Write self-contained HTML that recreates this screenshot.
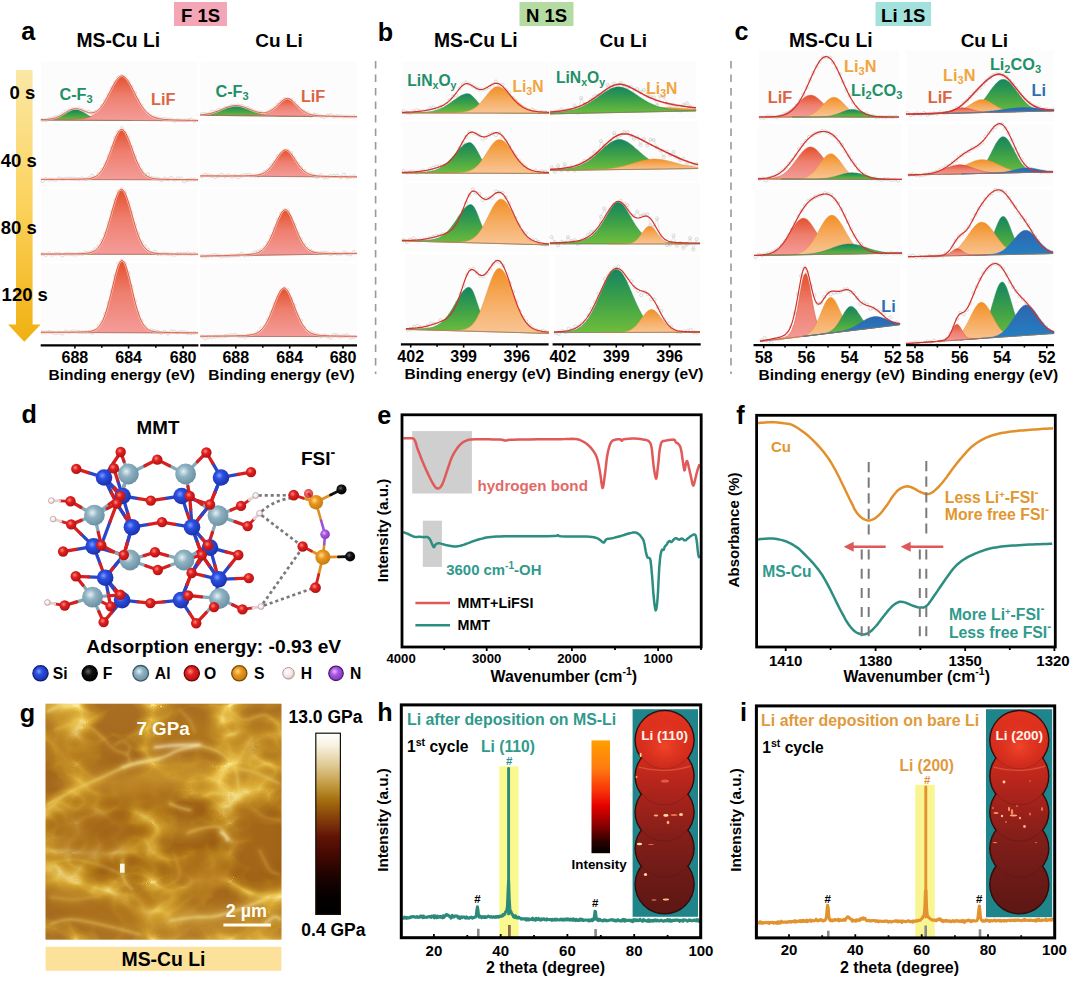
<!DOCTYPE html>
<html><head><meta charset="utf-8"><title>figure</title>
<style>
html,body{margin:0;padding:0;background:#fff;}
svg{display:block;}
text{font-family:"Liberation Sans",sans-serif;}
</style></head><body>
<svg width="1080" height="983" viewBox="0 0 1080 983">
<defs>

<marker id="mk" markerWidth="5" markerHeight="5" refX="2.5" refY="2.5" markerUnits="userSpaceOnUse"><circle cx="2.5" cy="2.5" r="1.6" fill="none" stroke="#c6c6c6" stroke-width="0.6"/></marker>
<linearGradient id="gR" x1="0" y1="0" x2="0" y2="1"><stop offset="0" stop-color="#e4502d"/><stop offset="0.45" stop-color="#ee7f6e"/><stop offset="1" stop-color="#f49c9a"/></linearGradient>
<linearGradient id="gG" x1="0" y1="0" x2="0" y2="1"><stop offset="0" stop-color="#148561"/><stop offset="0.5" stop-color="#3fa147"/><stop offset="1" stop-color="#6fbe3c"/></linearGradient>
<linearGradient id="gO" x1="0" y1="0" x2="0" y2="1"><stop offset="0" stop-color="#f28f25"/><stop offset="0.5" stop-color="#f6ad62"/><stop offset="1" stop-color="#f8c595"/></linearGradient>
<linearGradient id="gB" x1="0" y1="0" x2="0" y2="1"><stop offset="0" stop-color="#2e66b0"/><stop offset="1" stop-color="#2380c2"/></linearGradient>
<linearGradient id="gArrow" x1="0" y1="0" x2="0" y2="1"><stop offset="0" stop-color="#fbe8a6"/><stop offset="0.5" stop-color="#fbd25c"/><stop offset="1" stop-color="#f0b010"/></linearGradient>


<radialGradient id="aSi" cx="0.4" cy="0.38" r="0.65"><stop offset="0" stop-color="#7f9cff"/><stop offset="0.35" stop-color="#2a4fe0"/><stop offset="1" stop-color="#1a2fa8"/></radialGradient>
<radialGradient id="aAl" cx="0.4" cy="0.38" r="0.65"><stop offset="0" stop-color="#e4f0f4"/><stop offset="0.4" stop-color="#8fb2c2"/><stop offset="1" stop-color="#6a8fa2"/></radialGradient>
<radialGradient id="aO" cx="0.4" cy="0.38" r="0.65"><stop offset="0" stop-color="#ff8a80"/><stop offset="0.4" stop-color="#e02020"/><stop offset="1" stop-color="#b01010"/></radialGradient>
<radialGradient id="aS" cx="0.4" cy="0.38" r="0.65"><stop offset="0" stop-color="#ffd98a"/><stop offset="0.4" stop-color="#ea961e"/><stop offset="1" stop-color="#c07a10"/></radialGradient>
<radialGradient id="aN" cx="0.4" cy="0.38" r="0.65"><stop offset="0" stop-color="#e4b8ff"/><stop offset="0.4" stop-color="#a855e0"/><stop offset="1" stop-color="#8238b8"/></radialGradient>
<radialGradient id="aF" cx="0.4" cy="0.38" r="0.65"><stop offset="0" stop-color="#666"/><stop offset="0.4" stop-color="#111"/><stop offset="1" stop-color="#000"/></radialGradient>
<radialGradient id="aH" cx="0.4" cy="0.38" r="0.65"><stop offset="0" stop-color="#fff"/><stop offset="0.6" stop-color="#f6e6e6"/><stop offset="1" stop-color="#d8b8b8"/></radialGradient>


<linearGradient id="cbar" x1="0" y1="0" x2="0" y2="1">
 <stop offset="0" stop-color="#ffffff"/><stop offset="0.07" stop-color="#f7f1de"/><stop offset="0.19" stop-color="#dcc58a"/><stop offset="0.29" stop-color="#c0983c"/>
 <stop offset="0.37" stop-color="#a56e0e"/><stop offset="0.47" stop-color="#853f0a"/><stop offset="0.57" stop-color="#611406"/><stop offset="0.67" stop-color="#440902"/>
 <stop offset="0.79" stop-color="#1c0300"/><stop offset="0.9" stop-color="#050000"/><stop offset="1" stop-color="#000000"/></linearGradient>
<linearGradient id="ibar" x1="0" y1="0" x2="0" y2="1">
 <stop offset="0" stop-color="#ffa000"/><stop offset="0.25" stop-color="#ff7a10"/><stop offset="0.45" stop-color="#f83208"/>
 <stop offset="0.58" stop-color="#e60000"/><stop offset="0.75" stop-color="#8c0000"/><stop offset="0.9" stop-color="#2a0000"/><stop offset="1" stop-color="#000"/></linearGradient>
<filter id="afmN" x="0" y="0" width="1" height="1" color-interpolation-filters="sRGB">
 <feTurbulence type="turbulence" baseFrequency="0.013 0.017" numOctaves="3" seed="11"/>
 <feColorMatrix type="matrix" values="1 0 0 0 0  0 0 0 0 0  0 0 0 0 0  0 0 0 0 1" result="A"/>
 <feTurbulence type="fractalNoise" baseFrequency="0.009 0.011" numOctaves="2" seed="5"/>
 <feColorMatrix type="matrix" values="0 0 0 0 0  1 0 0 0 0  0 0 0 0 0  0 0 0 0 1" result="B"/>
 <feComposite in="A" in2="B" operator="arithmetic" k1="0" k2="1" k3="1" k4="0"/>
 <feColorMatrix type="matrix" values="-2.0 0.7 0 0 0.58  -2.0 0.7 0 0 0.58  -2.0 0.7 0 0 0.58  0 0 0 0 1"/>
 <feComponentTransfer>
  <feFuncR type="table" tableValues="0.63 0.66 0.68 0.70 0.735 0.77 0.815 0.86 0.915 0.96 1.0"/>
  <feFuncG type="table" tableValues="0.385 0.42 0.445 0.475 0.515 0.56 0.615 0.675 0.76 0.845 0.94"/>
  <feFuncB type="table" tableValues="0.095 0.10 0.105 0.11 0.125 0.14 0.175 0.22 0.31 0.43 0.66"/>
 </feComponentTransfer>
</filter>
<linearGradient id="afmV" x1="0" y1="0" x2="0" y2="1"><stop offset="0" stop-color="#ffe07a" stop-opacity="0.10"/><stop offset="0.3" stop-color="#ffe07a" stop-opacity="0.04"/><stop offset="0.45" stop-color="#8a5000" stop-opacity="0.16"/><stop offset="0.72" stop-color="#8a5000" stop-opacity="0.16"/><stop offset="0.88" stop-color="#ffe07a" stop-opacity="0.06"/><stop offset="1" stop-color="#ffe07a" stop-opacity="0.14"/></linearGradient>
<filter id="b1" x="-0.2" y="-0.2" width="1.4" height="1.4"><feGaussianBlur stdDeviation="1.1"/></filter>
<filter id="b2" x="-0.2" y="-0.2" width="1.4" height="1.4"><feGaussianBlur stdDeviation="2.4"/></filter>
<filter id="b6" x="-0.3" y="-0.3" width="1.6" height="1.6"><feGaussianBlur stdDeviation="7"/></filter>
<filter id="b05" x="-0.5" y="-0.5" width="2" height="2"><feGaussianBlur stdDeviation="0.7"/></filter>
<clipPath id="afmClip"><rect x="45.6" y="703.8" width="235.8" height="235.8"/></clipPath>

<linearGradient id="ins1" gradientUnits="userSpaceOnUse" x1="0" y1="710" x2="0" y2="915"><stop offset="0" stop-color="#e2341e"/><stop offset="0.22" stop-color="#d22b1c"/><stop offset="0.42" stop-color="#a9231b"/><stop offset="0.62" stop-color="#831e19"/><stop offset="0.82" stop-color="#6c1a17"/><stop offset="1" stop-color="#5c1714"/></linearGradient>
<radialGradient id="ins1h" gradientUnits="userSpaceOnUse" cx="664.6" cy="746" r="27"><stop offset="0" stop-color="#f4472c" stop-opacity="0.9"/><stop offset="1" stop-color="#e2341e" stop-opacity="0"/></radialGradient>
<linearGradient id="ins2" gradientUnits="userSpaceOnUse" x1="0" y1="710" x2="0" y2="915"><stop offset="0" stop-color="#e2341e"/><stop offset="0.22" stop-color="#d22b1c"/><stop offset="0.42" stop-color="#a9231b"/><stop offset="0.62" stop-color="#831e19"/><stop offset="0.82" stop-color="#6c1a17"/><stop offset="1" stop-color="#5c1714"/></linearGradient>
<radialGradient id="ins2h" gradientUnits="userSpaceOnUse" cx="1019.3" cy="746" r="27"><stop offset="0" stop-color="#f4472c" stop-opacity="0.9"/><stop offset="1" stop-color="#e2341e" stop-opacity="0"/></radialGradient>
</defs>
<rect width="1080" height="983" fill="#fff"/>
<rect x="174" y="2" width="53" height="24" fill="#f3a7b6"/>
<text x="200.5" y="21.5" font-size="18.5" fill="#000" text-anchor="middle" font-weight="bold" >F 1S</text>
<rect x="519.5" y="2" width="54" height="24" fill="#b4dca2"/>
<text x="546.5" y="21.5" font-size="18.5" fill="#000" text-anchor="middle" font-weight="bold" >N 1S</text>
<rect x="875.5" y="2" width="55.5" height="24" fill="#a3e1dd"/>
<text x="903.2" y="21.5" font-size="18.5" fill="#000" text-anchor="middle" font-weight="bold" >Li 1S</text>
<text x="21.2" y="39.7" font-size="25.2" fill="#000" text-anchor="start" font-weight="bold" >a</text>
<text x="377.8" y="40.7" font-size="25.2" fill="#000" text-anchor="start" font-weight="bold" >b</text>
<text x="734.6" y="39.7" font-size="25.2" fill="#000" text-anchor="start" font-weight="bold" >c</text>
<text x="118.3" y="47" font-size="19.3" fill="#000" text-anchor="middle" font-weight="bold" >MS-Cu Li</text>
<text x="475.8" y="47" font-size="19.3" fill="#000" text-anchor="middle" font-weight="bold" >MS-Cu Li</text>
<text x="830.8" y="47" font-size="19.3" fill="#000" text-anchor="middle" font-weight="bold" >MS-Cu Li</text>
<text x="279" y="47" font-size="19" fill="#000" text-anchor="middle" font-weight="bold" >Cu Li</text>
<text x="623.2" y="47" font-size="19" fill="#000" text-anchor="middle" font-weight="bold" >Cu Li</text>
<text x="984.4" y="47" font-size="19" fill="#000" text-anchor="middle" font-weight="bold" >Cu Li</text>
<path d="M375.6 61 V374" stroke="#9a9a9a" stroke-width="1.6" stroke-dasharray="7.5 6" fill="none"/>
<path d="M731 61 V374" stroke="#9a9a9a" stroke-width="1.6" stroke-dasharray="7.5 6" fill="none"/>
<path d="M16 70 H32.6 V324.5 H40.7 L24.3 341.8 L8 324.5 H16 Z" fill="url(#gArrow)"/>
<rect x="41" y="62" width="157" height="59.5" fill="#fcfcfc"/>
<path d="M42.5 120.2 L45.8 120.2 L49.1 119.2 L52.4 118.2 L55.7 117.2 L59 116.4 L62.3 114.1 L65.6 111.8 L68.9 110.7 L72.2 109.3 L75.5 108.9 L78.8 108.6 L82.1 110.1 L85.4 111.5 L88.7 111.8 L92 113.1 L95.3 112.1 L98.6 110.8 L101.9 105.9 L105.2 100.6 L108.5 95.1 L111.8 88.1 L115.1 82.5 L118.4 77.5 L121.7 76 L125 77.7 L128.3 81.5 L131.6 87 L134.9 93 L138.2 100.1 L141.5 105.6 L144.8 110.5 L148.1 113.6 L151.4 116.4 L154.7 117.4 L158 118.6 L161.3 119.4 L164.6 118.9 L167.9 119.5 L171.2 119.6 L174.5 121 L177.8 120 L181.1 120.5 L184.4 120.5 L187.7 120.1 L191 119.6 L194.3 120.9" fill="none" stroke="none" stroke-width="0.6" marker-start="url(#mk)" marker-mid="url(#mk)" marker-end="url(#mk)"/>
<path d="M41 120 L41 119.9 L42.1 119.9 L43.2 119.9 L44.3 119.9 L45.4 119.8 L46.5 119.8 L47.6 119.7 L48.7 119.6 L49.8 119.5 L51 119.3 L52.1 119.1 L53.2 118.9 L54.3 118.6 L55.4 118.3 L56.5 117.9 L57.6 117.5 L58.7 117 L59.8 116.5 L60.9 115.9 L62 115.3 L63.1 114.6 L64.2 114 L65.3 113.3 L66.4 112.7 L67.5 112 L68.6 111.4 L69.7 110.9 L70.9 110.4 L72 110.1 L73.1 109.8 L74.2 109.6 L75.3 109.6 L76.4 109.6 L77.5 109.8 L78.6 110.1 L79.7 110.5 L80.8 110.9 L81.9 111.5 L83 112.1 L84.1 112.7 L85.2 113.4 L86.3 114.1 L87.4 114.7 L88.5 115.4 L89.6 116 L90.8 116.6 L91.9 117.1 L93 117.6 L94.1 118.1 L95.2 118.4 L96.3 118.8 L97.4 119.1 L98.5 119.3 L99.6 119.5 L100.7 119.7 L101.8 119.8 L102.9 120 L104 120.1 L105.1 120.1 L106.2 120.2 L107.3 120.2 L108.4 120.3 L109.5 120.3 L110.7 120.3 L111.8 120.3 L112.9 120.3 L114 120.4 L115.1 120.4 L116.2 120.4 L117.3 120.4 L118.4 120.4 L119.5 120.4 L120.6 120.4 L121.7 120.4 L122.8 120.4 L123.9 120.4 L125 120.4 L126.1 120.4 L127.2 120.4 L128.3 120.4 L129.5 120.5 L130.6 120.5 L131.7 120.5 L132.8 120.5 L132.8 120.5 Z" fill="url(#gG)" stroke="#2a8a50" stroke-width="0.5"/>
<path d="M41 120 L41 119.7 L42.1 119.7 L43.2 119.7 L44.3 119.7 L45.4 119.7 L46.5 119.7 L47.6 119.7 L48.7 119.7 L49.8 119.7 L51 119.7 L52.1 119.6 L53.2 119.6 L54.3 119.6 L55.4 119.6 L56.5 119.6 L57.6 119.6 L58.7 119.6 L59.8 119.6 L60.9 119.6 L62 119.6 L63.1 119.5 L64.2 119.5 L65.3 119.5 L66.4 119.5 L67.5 119.5 L68.6 119.5 L69.7 119.4 L70.9 119.4 L72 119.4 L73.1 119.3 L74.2 119.3 L75.3 119.3 L76.4 119.2 L77.5 119.1 L78.6 119.1 L79.7 119 L80.8 118.9 L81.9 118.8 L83 118.6 L84.1 118.5 L85.2 118.3 L86.3 118 L87.4 117.7 L88.5 117.4 L89.6 117 L90.8 116.5 L91.9 116 L93 115.4 L94.1 114.7 L95.2 113.9 L96.3 112.9 L97.4 111.9 L98.5 110.7 L99.6 109.4 L100.7 108 L101.8 106.4 L102.9 104.7 L104 102.9 L105.1 101 L106.2 99 L107.3 96.9 L108.4 94.7 L109.5 92.5 L110.7 90.3 L111.8 88.1 L112.9 86 L114 84 L115.1 82.1 L116.2 80.4 L117.3 78.9 L118.4 77.7 L119.5 76.8 L120.6 76.2 L121.7 75.9 L122.8 76 L123.9 76.4 L125 77.2 L126.1 78.3 L127.2 79.6 L128.3 81.2 L129.5 83 L130.6 85 L131.7 87.1 L132.8 89.3 L133.9 91.5 L135 93.7 L136.1 95.9 L137.2 98 L138.3 100.1 L139.4 102.1 L140.5 104 L141.6 105.7 L142.7 107.4 L143.8 108.9 L144.9 110.3 L146 111.5 L147.1 112.6 L148.2 113.7 L149.4 114.5 L150.5 115.3 L151.6 116 L152.7 116.6 L153.8 117.1 L154.9 117.5 L156 117.9 L157.1 118.2 L158.2 118.5 L159.3 118.7 L160.4 118.9 L161.5 119.1 L162.6 119.2 L163.7 119.4 L164.8 119.5 L165.9 119.6 L167 119.6 L168.1 119.7 L169.3 119.8 L170.4 119.8 L171.5 119.9 L172.6 119.9 L173.7 119.9 L174.8 120 L175.9 120 L177 120 L178.1 120.1 L179.2 120.1 L180.3 120.1 L181.4 120.2 L182.5 120.2 L183.6 120.2 L184.7 120.2 L185.8 120.3 L186.9 120.3 L188 120.3 L189.2 120.3 L190.3 120.3 L191.4 120.4 L192.5 120.4 L193.6 120.4 L194.7 120.4 L195.8 120.4 L196.9 120.4 L198 120.5 L198 120.8 Z" fill="url(#gR)" stroke="#d8553a" stroke-width="0.5"/>
<path d="M41 120 L198 120.8" stroke="#9c7468" stroke-width="0.8" fill="none" opacity="0.8"/>
<path d="M41 119.6 L42.1 119.6 L43.2 119.6 L44.3 119.5 L45.4 119.5 L46.5 119.4 L47.6 119.3 L48.7 119.2 L49.8 119.1 L51 118.9 L52.1 118.7 L53.2 118.4 L54.3 118.2 L55.4 117.8 L56.5 117.4 L57.6 117 L58.7 116.5 L59.8 116 L60.9 115.4 L62 114.7 L63.1 114.1 L64.2 113.4 L65.3 112.7 L66.4 112 L67.5 111.4 L68.6 110.8 L69.7 110.2 L70.9 109.7 L72 109.3 L73.1 109 L74.2 108.8 L75.3 108.7 L76.4 108.7 L77.5 108.8 L78.6 109 L79.7 109.3 L80.8 109.6 L81.9 110 L83 110.5 L84.1 111 L85.2 111.4 L86.3 111.9 L87.4 112.2 L88.5 112.5 L89.6 112.8 L90.8 112.9 L91.9 112.9 L93 112.7 L94.1 112.5 L95.2 112 L96.3 111.4 L97.4 110.7 L98.5 109.7 L99.6 108.6 L100.7 107.4 L101.8 105.9 L102.9 104.4 L104 102.6 L105.1 100.8 L106.2 98.8 L107.3 96.7 L108.4 94.6 L109.5 92.4 L110.7 90.2 L111.8 88.1 L112.9 86 L114 84 L115.1 82.1 L116.2 80.4 L117.3 78.9 L118.4 77.7 L119.5 76.8 L120.6 76.2 L121.7 75.9 L122.8 76 L123.9 76.4 L125 77.2 L126.1 78.3 L127.2 79.6 L128.3 81.2 L129.5 83 L130.6 85 L131.7 87.1 L132.8 89.3 L133.9 91.5 L135 93.7 L136.1 95.9 L137.2 98 L138.3 100.1 L139.4 102.1 L140.5 104 L141.6 105.7 L142.7 107.4 L143.8 108.9 L144.9 110.3 L146 111.5 L147.1 112.6 L148.2 113.7 L149.4 114.5 L150.5 115.3 L151.6 116 L152.7 116.6 L153.8 117.1 L154.9 117.5 L156 117.9 L157.1 118.2 L158.2 118.5 L159.3 118.7 L160.4 118.9 L161.5 119.1 L162.6 119.2 L163.7 119.4 L164.8 119.5 L165.9 119.6 L167 119.6 L168.1 119.7 L169.3 119.8 L170.4 119.8 L171.5 119.9 L172.6 119.9 L173.7 119.9 L174.8 120 L175.9 120 L177 120 L178.1 120.1 L179.2 120.1 L180.3 120.1 L181.4 120.2 L182.5 120.2 L183.6 120.2 L184.7 120.2 L185.8 120.3 L186.9 120.3 L188 120.3 L189.2 120.3 L190.3 120.3 L191.4 120.4 L192.5 120.4 L193.6 120.4 L194.7 120.4 L195.8 120.4 L196.9 120.4 L198 120.5" fill="none" stroke="#fbe3d8" stroke-width="2.2" opacity="0.7"/>
<path d="M41 119.6 L42.1 119.6 L43.2 119.6 L44.3 119.5 L45.4 119.5 L46.5 119.4 L47.6 119.3 L48.7 119.2 L49.8 119.1 L51 118.9 L52.1 118.7 L53.2 118.4 L54.3 118.2 L55.4 117.8 L56.5 117.4 L57.6 117 L58.7 116.5 L59.8 116 L60.9 115.4 L62 114.7 L63.1 114.1 L64.2 113.4 L65.3 112.7 L66.4 112 L67.5 111.4 L68.6 110.8 L69.7 110.2 L70.9 109.7 L72 109.3 L73.1 109 L74.2 108.8 L75.3 108.7 L76.4 108.7 L77.5 108.8 L78.6 109 L79.7 109.3 L80.8 109.6 L81.9 110 L83 110.5 L84.1 111 L85.2 111.4 L86.3 111.9 L87.4 112.2 L88.5 112.5 L89.6 112.8 L90.8 112.9 L91.9 112.9 L93 112.7 L94.1 112.5 L95.2 112 L96.3 111.4 L97.4 110.7 L98.5 109.7 L99.6 108.6 L100.7 107.4 L101.8 105.9 L102.9 104.4 L104 102.6 L105.1 100.8 L106.2 98.8 L107.3 96.7 L108.4 94.6 L109.5 92.4 L110.7 90.2 L111.8 88.1 L112.9 86 L114 84 L115.1 82.1 L116.2 80.4 L117.3 78.9 L118.4 77.7 L119.5 76.8 L120.6 76.2 L121.7 75.9 L122.8 76 L123.9 76.4 L125 77.2 L126.1 78.3 L127.2 79.6 L128.3 81.2 L129.5 83 L130.6 85 L131.7 87.1 L132.8 89.3 L133.9 91.5 L135 93.7 L136.1 95.9 L137.2 98 L138.3 100.1 L139.4 102.1 L140.5 104 L141.6 105.7 L142.7 107.4 L143.8 108.9 L144.9 110.3 L146 111.5 L147.1 112.6 L148.2 113.7 L149.4 114.5 L150.5 115.3 L151.6 116 L152.7 116.6 L153.8 117.1 L154.9 117.5 L156 117.9 L157.1 118.2 L158.2 118.5 L159.3 118.7 L160.4 118.9 L161.5 119.1 L162.6 119.2 L163.7 119.4 L164.8 119.5 L165.9 119.6 L167 119.6 L168.1 119.7 L169.3 119.8 L170.4 119.8 L171.5 119.9 L172.6 119.9 L173.7 119.9 L174.8 120 L175.9 120 L177 120 L178.1 120.1 L179.2 120.1 L180.3 120.1 L181.4 120.2 L182.5 120.2 L183.6 120.2 L184.7 120.2 L185.8 120.3 L186.9 120.3 L188 120.3 L189.2 120.3 L190.3 120.3 L191.4 120.4 L192.5 120.4 L193.6 120.4 L194.7 120.4 L195.8 120.4 L196.9 120.4 L198 120.5" fill="none" stroke="#e0513a" stroke-width="0.9" stroke-linejoin="round"/>
<rect x="41" y="124" width="157" height="63" fill="#fcfcfc"/>
<path d="M42.5 181 L45.8 178.9 L49.1 179.6 L52.4 179.5 L55.7 179.9 L59 178.4 L62.3 179 L65.6 178.8 L68.9 178.5 L72.2 178.7 L75.5 178.9 L78.8 179 L82.1 178.4 L85.4 179.2 L88.7 178.2 L92 175.7 L95.3 177.5 L98.6 174 L101.9 169.8 L105.2 164.5 L108.5 156.6 L111.8 147.3 L115.1 137.8 L118.4 132 L121.7 128.3 L125 132.8 L128.3 137.6 L131.6 147.2 L134.9 156.5 L138.2 164.5 L141.5 170.2 L144.8 174.7 L148.1 174.2 L151.4 177.9 L154.7 178.5 L158 178.7 L161.3 180.2 L164.6 178.6 L167.9 179.2 L171.2 177.9 L174.5 179.6 L177.8 178.3 L181.1 178.4 L184.4 181.1 L187.7 180 L191 179.5 L194.3 179.7" fill="none" stroke="none" stroke-width="0.6" marker-start="url(#mk)" marker-mid="url(#mk)" marker-end="url(#mk)"/>
<path d="M41 179.5 L41 179.4 L42.1 179.4 L43.2 179.4 L44.3 179.4 L45.4 179.4 L46.5 179.4 L47.6 179.4 L48.7 179.4 L49.8 179.4 L51 179.4 L52.1 179.4 L53.2 179.4 L54.3 179.4 L55.4 179.4 L56.5 179.4 L57.6 179.3 L58.7 179.3 L59.8 179.3 L60.9 179.3 L62 179.3 L63.1 179.3 L64.2 179.3 L65.3 179.3 L66.4 179.3 L67.5 179.3 L68.6 179.3 L69.7 179.3 L70.9 179.3 L72 179.3 L73.1 179.2 L74.2 179.2 L75.3 179.2 L76.4 179.2 L77.5 179.2 L78.6 179.2 L79.7 179.1 L80.8 179.1 L81.9 179.1 L83 179 L84.1 179 L85.2 178.9 L86.3 178.9 L87.4 178.8 L88.5 178.6 L89.6 178.5 L90.8 178.3 L91.9 178 L93 177.7 L94.1 177.2 L95.2 176.7 L96.3 176.1 L97.4 175.3 L98.5 174.4 L99.6 173.2 L100.7 171.9 L101.8 170.4 L102.9 168.7 L104 166.7 L105.1 164.5 L106.2 162 L107.3 159.4 L108.4 156.6 L109.5 153.6 L110.7 150.5 L111.8 147.4 L112.9 144.3 L114 141.3 L115.1 138.5 L116.2 135.9 L117.3 133.7 L118.4 131.8 L119.5 130.5 L120.6 129.6 L121.7 129.4 L122.8 129.6 L123.9 130.5 L125 131.9 L126.1 133.7 L127.2 136 L128.3 138.6 L129.5 141.4 L130.6 144.4 L131.7 147.5 L132.8 150.6 L133.9 153.7 L135 156.7 L136.1 159.5 L137.2 162.1 L138.3 164.6 L139.4 166.8 L140.5 168.8 L141.6 170.5 L142.7 172 L143.8 173.4 L144.9 174.5 L146 175.4 L147.1 176.2 L148.2 176.8 L149.4 177.3 L150.5 177.8 L151.6 178.1 L152.7 178.4 L153.8 178.6 L154.9 178.8 L156 178.9 L157.1 179 L158.2 179.1 L159.3 179.1 L160.4 179.2 L161.5 179.2 L162.6 179.3 L163.7 179.3 L164.8 179.3 L165.9 179.4 L167 179.4 L168.1 179.4 L169.3 179.4 L170.4 179.4 L171.5 179.5 L172.6 179.5 L173.7 179.5 L174.8 179.5 L175.9 179.5 L177 179.5 L178.1 179.5 L179.2 179.5 L180.3 179.5 L181.4 179.6 L182.5 179.6 L183.6 179.6 L184.7 179.6 L185.8 179.6 L186.9 179.6 L188 179.6 L189.2 179.6 L190.3 179.6 L191.4 179.6 L192.5 179.6 L193.6 179.6 L194.7 179.7 L195.8 179.7 L196.9 179.7 L198 179.7 L198 179.8 Z" fill="url(#gR)" stroke="#d8553a" stroke-width="0.5"/>
<path d="M41 179.5 L198 179.8" stroke="#9c7468" stroke-width="0.8" fill="none" opacity="0.8"/>
<path d="M41 179.4 L42.1 179.4 L43.2 179.4 L44.3 179.4 L45.4 179.4 L46.5 179.4 L47.6 179.4 L48.7 179.4 L49.8 179.4 L51 179.4 L52.1 179.4 L53.2 179.4 L54.3 179.4 L55.4 179.4 L56.5 179.4 L57.6 179.3 L58.7 179.3 L59.8 179.3 L60.9 179.3 L62 179.3 L63.1 179.3 L64.2 179.3 L65.3 179.3 L66.4 179.3 L67.5 179.3 L68.6 179.3 L69.7 179.3 L70.9 179.3 L72 179.3 L73.1 179.2 L74.2 179.2 L75.3 179.2 L76.4 179.2 L77.5 179.2 L78.6 179.2 L79.7 179.1 L80.8 179.1 L81.9 179.1 L83 179 L84.1 179 L85.2 178.9 L86.3 178.9 L87.4 178.8 L88.5 178.6 L89.6 178.5 L90.8 178.3 L91.9 178 L93 177.7 L94.1 177.2 L95.2 176.7 L96.3 176.1 L97.4 175.3 L98.5 174.4 L99.6 173.2 L100.7 171.9 L101.8 170.4 L102.9 168.7 L104 166.7 L105.1 164.5 L106.2 162 L107.3 159.4 L108.4 156.6 L109.5 153.6 L110.7 150.5 L111.8 147.4 L112.9 144.3 L114 141.3 L115.1 138.5 L116.2 135.9 L117.3 133.7 L118.4 131.8 L119.5 130.5 L120.6 129.6 L121.7 129.4 L122.8 129.6 L123.9 130.5 L125 131.9 L126.1 133.7 L127.2 136 L128.3 138.6 L129.5 141.4 L130.6 144.4 L131.7 147.5 L132.8 150.6 L133.9 153.7 L135 156.7 L136.1 159.5 L137.2 162.1 L138.3 164.6 L139.4 166.8 L140.5 168.8 L141.6 170.5 L142.7 172 L143.8 173.4 L144.9 174.5 L146 175.4 L147.1 176.2 L148.2 176.8 L149.4 177.3 L150.5 177.8 L151.6 178.1 L152.7 178.4 L153.8 178.6 L154.9 178.8 L156 178.9 L157.1 179 L158.2 179.1 L159.3 179.1 L160.4 179.2 L161.5 179.2 L162.6 179.3 L163.7 179.3 L164.8 179.3 L165.9 179.4 L167 179.4 L168.1 179.4 L169.3 179.4 L170.4 179.4 L171.5 179.5 L172.6 179.5 L173.7 179.5 L174.8 179.5 L175.9 179.5 L177 179.5 L178.1 179.5 L179.2 179.5 L180.3 179.5 L181.4 179.6 L182.5 179.6 L183.6 179.6 L184.7 179.6 L185.8 179.6 L186.9 179.6 L188 179.6 L189.2 179.6 L190.3 179.6 L191.4 179.6 L192.5 179.6 L193.6 179.6 L194.7 179.7 L195.8 179.7 L196.9 179.7 L198 179.7" fill="none" stroke="#fbe3d8" stroke-width="2.2" opacity="0.7"/>
<path d="M41 179.4 L42.1 179.4 L43.2 179.4 L44.3 179.4 L45.4 179.4 L46.5 179.4 L47.6 179.4 L48.7 179.4 L49.8 179.4 L51 179.4 L52.1 179.4 L53.2 179.4 L54.3 179.4 L55.4 179.4 L56.5 179.4 L57.6 179.3 L58.7 179.3 L59.8 179.3 L60.9 179.3 L62 179.3 L63.1 179.3 L64.2 179.3 L65.3 179.3 L66.4 179.3 L67.5 179.3 L68.6 179.3 L69.7 179.3 L70.9 179.3 L72 179.3 L73.1 179.2 L74.2 179.2 L75.3 179.2 L76.4 179.2 L77.5 179.2 L78.6 179.2 L79.7 179.1 L80.8 179.1 L81.9 179.1 L83 179 L84.1 179 L85.2 178.9 L86.3 178.9 L87.4 178.8 L88.5 178.6 L89.6 178.5 L90.8 178.3 L91.9 178 L93 177.7 L94.1 177.2 L95.2 176.7 L96.3 176.1 L97.4 175.3 L98.5 174.4 L99.6 173.2 L100.7 171.9 L101.8 170.4 L102.9 168.7 L104 166.7 L105.1 164.5 L106.2 162 L107.3 159.4 L108.4 156.6 L109.5 153.6 L110.7 150.5 L111.8 147.4 L112.9 144.3 L114 141.3 L115.1 138.5 L116.2 135.9 L117.3 133.7 L118.4 131.8 L119.5 130.5 L120.6 129.6 L121.7 129.4 L122.8 129.6 L123.9 130.5 L125 131.9 L126.1 133.7 L127.2 136 L128.3 138.6 L129.5 141.4 L130.6 144.4 L131.7 147.5 L132.8 150.6 L133.9 153.7 L135 156.7 L136.1 159.5 L137.2 162.1 L138.3 164.6 L139.4 166.8 L140.5 168.8 L141.6 170.5 L142.7 172 L143.8 173.4 L144.9 174.5 L146 175.4 L147.1 176.2 L148.2 176.8 L149.4 177.3 L150.5 177.8 L151.6 178.1 L152.7 178.4 L153.8 178.6 L154.9 178.8 L156 178.9 L157.1 179 L158.2 179.1 L159.3 179.1 L160.4 179.2 L161.5 179.2 L162.6 179.3 L163.7 179.3 L164.8 179.3 L165.9 179.4 L167 179.4 L168.1 179.4 L169.3 179.4 L170.4 179.4 L171.5 179.5 L172.6 179.5 L173.7 179.5 L174.8 179.5 L175.9 179.5 L177 179.5 L178.1 179.5 L179.2 179.5 L180.3 179.5 L181.4 179.6 L182.5 179.6 L183.6 179.6 L184.7 179.6 L185.8 179.6 L186.9 179.6 L188 179.6 L189.2 179.6 L190.3 179.6 L191.4 179.6 L192.5 179.6 L193.6 179.6 L194.7 179.7 L195.8 179.7 L196.9 179.7 L198 179.7" fill="none" stroke="#e0513a" stroke-width="0.9" stroke-linejoin="round"/>
<rect x="41" y="189.5" width="157" height="71.5" fill="#fcfcfc"/>
<path d="M42.5 254.1 L45.8 254.9 L49.1 253.4 L52.4 254.7 L55.7 253.8 L59 253.8 L62.3 255.3 L65.6 254 L68.9 253.9 L72.2 254.4 L75.5 254.6 L78.8 253.7 L82.1 254 L85.4 252.7 L88.7 252.7 L92 251.8 L95.3 249.4 L98.6 246.1 L101.9 240.7 L105.2 233.8 L108.5 223.5 L111.8 211.5 L115.1 200.4 L118.4 191.2 L121.7 189.3 L125 193.1 L128.3 202.2 L131.6 212.6 L134.9 224.7 L138.2 233.7 L141.5 242.3 L144.8 246.1 L148.1 249.7 L151.4 253.1 L154.7 251.6 L158 254.1 L161.3 254 L164.6 253.6 L167.9 254.2 L171.2 254.3 L174.5 254.8 L177.8 253.9 L181.1 253.7 L184.4 253.7 L187.7 253.5 L191 254.2 L194.3 253.7" fill="none" stroke="none" stroke-width="0.6" marker-start="url(#mk)" marker-mid="url(#mk)" marker-end="url(#mk)"/>
<path d="M41 254.2 L41 254 L42.1 254 L43.2 254 L44.3 254 L45.4 254 L46.5 254 L47.6 254 L48.7 254 L49.8 254 L51 254 L52.1 254 L53.2 254 L54.3 254 L55.4 254 L56.5 254 L57.6 254 L58.7 254 L59.8 254 L60.9 254 L62 254 L63.1 253.9 L64.2 253.9 L65.3 253.9 L66.4 253.9 L67.5 253.9 L68.6 253.9 L69.7 253.9 L70.9 253.9 L72 253.9 L73.1 253.8 L74.2 253.8 L75.3 253.8 L76.4 253.8 L77.5 253.8 L78.6 253.7 L79.7 253.7 L80.8 253.7 L81.9 253.6 L83 253.6 L84.1 253.5 L85.2 253.4 L86.3 253.3 L87.4 253.2 L88.5 253 L89.6 252.8 L90.8 252.5 L91.9 252.1 L93 251.7 L94.1 251.1 L95.2 250.4 L96.3 249.5 L97.4 248.5 L98.5 247.2 L99.6 245.8 L100.7 244 L101.8 242 L102.9 239.7 L104 237.1 L105.1 234.1 L106.2 230.9 L107.3 227.5 L108.4 223.8 L109.5 219.9 L110.7 215.9 L111.8 211.9 L112.9 207.9 L114 204.1 L115.1 200.5 L116.2 197.2 L117.3 194.4 L118.4 192.1 L119.5 190.5 L120.6 189.5 L121.7 189.3 L122.8 189.8 L123.9 191 L125 192.9 L126.1 195.4 L127.2 198.4 L128.3 201.8 L129.5 205.5 L130.6 209.4 L131.7 213.5 L132.8 217.5 L133.9 221.4 L135 225.3 L136.1 228.9 L137.2 232.2 L138.3 235.3 L139.4 238.1 L140.5 240.6 L141.6 242.9 L142.7 244.8 L143.8 246.4 L144.9 247.8 L146 249 L147.1 250 L148.2 250.7 L149.4 251.4 L150.5 251.9 L151.6 252.3 L152.7 252.7 L153.8 252.9 L154.9 253.1 L156 253.3 L157.1 253.4 L158.2 253.5 L159.3 253.6 L160.4 253.7 L161.5 253.7 L162.6 253.8 L163.7 253.8 L164.8 253.8 L165.9 253.9 L167 253.9 L168.1 253.9 L169.3 253.9 L170.4 254 L171.5 254 L172.6 254 L173.7 254 L174.8 254 L175.9 254 L177 254.1 L178.1 254.1 L179.2 254.1 L180.3 254.1 L181.4 254.1 L182.5 254.1 L183.6 254.1 L184.7 254.1 L185.8 254.1 L186.9 254.2 L188 254.2 L189.2 254.2 L190.3 254.2 L191.4 254.2 L192.5 254.2 L193.6 254.2 L194.7 254.2 L195.8 254.2 L196.9 254.2 L198 254.2 L198 254.4 Z" fill="url(#gR)" stroke="#d8553a" stroke-width="0.5"/>
<path d="M41 254.2 L198 254.4" stroke="#9c7468" stroke-width="0.8" fill="none" opacity="0.8"/>
<path d="M41 254 L42.1 254 L43.2 254 L44.3 254 L45.4 254 L46.5 254 L47.6 254 L48.7 254 L49.8 254 L51 254 L52.1 254 L53.2 254 L54.3 254 L55.4 254 L56.5 254 L57.6 254 L58.7 254 L59.8 254 L60.9 254 L62 254 L63.1 253.9 L64.2 253.9 L65.3 253.9 L66.4 253.9 L67.5 253.9 L68.6 253.9 L69.7 253.9 L70.9 253.9 L72 253.9 L73.1 253.8 L74.2 253.8 L75.3 253.8 L76.4 253.8 L77.5 253.8 L78.6 253.7 L79.7 253.7 L80.8 253.7 L81.9 253.6 L83 253.6 L84.1 253.5 L85.2 253.4 L86.3 253.3 L87.4 253.2 L88.5 253 L89.6 252.8 L90.8 252.5 L91.9 252.1 L93 251.7 L94.1 251.1 L95.2 250.4 L96.3 249.5 L97.4 248.5 L98.5 247.2 L99.6 245.8 L100.7 244 L101.8 242 L102.9 239.7 L104 237.1 L105.1 234.1 L106.2 230.9 L107.3 227.5 L108.4 223.8 L109.5 219.9 L110.7 215.9 L111.8 211.9 L112.9 207.9 L114 204.1 L115.1 200.5 L116.2 197.2 L117.3 194.4 L118.4 192.1 L119.5 190.5 L120.6 189.5 L121.7 189.3 L122.8 189.8 L123.9 191 L125 192.9 L126.1 195.4 L127.2 198.4 L128.3 201.8 L129.5 205.5 L130.6 209.4 L131.7 213.5 L132.8 217.5 L133.9 221.4 L135 225.3 L136.1 228.9 L137.2 232.2 L138.3 235.3 L139.4 238.1 L140.5 240.6 L141.6 242.9 L142.7 244.8 L143.8 246.4 L144.9 247.8 L146 249 L147.1 250 L148.2 250.7 L149.4 251.4 L150.5 251.9 L151.6 252.3 L152.7 252.7 L153.8 252.9 L154.9 253.1 L156 253.3 L157.1 253.4 L158.2 253.5 L159.3 253.6 L160.4 253.7 L161.5 253.7 L162.6 253.8 L163.7 253.8 L164.8 253.8 L165.9 253.9 L167 253.9 L168.1 253.9 L169.3 253.9 L170.4 254 L171.5 254 L172.6 254 L173.7 254 L174.8 254 L175.9 254 L177 254.1 L178.1 254.1 L179.2 254.1 L180.3 254.1 L181.4 254.1 L182.5 254.1 L183.6 254.1 L184.7 254.1 L185.8 254.1 L186.9 254.2 L188 254.2 L189.2 254.2 L190.3 254.2 L191.4 254.2 L192.5 254.2 L193.6 254.2 L194.7 254.2 L195.8 254.2 L196.9 254.2 L198 254.2" fill="none" stroke="#fbe3d8" stroke-width="2.2" opacity="0.7"/>
<path d="M41 254 L42.1 254 L43.2 254 L44.3 254 L45.4 254 L46.5 254 L47.6 254 L48.7 254 L49.8 254 L51 254 L52.1 254 L53.2 254 L54.3 254 L55.4 254 L56.5 254 L57.6 254 L58.7 254 L59.8 254 L60.9 254 L62 254 L63.1 253.9 L64.2 253.9 L65.3 253.9 L66.4 253.9 L67.5 253.9 L68.6 253.9 L69.7 253.9 L70.9 253.9 L72 253.9 L73.1 253.8 L74.2 253.8 L75.3 253.8 L76.4 253.8 L77.5 253.8 L78.6 253.7 L79.7 253.7 L80.8 253.7 L81.9 253.6 L83 253.6 L84.1 253.5 L85.2 253.4 L86.3 253.3 L87.4 253.2 L88.5 253 L89.6 252.8 L90.8 252.5 L91.9 252.1 L93 251.7 L94.1 251.1 L95.2 250.4 L96.3 249.5 L97.4 248.5 L98.5 247.2 L99.6 245.8 L100.7 244 L101.8 242 L102.9 239.7 L104 237.1 L105.1 234.1 L106.2 230.9 L107.3 227.5 L108.4 223.8 L109.5 219.9 L110.7 215.9 L111.8 211.9 L112.9 207.9 L114 204.1 L115.1 200.5 L116.2 197.2 L117.3 194.4 L118.4 192.1 L119.5 190.5 L120.6 189.5 L121.7 189.3 L122.8 189.8 L123.9 191 L125 192.9 L126.1 195.4 L127.2 198.4 L128.3 201.8 L129.5 205.5 L130.6 209.4 L131.7 213.5 L132.8 217.5 L133.9 221.4 L135 225.3 L136.1 228.9 L137.2 232.2 L138.3 235.3 L139.4 238.1 L140.5 240.6 L141.6 242.9 L142.7 244.8 L143.8 246.4 L144.9 247.8 L146 249 L147.1 250 L148.2 250.7 L149.4 251.4 L150.5 251.9 L151.6 252.3 L152.7 252.7 L153.8 252.9 L154.9 253.1 L156 253.3 L157.1 253.4 L158.2 253.5 L159.3 253.6 L160.4 253.7 L161.5 253.7 L162.6 253.8 L163.7 253.8 L164.8 253.8 L165.9 253.9 L167 253.9 L168.1 253.9 L169.3 253.9 L170.4 254 L171.5 254 L172.6 254 L173.7 254 L174.8 254 L175.9 254 L177 254.1 L178.1 254.1 L179.2 254.1 L180.3 254.1 L181.4 254.1 L182.5 254.1 L183.6 254.1 L184.7 254.1 L185.8 254.1 L186.9 254.2 L188 254.2 L189.2 254.2 L190.3 254.2 L191.4 254.2 L192.5 254.2 L193.6 254.2 L194.7 254.2 L195.8 254.2 L196.9 254.2 L198 254.2" fill="none" stroke="#e0513a" stroke-width="0.9" stroke-linejoin="round"/>
<rect x="41" y="263.5" width="157" height="78.5" fill="#fcfcfc"/>
<path d="M42.5 332.3 L45.8 332.6 L49.1 331.9 L52.4 332.5 L55.7 333 L59 332.6 L62.3 333.5 L65.6 331.5 L68.9 332.2 L72.2 331.6 L75.5 331.5 L78.8 331.9 L82.1 332.1 L85.4 332.1 L88.7 331.9 L92 332.7 L95.3 330.3 L98.6 325.7 L101.9 322.3 L105.2 313.9 L108.5 303 L111.8 290.9 L115.1 275.8 L118.4 263.5 L121.7 260.7 L125 263.5 L128.3 272.8 L131.6 286.6 L134.9 300.7 L138.2 312.7 L141.5 320.8 L144.8 326.5 L148.1 330.9 L151.4 330.3 L154.7 331 L158 331.8 L161.3 333.1 L164.6 331.8 L167.9 333.6 L171.2 331.5 L174.5 331.7 L177.8 332.6 L181.1 332 L184.4 332.2 L187.7 333.1 L191 333.3 L194.3 332.9" fill="none" stroke="none" stroke-width="0.6" marker-start="url(#mk)" marker-mid="url(#mk)" marker-end="url(#mk)"/>
<path d="M41 332.4 L41 332.3 L42.1 332.3 L43.2 332.3 L44.3 332.3 L45.4 332.2 L46.5 332.2 L47.6 332.2 L48.7 332.2 L49.8 332.2 L51 332.2 L52.1 332.2 L53.2 332.2 L54.3 332.2 L55.4 332.2 L56.5 332.2 L57.6 332.2 L58.7 332.2 L59.8 332.2 L60.9 332.2 L62 332.2 L63.1 332.2 L64.2 332.2 L65.3 332.2 L66.4 332.2 L67.5 332.2 L68.6 332.2 L69.7 332.2 L70.9 332.2 L72 332.1 L73.1 332.1 L74.2 332.1 L75.3 332.1 L76.4 332.1 L77.5 332.1 L78.6 332 L79.7 332 L80.8 332 L81.9 332 L83 331.9 L84.1 331.9 L85.2 331.8 L86.3 331.8 L87.4 331.7 L88.5 331.5 L89.6 331.4 L90.8 331.2 L91.9 330.9 L93 330.6 L94.1 330.2 L95.2 329.7 L96.3 329 L97.4 328.1 L98.5 327.1 L99.6 325.8 L100.7 324.2 L101.8 322.3 L102.9 320.1 L104 317.5 L105.1 314.6 L106.2 311.3 L107.3 307.6 L108.4 303.6 L109.5 299.3 L110.7 294.7 L111.8 290 L112.9 285.3 L114 280.6 L115.1 276.1 L116.2 271.9 L117.3 268.2 L118.4 265.1 L119.5 262.7 L120.6 261.1 L121.7 260.4 L122.8 260.7 L123.9 261.8 L125 263.8 L126.1 266.5 L127.2 270 L128.3 273.9 L129.5 278.3 L130.6 282.9 L131.7 287.6 L132.8 292.4 L133.9 297 L135 301.5 L136.1 305.7 L137.2 309.5 L138.3 313 L139.4 316.2 L140.5 319 L141.6 321.4 L142.7 323.4 L143.8 325.1 L144.9 326.6 L146 327.8 L147.1 328.7 L148.2 329.5 L149.4 330.1 L150.5 330.6 L151.6 331 L152.7 331.3 L153.8 331.5 L154.9 331.7 L156 331.9 L157.1 332 L158.2 332.1 L159.3 332.1 L160.4 332.2 L161.5 332.2 L162.6 332.3 L163.7 332.3 L164.8 332.4 L165.9 332.4 L167 332.4 L168.1 332.4 L169.3 332.5 L170.4 332.5 L171.5 332.5 L172.6 332.5 L173.7 332.6 L174.8 332.6 L175.9 332.6 L177 332.6 L178.1 332.6 L179.2 332.6 L180.3 332.6 L181.4 332.7 L182.5 332.7 L183.6 332.7 L184.7 332.7 L185.8 332.7 L186.9 332.7 L188 332.7 L189.2 332.8 L190.3 332.8 L191.4 332.8 L192.5 332.8 L193.6 332.8 L194.7 332.8 L195.8 332.8 L196.9 332.8 L198 332.8 L198 333 Z" fill="url(#gR)" stroke="#d8553a" stroke-width="0.5"/>
<path d="M41 332.4 L198 333" stroke="#9c7468" stroke-width="0.8" fill="none" opacity="0.8"/>
<path d="M41 332.3 L42.1 332.3 L43.2 332.3 L44.3 332.3 L45.4 332.2 L46.5 332.2 L47.6 332.2 L48.7 332.2 L49.8 332.2 L51 332.2 L52.1 332.2 L53.2 332.2 L54.3 332.2 L55.4 332.2 L56.5 332.2 L57.6 332.2 L58.7 332.2 L59.8 332.2 L60.9 332.2 L62 332.2 L63.1 332.2 L64.2 332.2 L65.3 332.2 L66.4 332.2 L67.5 332.2 L68.6 332.2 L69.7 332.2 L70.9 332.2 L72 332.1 L73.1 332.1 L74.2 332.1 L75.3 332.1 L76.4 332.1 L77.5 332.1 L78.6 332 L79.7 332 L80.8 332 L81.9 332 L83 331.9 L84.1 331.9 L85.2 331.8 L86.3 331.8 L87.4 331.7 L88.5 331.5 L89.6 331.4 L90.8 331.2 L91.9 330.9 L93 330.6 L94.1 330.2 L95.2 329.7 L96.3 329 L97.4 328.1 L98.5 327.1 L99.6 325.8 L100.7 324.2 L101.8 322.3 L102.9 320.1 L104 317.5 L105.1 314.6 L106.2 311.3 L107.3 307.6 L108.4 303.6 L109.5 299.3 L110.7 294.7 L111.8 290 L112.9 285.3 L114 280.6 L115.1 276.1 L116.2 271.9 L117.3 268.2 L118.4 265.1 L119.5 262.7 L120.6 261.1 L121.7 260.4 L122.8 260.7 L123.9 261.8 L125 263.8 L126.1 266.5 L127.2 270 L128.3 273.9 L129.5 278.3 L130.6 282.9 L131.7 287.6 L132.8 292.4 L133.9 297 L135 301.5 L136.1 305.7 L137.2 309.5 L138.3 313 L139.4 316.2 L140.5 319 L141.6 321.4 L142.7 323.4 L143.8 325.1 L144.9 326.6 L146 327.8 L147.1 328.7 L148.2 329.5 L149.4 330.1 L150.5 330.6 L151.6 331 L152.7 331.3 L153.8 331.5 L154.9 331.7 L156 331.9 L157.1 332 L158.2 332.1 L159.3 332.1 L160.4 332.2 L161.5 332.2 L162.6 332.3 L163.7 332.3 L164.8 332.4 L165.9 332.4 L167 332.4 L168.1 332.4 L169.3 332.5 L170.4 332.5 L171.5 332.5 L172.6 332.5 L173.7 332.6 L174.8 332.6 L175.9 332.6 L177 332.6 L178.1 332.6 L179.2 332.6 L180.3 332.6 L181.4 332.7 L182.5 332.7 L183.6 332.7 L184.7 332.7 L185.8 332.7 L186.9 332.7 L188 332.7 L189.2 332.8 L190.3 332.8 L191.4 332.8 L192.5 332.8 L193.6 332.8 L194.7 332.8 L195.8 332.8 L196.9 332.8 L198 332.8" fill="none" stroke="#fbe3d8" stroke-width="2.2" opacity="0.7"/>
<path d="M41 332.3 L42.1 332.3 L43.2 332.3 L44.3 332.3 L45.4 332.2 L46.5 332.2 L47.6 332.2 L48.7 332.2 L49.8 332.2 L51 332.2 L52.1 332.2 L53.2 332.2 L54.3 332.2 L55.4 332.2 L56.5 332.2 L57.6 332.2 L58.7 332.2 L59.8 332.2 L60.9 332.2 L62 332.2 L63.1 332.2 L64.2 332.2 L65.3 332.2 L66.4 332.2 L67.5 332.2 L68.6 332.2 L69.7 332.2 L70.9 332.2 L72 332.1 L73.1 332.1 L74.2 332.1 L75.3 332.1 L76.4 332.1 L77.5 332.1 L78.6 332 L79.7 332 L80.8 332 L81.9 332 L83 331.9 L84.1 331.9 L85.2 331.8 L86.3 331.8 L87.4 331.7 L88.5 331.5 L89.6 331.4 L90.8 331.2 L91.9 330.9 L93 330.6 L94.1 330.2 L95.2 329.7 L96.3 329 L97.4 328.1 L98.5 327.1 L99.6 325.8 L100.7 324.2 L101.8 322.3 L102.9 320.1 L104 317.5 L105.1 314.6 L106.2 311.3 L107.3 307.6 L108.4 303.6 L109.5 299.3 L110.7 294.7 L111.8 290 L112.9 285.3 L114 280.6 L115.1 276.1 L116.2 271.9 L117.3 268.2 L118.4 265.1 L119.5 262.7 L120.6 261.1 L121.7 260.4 L122.8 260.7 L123.9 261.8 L125 263.8 L126.1 266.5 L127.2 270 L128.3 273.9 L129.5 278.3 L130.6 282.9 L131.7 287.6 L132.8 292.4 L133.9 297 L135 301.5 L136.1 305.7 L137.2 309.5 L138.3 313 L139.4 316.2 L140.5 319 L141.6 321.4 L142.7 323.4 L143.8 325.1 L144.9 326.6 L146 327.8 L147.1 328.7 L148.2 329.5 L149.4 330.1 L150.5 330.6 L151.6 331 L152.7 331.3 L153.8 331.5 L154.9 331.7 L156 331.9 L157.1 332 L158.2 332.1 L159.3 332.1 L160.4 332.2 L161.5 332.2 L162.6 332.3 L163.7 332.3 L164.8 332.4 L165.9 332.4 L167 332.4 L168.1 332.4 L169.3 332.5 L170.4 332.5 L171.5 332.5 L172.6 332.5 L173.7 332.6 L174.8 332.6 L175.9 332.6 L177 332.6 L178.1 332.6 L179.2 332.6 L180.3 332.6 L181.4 332.7 L182.5 332.7 L183.6 332.7 L184.7 332.7 L185.8 332.7 L186.9 332.7 L188 332.7 L189.2 332.8 L190.3 332.8 L191.4 332.8 L192.5 332.8 L193.6 332.8 L194.7 332.8 L195.8 332.8 L196.9 332.8 L198 332.8" fill="none" stroke="#e0513a" stroke-width="0.9" stroke-linejoin="round"/>
<path d="M40.7 345.4 H198.4" stroke="#000" stroke-width="2.2"/>
<path d="M74.9 345.4 v3 M128.6 345.4 v3 M183.1 345.4 v3 M101.8 345.4 v2.4 M155.8 345.4 v2.4 " stroke="#000" stroke-width="1.6"/>
<text x="74.9" y="362.7" font-size="16" fill="#000" text-anchor="middle" font-weight="bold" >688</text>
<text x="128.6" y="362.7" font-size="16" fill="#000" text-anchor="middle" font-weight="bold" >684</text>
<text x="183.1" y="362.7" font-size="16" fill="#000" text-anchor="middle" font-weight="bold" >680</text>
<text x="121.8" y="380.2" font-size="15.5" fill="#000" text-anchor="middle" font-weight="bold" >Binding energy (eV)</text>
<rect x="200.5" y="62" width="156.5" height="59.5" fill="#fcfcfc"/>
<path d="M202 114.1 L205.3 113.8 L208.6 114.1 L211.9 111.9 L215.2 111.9 L218.5 109.6 L221.8 109.9 L225.1 108.1 L228.4 107.5 L231.7 105.7 L235 105.8 L238.3 105.6 L241.6 106 L244.9 107.5 L248.2 108.1 L251.5 109.8 L254.8 111.6 L258.1 112.2 L261.4 112.5 L264.7 113.7 L268 111.9 L271.3 110 L274.6 107.9 L277.9 104.5 L281.2 101.4 L284.5 99 L287.8 99.5 L291.1 99.8 L294.4 102.8 L297.7 106.4 L301 110.2 L304.3 111.5 L307.6 113.1 L310.9 115.8 L314.2 114.5 L317.5 115.4 L320.8 116.2 L324.1 117.1 L327.4 115.6 L330.7 115 L334 116.6 L337.3 116.1 L340.6 116.2 L343.9 116.7 L347.2 116.6 L350.5 116.7 L353.8 116.4" fill="none" stroke="none" stroke-width="0.6" marker-start="url(#mk)" marker-mid="url(#mk)" marker-end="url(#mk)"/>
<path d="M200.5 115.3 L200.5 114.9 L201.6 114.8 L202.7 114.7 L203.8 114.6 L204.9 114.5 L206 114.3 L207.1 114.2 L208.2 114 L209.3 113.7 L210.4 113.5 L211.5 113.2 L212.6 112.9 L213.7 112.6 L214.8 112.2 L215.9 111.9 L217 111.5 L218.1 111 L219.2 110.6 L220.3 110.2 L221.4 109.7 L222.5 109.3 L223.6 108.8 L224.7 108.4 L225.8 107.9 L227 107.5 L228.1 107.2 L229.2 106.8 L230.3 106.5 L231.4 106.3 L232.5 106.1 L233.6 105.9 L234.7 105.9 L235.8 105.8 L236.9 105.9 L238 106 L239.1 106.1 L240.2 106.3 L241.3 106.6 L242.4 106.9 L243.5 107.3 L244.6 107.7 L245.7 108.1 L246.8 108.5 L247.9 109 L249 109.5 L250.1 110 L251.2 110.4 L252.3 110.9 L253.4 111.4 L254.5 111.8 L255.6 112.2 L256.7 112.6 L257.8 113 L258.9 113.4 L260 113.7 L261.1 114 L262.2 114.2 L263.3 114.5 L264.4 114.7 L265.5 114.9 L266.6 115.1 L267.7 115.2 L268.8 115.3 L269.9 115.5 L271 115.6 L272.1 115.6 L273.2 115.7 L274.3 115.8 L275.4 115.8 L276.5 115.9 L277.6 115.9 L278.8 116 L279.9 116 L281 116 L282.1 116 L283.2 116.1 L284.3 116.1 L285.4 116.1 L286.5 116.1 L287.6 116.1 L288.7 116.1 L289.8 116.1 L290.9 116.2 L292 116.2 L293.1 116.2 L294.2 116.2 L295.3 116.2 L296.4 116.2 L297.5 116.2 L298.6 116.2 L299.7 116.3 L300.8 116.3 L301.9 116.3 L303 116.3 L304.1 116.3 L305.2 116.3 L306.3 116.3 L307.4 116.3 L308.5 116.3 L309.6 116.3 L310.7 116.4 L311.8 116.4 L311.8 116.4 Z" fill="url(#gG)" stroke="#2a8a50" stroke-width="0.5"/>
<path d="M200.5 115.3 L200.5 115.2 L201.6 115.2 L202.7 115.2 L203.8 115.2 L204.9 115.2 L206 115.2 L207.1 115.3 L208.2 115.3 L209.3 115.3 L210.4 115.3 L211.5 115.3 L212.6 115.3 L213.7 115.3 L214.8 115.3 L215.9 115.3 L217 115.3 L218.1 115.3 L219.2 115.3 L220.3 115.3 L221.4 115.3 L222.5 115.3 L223.6 115.3 L224.7 115.4 L225.8 115.4 L227 115.4 L228.1 115.4 L229.2 115.4 L230.3 115.4 L231.4 115.4 L232.5 115.4 L233.6 115.4 L234.7 115.4 L235.8 115.4 L236.9 115.4 L238 115.4 L239.1 115.4 L240.2 115.4 L241.3 115.4 L242.4 115.4 L243.5 115.4 L244.6 115.3 L245.7 115.3 L246.8 115.3 L247.9 115.3 L249 115.3 L250.1 115.3 L251.2 115.3 L252.3 115.2 L253.4 115.2 L254.5 115.2 L255.6 115.1 L256.7 115 L257.8 115 L258.9 114.9 L260 114.7 L261.1 114.6 L262.2 114.4 L263.3 114.2 L264.4 113.9 L265.5 113.6 L266.6 113.2 L267.7 112.7 L268.8 112.2 L269.9 111.6 L271 110.8 L272.1 110.1 L273.2 109.2 L274.3 108.3 L275.4 107.2 L276.5 106.2 L277.6 105.1 L278.8 104 L279.9 102.9 L281 101.8 L282.1 100.9 L283.2 100 L284.3 99.3 L285.4 98.8 L286.5 98.5 L287.6 98.4 L288.7 98.6 L289.8 99.1 L290.9 99.7 L292 100.5 L293.1 101.4 L294.2 102.5 L295.3 103.6 L296.4 104.7 L297.5 105.8 L298.6 106.9 L299.7 108 L300.8 109 L301.9 109.9 L303 110.8 L304.1 111.5 L305.2 112.2 L306.3 112.8 L307.4 113.3 L308.5 113.8 L309.6 114.2 L310.7 114.5 L311.8 114.8 L312.9 115 L314 115.2 L315.1 115.3 L316.2 115.5 L317.3 115.6 L318.4 115.7 L319.5 115.7 L320.6 115.8 L321.7 115.9 L322.8 115.9 L323.9 116 L325 116 L326.1 116.1 L327.2 116.1 L328.3 116.1 L329.4 116.1 L330.5 116.2 L331.7 116.2 L332.8 116.2 L333.9 116.3 L335 116.3 L336.1 116.3 L337.2 116.3 L338.3 116.4 L339.4 116.4 L340.5 116.4 L341.6 116.4 L342.7 116.4 L343.8 116.5 L344.9 116.5 L346 116.5 L347.1 116.5 L348.2 116.5 L349.3 116.5 L350.4 116.6 L351.5 116.6 L352.6 116.6 L353.7 116.6 L354.8 116.6 L355.9 116.6 L357 116.7 L357 116.8 Z" fill="url(#gR)" stroke="#d8553a" stroke-width="0.5"/>
<path d="M200.5 115.3 L357 116.8" stroke="#9c7468" stroke-width="0.8" fill="none" opacity="0.8"/>
<path d="M200.5 114.8 L201.6 114.7 L202.7 114.6 L203.8 114.5 L204.9 114.4 L206 114.2 L207.1 114.1 L208.2 113.9 L209.3 113.6 L210.4 113.4 L211.5 113.1 L212.6 112.8 L213.7 112.5 L214.8 112.1 L215.9 111.7 L217 111.3 L218.1 110.9 L219.2 110.5 L220.3 110 L221.4 109.5 L222.5 109.1 L223.6 108.6 L224.7 108.2 L225.8 107.7 L227 107.3 L228.1 107 L229.2 106.6 L230.3 106.3 L231.4 106.1 L232.5 105.8 L233.6 105.7 L234.7 105.6 L235.8 105.6 L236.9 105.6 L238 105.7 L239.1 105.8 L240.2 106 L241.3 106.3 L242.4 106.6 L243.5 106.9 L244.6 107.3 L245.7 107.7 L246.8 108.1 L247.9 108.6 L249 109 L250.1 109.5 L251.2 109.9 L252.3 110.3 L253.4 110.7 L254.5 111.1 L255.6 111.5 L256.7 111.8 L257.8 112.1 L258.9 112.4 L260 112.5 L261.1 112.7 L262.2 112.7 L263.3 112.8 L264.4 112.7 L265.5 112.5 L266.6 112.3 L267.7 112 L268.8 111.6 L269.9 111 L271 110.4 L272.1 109.7 L273.2 108.9 L274.3 108 L275.4 107.1 L276.5 106 L277.6 105 L278.8 103.9 L279.9 102.8 L281 101.8 L282.1 100.8 L283.2 100 L284.3 99.3 L285.4 98.8 L286.5 98.5 L287.6 98.4 L288.7 98.6 L289.8 99 L290.9 99.7 L292 100.5 L293.1 101.4 L294.2 102.5 L295.3 103.6 L296.4 104.7 L297.5 105.8 L298.6 106.9 L299.7 108 L300.8 109 L301.9 109.9 L303 110.8 L304.1 111.5 L305.2 112.2 L306.3 112.8 L307.4 113.3 L308.5 113.8 L309.6 114.2 L310.7 114.5 L311.8 114.8 L312.9 115 L314 115.2 L315.1 115.3 L316.2 115.5 L317.3 115.6 L318.4 115.7 L319.5 115.7 L320.6 115.8 L321.7 115.9 L322.8 115.9 L323.9 116 L325 116 L326.1 116.1 L327.2 116.1 L328.3 116.1 L329.4 116.1 L330.5 116.2 L331.7 116.2 L332.8 116.2 L333.9 116.3 L335 116.3 L336.1 116.3 L337.2 116.3 L338.3 116.4 L339.4 116.4 L340.5 116.4 L341.6 116.4 L342.7 116.4 L343.8 116.5 L344.9 116.5 L346 116.5 L347.1 116.5 L348.2 116.5 L349.3 116.5 L350.4 116.6 L351.5 116.6 L352.6 116.6 L353.7 116.6 L354.8 116.6 L355.9 116.6 L357 116.7" fill="none" stroke="#fbe3d8" stroke-width="2.2" opacity="0.7"/>
<path d="M200.5 114.8 L201.6 114.7 L202.7 114.6 L203.8 114.5 L204.9 114.4 L206 114.2 L207.1 114.1 L208.2 113.9 L209.3 113.6 L210.4 113.4 L211.5 113.1 L212.6 112.8 L213.7 112.5 L214.8 112.1 L215.9 111.7 L217 111.3 L218.1 110.9 L219.2 110.5 L220.3 110 L221.4 109.5 L222.5 109.1 L223.6 108.6 L224.7 108.2 L225.8 107.7 L227 107.3 L228.1 107 L229.2 106.6 L230.3 106.3 L231.4 106.1 L232.5 105.8 L233.6 105.7 L234.7 105.6 L235.8 105.6 L236.9 105.6 L238 105.7 L239.1 105.8 L240.2 106 L241.3 106.3 L242.4 106.6 L243.5 106.9 L244.6 107.3 L245.7 107.7 L246.8 108.1 L247.9 108.6 L249 109 L250.1 109.5 L251.2 109.9 L252.3 110.3 L253.4 110.7 L254.5 111.1 L255.6 111.5 L256.7 111.8 L257.8 112.1 L258.9 112.4 L260 112.5 L261.1 112.7 L262.2 112.7 L263.3 112.8 L264.4 112.7 L265.5 112.5 L266.6 112.3 L267.7 112 L268.8 111.6 L269.9 111 L271 110.4 L272.1 109.7 L273.2 108.9 L274.3 108 L275.4 107.1 L276.5 106 L277.6 105 L278.8 103.9 L279.9 102.8 L281 101.8 L282.1 100.8 L283.2 100 L284.3 99.3 L285.4 98.8 L286.5 98.5 L287.6 98.4 L288.7 98.6 L289.8 99 L290.9 99.7 L292 100.5 L293.1 101.4 L294.2 102.5 L295.3 103.6 L296.4 104.7 L297.5 105.8 L298.6 106.9 L299.7 108 L300.8 109 L301.9 109.9 L303 110.8 L304.1 111.5 L305.2 112.2 L306.3 112.8 L307.4 113.3 L308.5 113.8 L309.6 114.2 L310.7 114.5 L311.8 114.8 L312.9 115 L314 115.2 L315.1 115.3 L316.2 115.5 L317.3 115.6 L318.4 115.7 L319.5 115.7 L320.6 115.8 L321.7 115.9 L322.8 115.9 L323.9 116 L325 116 L326.1 116.1 L327.2 116.1 L328.3 116.1 L329.4 116.1 L330.5 116.2 L331.7 116.2 L332.8 116.2 L333.9 116.3 L335 116.3 L336.1 116.3 L337.2 116.3 L338.3 116.4 L339.4 116.4 L340.5 116.4 L341.6 116.4 L342.7 116.4 L343.8 116.5 L344.9 116.5 L346 116.5 L347.1 116.5 L348.2 116.5 L349.3 116.5 L350.4 116.6 L351.5 116.6 L352.6 116.6 L353.7 116.6 L354.8 116.6 L355.9 116.6 L357 116.7" fill="none" stroke="#e0513a" stroke-width="0.9" stroke-linejoin="round"/>
<rect x="200.5" y="124" width="156.5" height="63" fill="#fcfcfc"/>
<path d="M202 176.3 L205.3 174.7 L208.6 175.4 L211.9 176 L215.2 177 L218.5 176 L221.8 174.8 L225.1 176.2 L228.4 175.1 L231.7 176.8 L235 175.8 L238.3 177.2 L241.6 175.8 L244.9 175.1 L248.2 174.8 L251.5 175.4 L254.8 175.7 L258.1 175.8 L261.4 174.2 L264.7 171.9 L268 170.3 L271.3 165.2 L274.6 162 L277.9 156.1 L281.2 153.4 L284.5 150.7 L287.8 150.8 L291.1 153 L294.4 158.8 L297.7 163.7 L301 167.4 L304.3 170.7 L307.6 174.3 L310.9 174.5 L314.2 175.8 L317.5 176.9 L320.8 175.1 L324.1 177.5 L327.4 177.1 L330.7 176 L334 175.9 L337.3 175.7 L340.6 177.3 L343.9 174.9 L347.2 177.4 L350.5 176.9 L353.8 176.3" fill="none" stroke="none" stroke-width="0.6" marker-start="url(#mk)" marker-mid="url(#mk)" marker-end="url(#mk)"/>
<path d="M200.5 176 L200.5 175.9 L201.6 175.9 L202.7 175.9 L203.8 175.9 L204.9 175.9 L206 175.9 L207.1 175.9 L208.2 175.9 L209.3 175.9 L210.4 175.9 L211.5 175.9 L212.6 175.9 L213.7 175.9 L214.8 175.9 L215.9 175.9 L217 175.9 L218.1 175.9 L219.2 176 L220.3 176 L221.4 176 L222.5 176 L223.6 176 L224.7 176 L225.8 176 L227 176 L228.1 176 L229.2 176 L230.3 175.9 L231.4 175.9 L232.5 175.9 L233.6 175.9 L234.7 175.9 L235.8 175.9 L236.9 175.9 L238 175.9 L239.1 175.9 L240.2 175.9 L241.3 175.9 L242.4 175.9 L243.5 175.9 L244.6 175.9 L245.7 175.8 L246.8 175.8 L247.9 175.8 L249 175.8 L250.1 175.7 L251.2 175.7 L252.3 175.6 L253.4 175.5 L254.5 175.4 L255.6 175.3 L256.7 175.2 L257.8 175 L258.9 174.8 L260 174.5 L261.1 174.2 L262.2 173.7 L263.3 173.2 L264.4 172.6 L265.5 171.9 L266.6 171.1 L267.7 170.2 L268.8 169.1 L269.9 167.9 L271 166.6 L272.1 165.2 L273.2 163.6 L274.3 162 L275.4 160.4 L276.5 158.7 L277.6 157 L278.8 155.4 L279.9 153.9 L281 152.6 L282.1 151.5 L283.2 150.6 L284.3 150.1 L285.4 149.9 L286.5 150 L287.6 150.4 L288.7 151.1 L289.8 152.2 L290.9 153.4 L292 154.8 L293.1 156.4 L294.2 158.1 L295.3 159.8 L296.4 161.4 L297.5 163.1 L298.6 164.7 L299.7 166.2 L300.8 167.5 L301.9 168.8 L303 169.9 L304.1 171 L305.2 171.8 L306.3 172.6 L307.4 173.3 L308.5 173.8 L309.6 174.3 L310.7 174.7 L311.8 175 L312.9 175.3 L314 175.5 L315.1 175.6 L316.2 175.8 L317.3 175.9 L318.4 176 L319.5 176.1 L320.6 176.1 L321.7 176.2 L322.8 176.3 L323.9 176.3 L325 176.3 L326.1 176.4 L327.2 176.4 L328.3 176.4 L329.4 176.4 L330.5 176.5 L331.7 176.5 L332.8 176.5 L333.9 176.5 L335 176.6 L336.1 176.6 L337.2 176.6 L338.3 176.6 L339.4 176.6 L340.5 176.7 L341.6 176.7 L342.7 176.7 L343.8 176.7 L344.9 176.7 L346 176.7 L347.1 176.7 L348.2 176.8 L349.3 176.8 L350.4 176.8 L351.5 176.8 L352.6 176.8 L353.7 176.8 L354.8 176.8 L355.9 176.8 L357 176.9 L357 177 Z" fill="url(#gR)" stroke="#d8553a" stroke-width="0.5"/>
<path d="M200.5 176 L357 177" stroke="#9c7468" stroke-width="0.8" fill="none" opacity="0.8"/>
<path d="M200.5 175.9 L201.6 175.9 L202.7 175.9 L203.8 175.9 L204.9 175.9 L206 175.9 L207.1 175.9 L208.2 175.9 L209.3 175.9 L210.4 175.9 L211.5 175.9 L212.6 175.9 L213.7 175.9 L214.8 175.9 L215.9 175.9 L217 175.9 L218.1 175.9 L219.2 176 L220.3 176 L221.4 176 L222.5 176 L223.6 176 L224.7 176 L225.8 176 L227 176 L228.1 176 L229.2 176 L230.3 175.9 L231.4 175.9 L232.5 175.9 L233.6 175.9 L234.7 175.9 L235.8 175.9 L236.9 175.9 L238 175.9 L239.1 175.9 L240.2 175.9 L241.3 175.9 L242.4 175.9 L243.5 175.9 L244.6 175.9 L245.7 175.8 L246.8 175.8 L247.9 175.8 L249 175.8 L250.1 175.7 L251.2 175.7 L252.3 175.6 L253.4 175.5 L254.5 175.4 L255.6 175.3 L256.7 175.2 L257.8 175 L258.9 174.8 L260 174.5 L261.1 174.2 L262.2 173.7 L263.3 173.2 L264.4 172.6 L265.5 171.9 L266.6 171.1 L267.7 170.2 L268.8 169.1 L269.9 167.9 L271 166.6 L272.1 165.2 L273.2 163.6 L274.3 162 L275.4 160.4 L276.5 158.7 L277.6 157 L278.8 155.4 L279.9 153.9 L281 152.6 L282.1 151.5 L283.2 150.6 L284.3 150.1 L285.4 149.9 L286.5 150 L287.6 150.4 L288.7 151.1 L289.8 152.2 L290.9 153.4 L292 154.8 L293.1 156.4 L294.2 158.1 L295.3 159.8 L296.4 161.4 L297.5 163.1 L298.6 164.7 L299.7 166.2 L300.8 167.5 L301.9 168.8 L303 169.9 L304.1 171 L305.2 171.8 L306.3 172.6 L307.4 173.3 L308.5 173.8 L309.6 174.3 L310.7 174.7 L311.8 175 L312.9 175.3 L314 175.5 L315.1 175.6 L316.2 175.8 L317.3 175.9 L318.4 176 L319.5 176.1 L320.6 176.1 L321.7 176.2 L322.8 176.3 L323.9 176.3 L325 176.3 L326.1 176.4 L327.2 176.4 L328.3 176.4 L329.4 176.4 L330.5 176.5 L331.7 176.5 L332.8 176.5 L333.9 176.5 L335 176.6 L336.1 176.6 L337.2 176.6 L338.3 176.6 L339.4 176.6 L340.5 176.7 L341.6 176.7 L342.7 176.7 L343.8 176.7 L344.9 176.7 L346 176.7 L347.1 176.7 L348.2 176.8 L349.3 176.8 L350.4 176.8 L351.5 176.8 L352.6 176.8 L353.7 176.8 L354.8 176.8 L355.9 176.8 L357 176.9" fill="none" stroke="#fbe3d8" stroke-width="2.2" opacity="0.7"/>
<path d="M200.5 175.9 L201.6 175.9 L202.7 175.9 L203.8 175.9 L204.9 175.9 L206 175.9 L207.1 175.9 L208.2 175.9 L209.3 175.9 L210.4 175.9 L211.5 175.9 L212.6 175.9 L213.7 175.9 L214.8 175.9 L215.9 175.9 L217 175.9 L218.1 175.9 L219.2 176 L220.3 176 L221.4 176 L222.5 176 L223.6 176 L224.7 176 L225.8 176 L227 176 L228.1 176 L229.2 176 L230.3 175.9 L231.4 175.9 L232.5 175.9 L233.6 175.9 L234.7 175.9 L235.8 175.9 L236.9 175.9 L238 175.9 L239.1 175.9 L240.2 175.9 L241.3 175.9 L242.4 175.9 L243.5 175.9 L244.6 175.9 L245.7 175.8 L246.8 175.8 L247.9 175.8 L249 175.8 L250.1 175.7 L251.2 175.7 L252.3 175.6 L253.4 175.5 L254.5 175.4 L255.6 175.3 L256.7 175.2 L257.8 175 L258.9 174.8 L260 174.5 L261.1 174.2 L262.2 173.7 L263.3 173.2 L264.4 172.6 L265.5 171.9 L266.6 171.1 L267.7 170.2 L268.8 169.1 L269.9 167.9 L271 166.6 L272.1 165.2 L273.2 163.6 L274.3 162 L275.4 160.4 L276.5 158.7 L277.6 157 L278.8 155.4 L279.9 153.9 L281 152.6 L282.1 151.5 L283.2 150.6 L284.3 150.1 L285.4 149.9 L286.5 150 L287.6 150.4 L288.7 151.1 L289.8 152.2 L290.9 153.4 L292 154.8 L293.1 156.4 L294.2 158.1 L295.3 159.8 L296.4 161.4 L297.5 163.1 L298.6 164.7 L299.7 166.2 L300.8 167.5 L301.9 168.8 L303 169.9 L304.1 171 L305.2 171.8 L306.3 172.6 L307.4 173.3 L308.5 173.8 L309.6 174.3 L310.7 174.7 L311.8 175 L312.9 175.3 L314 175.5 L315.1 175.6 L316.2 175.8 L317.3 175.9 L318.4 176 L319.5 176.1 L320.6 176.1 L321.7 176.2 L322.8 176.3 L323.9 176.3 L325 176.3 L326.1 176.4 L327.2 176.4 L328.3 176.4 L329.4 176.4 L330.5 176.5 L331.7 176.5 L332.8 176.5 L333.9 176.5 L335 176.6 L336.1 176.6 L337.2 176.6 L338.3 176.6 L339.4 176.6 L340.5 176.7 L341.6 176.7 L342.7 176.7 L343.8 176.7 L344.9 176.7 L346 176.7 L347.1 176.7 L348.2 176.8 L349.3 176.8 L350.4 176.8 L351.5 176.8 L352.6 176.8 L353.7 176.8 L354.8 176.8 L355.9 176.8 L357 176.9" fill="none" stroke="#e0513a" stroke-width="0.9" stroke-linejoin="round"/>
<rect x="200.5" y="189.5" width="156.5" height="71.5" fill="#fcfcfc"/>
<path d="M202 255.9 L205.3 256.4 L208.6 255.8 L211.9 255.6 L215.2 255.1 L218.5 255.5 L221.8 256.4 L225.1 255.8 L228.4 256.1 L231.7 255.5 L235 255.5 L238.3 255.2 L241.6 253.8 L244.9 255.3 L248.2 254.9 L251.5 254.5 L254.8 252.4 L258.1 251.3 L261.4 250.1 L264.7 247.3 L268 243.1 L271.3 236.3 L274.6 228.7 L277.9 219.6 L281.2 213.4 L284.5 210 L287.8 210.6 L291.1 217.8 L294.4 224.8 L297.7 233.5 L301 239.3 L304.3 244.7 L307.6 248.6 L310.9 250.9 L314.2 252.7 L317.5 253 L320.8 252.9 L324.1 252.6 L327.4 253 L330.7 254.3 L334 252.9 L337.3 253.6 L340.6 253.8 L343.9 252.4 L347.2 253.5 L350.5 254.3 L353.8 252" fill="none" stroke="none" stroke-width="0.6" marker-start="url(#mk)" marker-mid="url(#mk)" marker-end="url(#mk)"/>
<path d="M200.5 256.3 L200.5 256.1 L201.6 256.1 L202.7 256.1 L203.8 256 L204.9 256 L206 256 L207.1 256 L208.2 255.9 L209.3 255.9 L210.4 255.9 L211.5 255.9 L212.6 255.8 L213.7 255.8 L214.8 255.8 L215.9 255.8 L217 255.7 L218.1 255.7 L219.2 255.7 L220.3 255.6 L221.4 255.6 L222.5 255.6 L223.6 255.6 L224.7 255.5 L225.8 255.5 L227 255.5 L228.1 255.4 L229.2 255.4 L230.3 255.4 L231.4 255.3 L232.5 255.3 L233.6 255.2 L234.7 255.2 L235.8 255.2 L236.9 255.1 L238 255.1 L239.1 255 L240.2 255 L241.3 254.9 L242.4 254.9 L243.5 254.8 L244.6 254.8 L245.7 254.7 L246.8 254.6 L247.9 254.5 L249 254.5 L250.1 254.3 L251.2 254.2 L252.3 254.1 L253.4 253.9 L254.5 253.7 L255.6 253.4 L256.7 253.1 L257.8 252.7 L258.9 252.2 L260 251.6 L261.1 250.9 L262.2 250.1 L263.3 249.1 L264.4 248 L265.5 246.6 L266.6 245.1 L267.7 243.3 L268.8 241.4 L269.9 239.3 L271 236.9 L272.1 234.4 L273.2 231.8 L274.3 229 L275.4 226.2 L276.5 223.4 L277.6 220.6 L278.8 218 L279.9 215.7 L281 213.6 L282.1 211.9 L283.2 210.6 L284.3 209.9 L285.4 209.6 L286.5 210 L287.6 210.8 L288.7 212.2 L289.8 214 L290.9 216.1 L292 218.6 L293.1 221.2 L294.2 223.9 L295.3 226.7 L296.4 229.4 L297.5 232.1 L298.6 234.7 L299.7 237.1 L300.8 239.4 L301.9 241.4 L303 243.3 L304.1 244.9 L305.2 246.3 L306.3 247.6 L307.4 248.6 L308.5 249.5 L309.6 250.3 L310.7 250.9 L311.8 251.4 L312.9 251.8 L314 252.2 L315.1 252.4 L316.2 252.7 L317.3 252.8 L318.4 253 L319.5 253.1 L320.6 253.2 L321.7 253.2 L322.8 253.3 L323.9 253.3 L325 253.3 L326.1 253.4 L327.2 253.4 L328.3 253.4 L329.4 253.4 L330.5 253.4 L331.7 253.4 L332.8 253.5 L333.9 253.5 L335 253.5 L336.1 253.5 L337.2 253.5 L338.3 253.5 L339.4 253.5 L340.5 253.5 L341.6 253.5 L342.7 253.5 L343.8 253.4 L344.9 253.4 L346 253.4 L347.1 253.4 L348.2 253.4 L349.3 253.4 L350.4 253.4 L351.5 253.4 L352.6 253.4 L353.7 253.4 L354.8 253.4 L355.9 253.4 L357 253.3 L357 253.6 Z" fill="url(#gR)" stroke="#d8553a" stroke-width="0.5"/>
<path d="M200.5 256.3 L357 253.6" stroke="#9c7468" stroke-width="0.8" fill="none" opacity="0.8"/>
<path d="M200.5 256.1 L201.6 256.1 L202.7 256.1 L203.8 256 L204.9 256 L206 256 L207.1 256 L208.2 255.9 L209.3 255.9 L210.4 255.9 L211.5 255.9 L212.6 255.8 L213.7 255.8 L214.8 255.8 L215.9 255.8 L217 255.7 L218.1 255.7 L219.2 255.7 L220.3 255.6 L221.4 255.6 L222.5 255.6 L223.6 255.6 L224.7 255.5 L225.8 255.5 L227 255.5 L228.1 255.4 L229.2 255.4 L230.3 255.4 L231.4 255.3 L232.5 255.3 L233.6 255.2 L234.7 255.2 L235.8 255.2 L236.9 255.1 L238 255.1 L239.1 255 L240.2 255 L241.3 254.9 L242.4 254.9 L243.5 254.8 L244.6 254.8 L245.7 254.7 L246.8 254.6 L247.9 254.5 L249 254.5 L250.1 254.3 L251.2 254.2 L252.3 254.1 L253.4 253.9 L254.5 253.7 L255.6 253.4 L256.7 253.1 L257.8 252.7 L258.9 252.2 L260 251.6 L261.1 250.9 L262.2 250.1 L263.3 249.1 L264.4 248 L265.5 246.6 L266.6 245.1 L267.7 243.3 L268.8 241.4 L269.9 239.3 L271 236.9 L272.1 234.4 L273.2 231.8 L274.3 229 L275.4 226.2 L276.5 223.4 L277.6 220.6 L278.8 218 L279.9 215.7 L281 213.6 L282.1 211.9 L283.2 210.6 L284.3 209.9 L285.4 209.6 L286.5 210 L287.6 210.8 L288.7 212.2 L289.8 214 L290.9 216.1 L292 218.6 L293.1 221.2 L294.2 223.9 L295.3 226.7 L296.4 229.4 L297.5 232.1 L298.6 234.7 L299.7 237.1 L300.8 239.4 L301.9 241.4 L303 243.3 L304.1 244.9 L305.2 246.3 L306.3 247.6 L307.4 248.6 L308.5 249.5 L309.6 250.3 L310.7 250.9 L311.8 251.4 L312.9 251.8 L314 252.2 L315.1 252.4 L316.2 252.7 L317.3 252.8 L318.4 253 L319.5 253.1 L320.6 253.2 L321.7 253.2 L322.8 253.3 L323.9 253.3 L325 253.3 L326.1 253.4 L327.2 253.4 L328.3 253.4 L329.4 253.4 L330.5 253.4 L331.7 253.4 L332.8 253.5 L333.9 253.5 L335 253.5 L336.1 253.5 L337.2 253.5 L338.3 253.5 L339.4 253.5 L340.5 253.5 L341.6 253.5 L342.7 253.5 L343.8 253.4 L344.9 253.4 L346 253.4 L347.1 253.4 L348.2 253.4 L349.3 253.4 L350.4 253.4 L351.5 253.4 L352.6 253.4 L353.7 253.4 L354.8 253.4 L355.9 253.4 L357 253.3" fill="none" stroke="#fbe3d8" stroke-width="2.2" opacity="0.7"/>
<path d="M200.5 256.1 L201.6 256.1 L202.7 256.1 L203.8 256 L204.9 256 L206 256 L207.1 256 L208.2 255.9 L209.3 255.9 L210.4 255.9 L211.5 255.9 L212.6 255.8 L213.7 255.8 L214.8 255.8 L215.9 255.8 L217 255.7 L218.1 255.7 L219.2 255.7 L220.3 255.6 L221.4 255.6 L222.5 255.6 L223.6 255.6 L224.7 255.5 L225.8 255.5 L227 255.5 L228.1 255.4 L229.2 255.4 L230.3 255.4 L231.4 255.3 L232.5 255.3 L233.6 255.2 L234.7 255.2 L235.8 255.2 L236.9 255.1 L238 255.1 L239.1 255 L240.2 255 L241.3 254.9 L242.4 254.9 L243.5 254.8 L244.6 254.8 L245.7 254.7 L246.8 254.6 L247.9 254.5 L249 254.5 L250.1 254.3 L251.2 254.2 L252.3 254.1 L253.4 253.9 L254.5 253.7 L255.6 253.4 L256.7 253.1 L257.8 252.7 L258.9 252.2 L260 251.6 L261.1 250.9 L262.2 250.1 L263.3 249.1 L264.4 248 L265.5 246.6 L266.6 245.1 L267.7 243.3 L268.8 241.4 L269.9 239.3 L271 236.9 L272.1 234.4 L273.2 231.8 L274.3 229 L275.4 226.2 L276.5 223.4 L277.6 220.6 L278.8 218 L279.9 215.7 L281 213.6 L282.1 211.9 L283.2 210.6 L284.3 209.9 L285.4 209.6 L286.5 210 L287.6 210.8 L288.7 212.2 L289.8 214 L290.9 216.1 L292 218.6 L293.1 221.2 L294.2 223.9 L295.3 226.7 L296.4 229.4 L297.5 232.1 L298.6 234.7 L299.7 237.1 L300.8 239.4 L301.9 241.4 L303 243.3 L304.1 244.9 L305.2 246.3 L306.3 247.6 L307.4 248.6 L308.5 249.5 L309.6 250.3 L310.7 250.9 L311.8 251.4 L312.9 251.8 L314 252.2 L315.1 252.4 L316.2 252.7 L317.3 252.8 L318.4 253 L319.5 253.1 L320.6 253.2 L321.7 253.2 L322.8 253.3 L323.9 253.3 L325 253.3 L326.1 253.4 L327.2 253.4 L328.3 253.4 L329.4 253.4 L330.5 253.4 L331.7 253.4 L332.8 253.5 L333.9 253.5 L335 253.5 L336.1 253.5 L337.2 253.5 L338.3 253.5 L339.4 253.5 L340.5 253.5 L341.6 253.5 L342.7 253.5 L343.8 253.4 L344.9 253.4 L346 253.4 L347.1 253.4 L348.2 253.4 L349.3 253.4 L350.4 253.4 L351.5 253.4 L352.6 253.4 L353.7 253.4 L354.8 253.4 L355.9 253.4 L357 253.3" fill="none" stroke="#e0513a" stroke-width="0.9" stroke-linejoin="round"/>
<rect x="200.5" y="263.5" width="156.5" height="78.5" fill="#fcfcfc"/>
<path d="M202 336.5 L205.3 338.2 L208.6 337 L211.9 337 L215.2 336.6 L218.5 336.4 L221.8 336.6 L225.1 336 L228.4 335.4 L231.7 335.2 L235 334.9 L238.3 336 L241.6 336.2 L244.9 336.9 L248.2 335.7 L251.5 335.1 L254.8 334.5 L258.1 332.5 L261.4 328.3 L264.7 326.6 L268 319.5 L271.3 312.4 L274.6 303.5 L277.9 297.9 L281.2 290.7 L284.5 288.4 L287.8 290.2 L291.1 298.6 L294.4 305.6 L297.7 315.7 L301 320.6 L304.3 327.2 L307.6 331.6 L310.9 332.4 L314.2 334.5 L317.5 335.2 L320.8 336.3 L324.1 335.3 L327.4 336.4 L330.7 337.7 L334 334.8 L337.3 335.4 L340.6 336.6 L343.9 335.7 L347.2 335.2 L350.5 337.5 L353.8 337.2" fill="none" stroke="none" stroke-width="0.6" marker-start="url(#mk)" marker-mid="url(#mk)" marker-end="url(#mk)"/>
<path d="M200.5 336.4 L200.5 336.2 L201.6 336.2 L202.7 336.2 L203.8 336.2 L204.9 336.2 L206 336.2 L207.1 336.1 L208.2 336.1 L209.3 336.1 L210.4 336.1 L211.5 336.1 L212.6 336.1 L213.7 336.1 L214.8 336.1 L215.9 336.1 L217 336.1 L218.1 336.1 L219.2 336.1 L220.3 336.1 L221.4 336 L222.5 336 L223.6 336 L224.7 336 L225.8 336 L227 336 L228.1 336 L229.2 335.9 L230.3 335.9 L231.4 335.9 L232.5 335.9 L233.6 335.9 L234.7 335.8 L235.8 335.8 L236.9 335.8 L238 335.8 L239.1 335.7 L240.2 335.7 L241.3 335.6 L242.4 335.6 L243.5 335.5 L244.6 335.5 L245.7 335.4 L246.8 335.3 L247.9 335.2 L249 335.1 L250.1 335 L251.2 334.8 L252.3 334.6 L253.4 334.3 L254.5 334 L255.6 333.6 L256.7 333.1 L257.8 332.6 L258.9 331.9 L260 331 L261.1 330.1 L262.2 328.9 L263.3 327.6 L264.4 326.1 L265.5 324.4 L266.6 322.4 L267.7 320.3 L268.8 318 L269.9 315.5 L271 312.8 L272.1 310 L273.2 307.2 L274.3 304.3 L275.4 301.4 L276.5 298.6 L277.6 296 L278.8 293.6 L279.9 291.6 L281 289.9 L282.1 288.8 L283.2 288.1 L284.3 287.9 L285.4 288.3 L286.5 289.3 L287.6 290.7 L288.7 292.5 L289.8 294.7 L290.9 297.2 L292 299.9 L293.1 302.8 L294.2 305.7 L295.3 308.6 L296.4 311.4 L297.5 314.1 L298.6 316.7 L299.7 319.1 L300.8 321.4 L301.9 323.4 L303 325.2 L304.1 326.9 L305.2 328.3 L306.3 329.5 L307.4 330.6 L308.5 331.5 L309.6 332.3 L310.7 332.9 L311.8 333.5 L312.9 333.9 L314 334.2 L315.1 334.5 L316.2 334.8 L317.3 335 L318.4 335.1 L319.5 335.3 L320.6 335.4 L321.7 335.5 L322.8 335.6 L323.9 335.6 L325 335.7 L326.1 335.7 L327.2 335.8 L328.3 335.8 L329.4 335.9 L330.5 335.9 L331.7 335.9 L332.8 335.9 L333.9 336 L335 336 L336.1 336 L337.2 336 L338.3 336.1 L339.4 336.1 L340.5 336.1 L341.6 336.1 L342.7 336.1 L343.8 336.2 L344.9 336.2 L346 336.2 L347.1 336.2 L348.2 336.2 L349.3 336.2 L350.4 336.2 L351.5 336.3 L352.6 336.3 L353.7 336.3 L354.8 336.3 L355.9 336.3 L357 336.3 L357 336.6 Z" fill="url(#gR)" stroke="#d8553a" stroke-width="0.5"/>
<path d="M200.5 336.4 L357 336.6" stroke="#9c7468" stroke-width="0.8" fill="none" opacity="0.8"/>
<path d="M200.5 336.2 L201.6 336.2 L202.7 336.2 L203.8 336.2 L204.9 336.2 L206 336.2 L207.1 336.1 L208.2 336.1 L209.3 336.1 L210.4 336.1 L211.5 336.1 L212.6 336.1 L213.7 336.1 L214.8 336.1 L215.9 336.1 L217 336.1 L218.1 336.1 L219.2 336.1 L220.3 336.1 L221.4 336 L222.5 336 L223.6 336 L224.7 336 L225.8 336 L227 336 L228.1 336 L229.2 335.9 L230.3 335.9 L231.4 335.9 L232.5 335.9 L233.6 335.9 L234.7 335.8 L235.8 335.8 L236.9 335.8 L238 335.8 L239.1 335.7 L240.2 335.7 L241.3 335.6 L242.4 335.6 L243.5 335.5 L244.6 335.5 L245.7 335.4 L246.8 335.3 L247.9 335.2 L249 335.1 L250.1 335 L251.2 334.8 L252.3 334.6 L253.4 334.3 L254.5 334 L255.6 333.6 L256.7 333.1 L257.8 332.6 L258.9 331.9 L260 331 L261.1 330.1 L262.2 328.9 L263.3 327.6 L264.4 326.1 L265.5 324.4 L266.6 322.4 L267.7 320.3 L268.8 318 L269.9 315.5 L271 312.8 L272.1 310 L273.2 307.2 L274.3 304.3 L275.4 301.4 L276.5 298.6 L277.6 296 L278.8 293.6 L279.9 291.6 L281 289.9 L282.1 288.8 L283.2 288.1 L284.3 287.9 L285.4 288.3 L286.5 289.3 L287.6 290.7 L288.7 292.5 L289.8 294.7 L290.9 297.2 L292 299.9 L293.1 302.8 L294.2 305.7 L295.3 308.6 L296.4 311.4 L297.5 314.1 L298.6 316.7 L299.7 319.1 L300.8 321.4 L301.9 323.4 L303 325.2 L304.1 326.9 L305.2 328.3 L306.3 329.5 L307.4 330.6 L308.5 331.5 L309.6 332.3 L310.7 332.9 L311.8 333.5 L312.9 333.9 L314 334.2 L315.1 334.5 L316.2 334.8 L317.3 335 L318.4 335.1 L319.5 335.3 L320.6 335.4 L321.7 335.5 L322.8 335.6 L323.9 335.6 L325 335.7 L326.1 335.7 L327.2 335.8 L328.3 335.8 L329.4 335.9 L330.5 335.9 L331.7 335.9 L332.8 335.9 L333.9 336 L335 336 L336.1 336 L337.2 336 L338.3 336.1 L339.4 336.1 L340.5 336.1 L341.6 336.1 L342.7 336.1 L343.8 336.2 L344.9 336.2 L346 336.2 L347.1 336.2 L348.2 336.2 L349.3 336.2 L350.4 336.2 L351.5 336.3 L352.6 336.3 L353.7 336.3 L354.8 336.3 L355.9 336.3 L357 336.3" fill="none" stroke="#fbe3d8" stroke-width="2.2" opacity="0.7"/>
<path d="M200.5 336.2 L201.6 336.2 L202.7 336.2 L203.8 336.2 L204.9 336.2 L206 336.2 L207.1 336.1 L208.2 336.1 L209.3 336.1 L210.4 336.1 L211.5 336.1 L212.6 336.1 L213.7 336.1 L214.8 336.1 L215.9 336.1 L217 336.1 L218.1 336.1 L219.2 336.1 L220.3 336.1 L221.4 336 L222.5 336 L223.6 336 L224.7 336 L225.8 336 L227 336 L228.1 336 L229.2 335.9 L230.3 335.9 L231.4 335.9 L232.5 335.9 L233.6 335.9 L234.7 335.8 L235.8 335.8 L236.9 335.8 L238 335.8 L239.1 335.7 L240.2 335.7 L241.3 335.6 L242.4 335.6 L243.5 335.5 L244.6 335.5 L245.7 335.4 L246.8 335.3 L247.9 335.2 L249 335.1 L250.1 335 L251.2 334.8 L252.3 334.6 L253.4 334.3 L254.5 334 L255.6 333.6 L256.7 333.1 L257.8 332.6 L258.9 331.9 L260 331 L261.1 330.1 L262.2 328.9 L263.3 327.6 L264.4 326.1 L265.5 324.4 L266.6 322.4 L267.7 320.3 L268.8 318 L269.9 315.5 L271 312.8 L272.1 310 L273.2 307.2 L274.3 304.3 L275.4 301.4 L276.5 298.6 L277.6 296 L278.8 293.6 L279.9 291.6 L281 289.9 L282.1 288.8 L283.2 288.1 L284.3 287.9 L285.4 288.3 L286.5 289.3 L287.6 290.7 L288.7 292.5 L289.8 294.7 L290.9 297.2 L292 299.9 L293.1 302.8 L294.2 305.7 L295.3 308.6 L296.4 311.4 L297.5 314.1 L298.6 316.7 L299.7 319.1 L300.8 321.4 L301.9 323.4 L303 325.2 L304.1 326.9 L305.2 328.3 L306.3 329.5 L307.4 330.6 L308.5 331.5 L309.6 332.3 L310.7 332.9 L311.8 333.5 L312.9 333.9 L314 334.2 L315.1 334.5 L316.2 334.8 L317.3 335 L318.4 335.1 L319.5 335.3 L320.6 335.4 L321.7 335.5 L322.8 335.6 L323.9 335.6 L325 335.7 L326.1 335.7 L327.2 335.8 L328.3 335.8 L329.4 335.9 L330.5 335.9 L331.7 335.9 L332.8 335.9 L333.9 336 L335 336 L336.1 336 L337.2 336 L338.3 336.1 L339.4 336.1 L340.5 336.1 L341.6 336.1 L342.7 336.1 L343.8 336.2 L344.9 336.2 L346 336.2 L347.1 336.2 L348.2 336.2 L349.3 336.2 L350.4 336.2 L351.5 336.3 L352.6 336.3 L353.7 336.3 L354.8 336.3 L355.9 336.3 L357 336.3" fill="none" stroke="#e0513a" stroke-width="0.9" stroke-linejoin="round"/>
<path d="M200.2 345.4 H357" stroke="#000" stroke-width="2.2"/>
<path d="M235.8 345.4 v3 M289.7 345.4 v3 M343 345.4 v3 M262.8 345.4 v2.4 M316.4 345.4 v2.4 " stroke="#000" stroke-width="1.6"/>
<text x="235.8" y="362.7" font-size="16" fill="#000" text-anchor="middle" font-weight="bold" >688</text>
<text x="289.7" y="362.7" font-size="16" fill="#000" text-anchor="middle" font-weight="bold" >684</text>
<text x="343" y="362.7" font-size="16" fill="#000" text-anchor="middle" font-weight="bold" >680</text>
<text x="281.5" y="380.2" font-size="15.5" fill="#000" text-anchor="middle" font-weight="bold" >Binding energy (eV)</text>
<rect x="402" y="62" width="147" height="57" fill="#fcfcfc"/>
<path d="M403.5 111.1 L406.8 112.6 L410.1 113.1 L413.4 111.3 L416.7 110.3 L420 111.2 L423.3 111.3 L426.6 111.3 L429.9 108.4 L433.2 107.5 L436.5 108.6 L439.8 107.3 L443.1 106.8 L446.4 104.2 L449.7 100.3 L453 96.6 L456.3 95.3 L459.6 88.3 L462.9 84.4 L466.2 82.5 L469.5 84.3 L472.8 86.3 L476.1 87.8 L479.4 89.3 L482.7 89.6 L486 88.7 L489.3 87.1 L492.6 84.4 L495.9 81.5 L499.2 84.7 L502.5 84.9 L505.8 89.6 L509.1 92.3 L512.4 97.8 L515.7 100.7 L519 104.8 L522.3 110.2 L525.6 108.7 L528.9 110.8 L532.2 109.5 L535.5 111.1 L538.8 112.4 L542.1 111.9 L545.4 112.5" fill="none" stroke="none" stroke-width="0.6" marker-start="url(#mk)" marker-mid="url(#mk)" marker-end="url(#mk)"/>
<path d="M402 112.9 L402 112.7 L403.1 112.7 L404.2 112.7 L405.3 112.7 L406.4 112.7 L407.5 112.7 L408.6 112.7 L409.7 112.7 L410.8 112.6 L411.9 112.6 L413.1 112.6 L414.2 112.6 L415.3 112.6 L416.4 112.6 L417.5 112.5 L418.6 112.5 L419.7 112.5 L420.8 112.4 L421.9 112.4 L423 112.3 L424.1 112.3 L425.2 112.2 L426.3 112.1 L427.4 112 L428.5 111.9 L429.6 111.7 L430.7 111.6 L431.8 111.4 L432.9 111.2 L434.1 110.9 L435.2 110.6 L436.3 110.3 L437.4 110 L438.5 109.6 L439.6 109.2 L440.7 108.7 L441.8 108.2 L442.9 107.7 L444 107.1 L445.1 106.4 L446.2 105.8 L447.3 105.1 L448.4 104.3 L449.5 103.5 L450.6 102.8 L451.7 101.9 L452.8 101.1 L453.9 100.3 L455.1 99.5 L456.2 98.7 L457.3 97.9 L458.4 97.2 L459.5 96.5 L460.6 95.8 L461.7 95.3 L462.8 94.8 L463.9 94.4 L465 94 L466.1 93.8 L467.2 93.7 L468.3 93.8 L469.4 94.1 L470.5 94.6 L471.6 95.4 L472.7 96.4 L473.8 97.5 L474.9 98.7 L476.1 100 L477.2 101.4 L478.3 102.7 L479.4 104 L480.5 105.2 L481.6 106.3 L482.7 107.3 L483.8 108.2 L484.9 109 L486 109.7 L487.1 110.3 L488.2 110.8 L489.3 111.2 L490.4 111.6 L491.5 111.9 L492.6 112.1 L493.7 112.3 L494.8 112.4 L495.9 112.5 L497.1 112.6 L498.2 112.7 L499.3 112.7 L500.4 112.8 L501.5 112.8 L502.6 112.8 L503.7 112.8 L504.8 112.9 L505.9 112.9 L507 112.9 L508.1 112.9 L509.2 112.9 L510.3 112.9 L511.4 112.9 L512.5 113 L513.6 113 L514.7 113 L515.8 113 L516.9 113 L518.1 113 L519.2 113 L520.3 113 L521.4 113 L522.5 113 L523.6 113 L524.7 113 L525.8 113 L526.9 113.1 L528 113.1 L529.1 113.1 L530.2 113.1 L531.3 113.1 L532.4 113.1 L533.5 113.1 L534.6 113.1 L535.7 113.1 L536.8 113.1 L537.9 113.1 L539.1 113.1 L540.2 113.1 L541.3 113.1 L542.4 113.1 L543.5 113.1 L544.6 113.1 L545.7 113.1 L546.8 113.1 L547.9 113.1 L549 113.1 L549 113.2 Z" fill="url(#gG)" stroke="#2a8a50" stroke-width="0.5"/>
<path d="M402 112.9 L402 112.8 L403.1 112.8 L404.2 112.8 L405.3 112.8 L406.4 112.8 L407.5 112.8 L408.6 112.8 L409.7 112.8 L410.8 112.8 L411.9 112.8 L413.1 112.8 L414.2 112.8 L415.3 112.8 L416.4 112.8 L417.5 112.8 L418.6 112.8 L419.7 112.8 L420.8 112.8 L421.9 112.8 L423 112.8 L424.1 112.8 L425.2 112.8 L426.3 112.7 L427.4 112.7 L428.5 112.7 L429.6 112.7 L430.7 112.7 L431.8 112.7 L432.9 112.7 L434.1 112.7 L435.2 112.7 L436.3 112.7 L437.4 112.7 L438.5 112.7 L439.6 112.7 L440.7 112.7 L441.8 112.7 L442.9 112.6 L444 112.6 L445.1 112.6 L446.2 112.6 L447.3 112.6 L448.4 112.6 L449.5 112.6 L450.6 112.5 L451.7 112.5 L452.8 112.5 L453.9 112.5 L455.1 112.4 L456.2 112.4 L457.3 112.3 L458.4 112.3 L459.5 112.2 L460.6 112.1 L461.7 112 L462.8 111.9 L463.9 111.8 L465 111.6 L466.1 111.4 L467.2 111.1 L468.3 110.9 L469.4 110.5 L470.5 110.1 L471.6 109.6 L472.7 109.1 L473.8 108.5 L474.9 107.7 L476.1 107 L477.2 106.1 L478.3 105.1 L479.4 104 L480.5 102.9 L481.6 101.6 L482.7 100.3 L483.8 99 L484.9 97.6 L486 96.2 L487.1 94.8 L488.2 93.4 L489.3 92 L490.4 90.8 L491.5 89.6 L492.6 88.7 L493.7 87.8 L494.8 87.2 L495.9 86.8 L497.1 86.7 L498.2 86.8 L499.3 86.9 L500.4 87.3 L501.5 87.8 L502.6 88.3 L503.7 89 L504.8 89.8 L505.9 90.7 L507 91.7 L508.1 92.7 L509.2 93.7 L510.3 94.8 L511.4 95.9 L512.5 97 L513.6 98.1 L514.7 99.1 L515.8 100.2 L516.9 101.2 L518.1 102.2 L519.2 103.1 L520.3 104 L521.4 104.8 L522.5 105.6 L523.6 106.4 L524.7 107 L525.8 107.7 L526.9 108.2 L528 108.8 L529.1 109.2 L530.2 109.7 L531.3 110 L532.4 110.4 L533.5 110.7 L534.6 111 L535.7 111.2 L536.8 111.4 L537.9 111.6 L539.1 111.7 L540.2 111.9 L541.3 112 L542.4 112.1 L543.5 112.2 L544.6 112.3 L545.7 112.4 L546.8 112.4 L547.9 112.5 L549 112.5 L549 113.2 Z" fill="url(#gO)" stroke="#e89030" stroke-width="0.5"/>
<path d="M402 112.9 L549 113.2" stroke="#9c7468" stroke-width="0.8" fill="none" opacity="0.8"/>
<path d="M402 112.3 L403.1 112.3 L404.2 112.3 L405.3 112.3 L406.4 112.2 L407.5 112.2 L408.6 112.1 L409.7 112.1 L410.8 112 L411.9 112 L413.1 111.9 L414.2 111.8 L415.3 111.7 L416.4 111.6 L417.5 111.5 L418.6 111.4 L419.7 111.3 L420.8 111.1 L421.9 111 L423 110.8 L424.1 110.7 L425.2 110.5 L426.3 110.3 L427.4 110.1 L428.5 109.9 L429.6 109.6 L430.7 109.4 L431.8 109.2 L432.9 108.9 L434.1 108.6 L435.2 108.3 L436.3 108 L437.4 107.7 L438.5 107.3 L439.6 106.9 L440.7 106.4 L441.8 105.9 L442.9 105.4 L444 104.8 L445.1 104.1 L446.2 103.4 L447.3 102.5 L448.4 101.6 L449.5 100.6 L450.6 99.5 L451.7 98.3 L452.8 97.1 L453.9 95.7 L455.1 94.4 L456.2 92.9 L457.3 91.5 L458.4 90.1 L459.5 88.7 L460.6 87.4 L461.7 86.3 L462.8 85.3 L463.9 84.5 L465 84 L466.1 83.7 L467.2 83.6 L468.3 83.8 L469.4 84.2 L470.5 84.7 L471.6 85.4 L472.7 86.1 L473.8 86.8 L474.9 87.5 L476.1 88.1 L477.2 88.7 L478.3 89.1 L479.4 89.3 L480.5 89.5 L481.6 89.5 L482.7 89.3 L483.8 89 L484.9 88.5 L486 88 L487.1 87.4 L488.2 86.7 L489.3 86 L490.4 85.4 L491.5 84.7 L492.6 84.2 L493.7 83.7 L494.8 83.4 L495.9 83.3 L497.1 83.4 L498.2 83.6 L499.3 84 L500.4 84.7 L501.5 85.4 L502.6 86.4 L503.7 87.5 L504.8 88.6 L505.9 89.9 L507 91.2 L508.1 92.6 L509.2 93.9 L510.3 95.3 L511.4 96.7 L512.5 98 L513.6 99.3 L514.7 100.5 L515.8 101.6 L516.9 102.7 L518.1 103.7 L519.2 104.7 L520.3 105.5 L521.4 106.3 L522.5 107.1 L523.6 107.7 L524.7 108.3 L525.8 108.8 L526.9 109.3 L528 109.7 L529.1 110 L530.2 110.3 L531.3 110.6 L532.4 110.9 L533.5 111.1 L534.6 111.2 L535.7 111.4 L536.8 111.5 L537.9 111.7 L539.1 111.8 L540.2 111.8 L541.3 111.9 L542.4 112 L543.5 112.1 L544.6 112.1 L545.7 112.2 L546.8 112.2 L547.9 112.3 L549 112.3" fill="none" stroke="#d6312b" stroke-width="1.2" stroke-linejoin="round"/>
<rect x="402" y="121.5" width="147" height="59.5" fill="#fcfcfc"/>
<path d="M403.5 170.9 L406.8 172.5 L410.1 171.9 L413.4 171.5 L416.7 172.6 L420 171.4 L423.3 170.6 L426.6 172 L429.9 169 L433.2 167.5 L436.5 166.4 L439.8 166.2 L443.1 166 L446.4 164.4 L449.7 162.2 L453 159.5 L456.3 154.7 L459.6 148.1 L462.9 142.8 L466.2 136.8 L469.5 132.2 L472.8 133.1 L476.1 133.7 L479.4 135.4 L482.7 138.8 L486 137.4 L489.3 134.9 L492.6 133.6 L495.9 135.1 L499.2 133.2 L502.5 136.8 L505.8 141 L509.1 146.1 L512.4 151.8 L515.7 155.9 L519 160.5 L522.3 164.4 L525.6 166.9 L528.9 170 L532.2 172 L535.5 170.4 L538.8 172.4 L542.1 171.1 L545.4 171.7" fill="none" stroke="none" stroke-width="0.6" marker-start="url(#mk)" marker-mid="url(#mk)" marker-end="url(#mk)"/>
<path d="M402 173 L402 172.7 L403.1 172.7 L404.2 172.7 L405.3 172.7 L406.4 172.7 L407.5 172.7 L408.6 172.6 L409.7 172.6 L410.8 172.6 L411.9 172.6 L413.1 172.6 L414.2 172.6 L415.3 172.5 L416.4 172.5 L417.5 172.5 L418.6 172.5 L419.7 172.4 L420.8 172.4 L421.9 172.3 L423 172.2 L424.1 172.2 L425.2 172.1 L426.3 172 L427.4 171.8 L428.5 171.7 L429.6 171.5 L430.7 171.3 L431.8 171.1 L432.9 170.8 L434.1 170.5 L435.2 170.2 L436.3 169.8 L437.4 169.3 L438.5 168.8 L439.6 168.3 L440.7 167.6 L441.8 167 L442.9 166.2 L444 165.4 L445.1 164.5 L446.2 163.6 L447.3 162.5 L448.4 161.5 L449.5 160.3 L450.6 159.1 L451.7 157.9 L452.8 156.6 L453.9 155.4 L455.1 154 L456.2 152.7 L457.3 151.4 L458.4 150.2 L459.5 149 L460.6 147.8 L461.7 146.7 L462.8 145.7 L463.9 144.8 L465 144.1 L466.1 143.5 L467.2 143 L468.3 142.7 L469.4 142.6 L470.5 142.7 L471.6 143.3 L472.7 144.2 L473.8 145.5 L474.9 147.1 L476.1 148.9 L477.2 150.9 L478.3 153 L479.4 155.1 L480.5 157.2 L481.6 159.2 L482.7 161 L483.8 162.8 L484.9 164.4 L486 165.8 L487.1 167 L488.2 168.1 L489.3 169 L490.4 169.8 L491.5 170.4 L492.6 171 L493.7 171.4 L494.8 171.7 L495.9 172 L497.1 172.2 L498.2 172.4 L499.3 172.5 L500.4 172.6 L501.5 172.7 L502.6 172.7 L503.7 172.8 L504.8 172.8 L505.9 172.9 L507 172.9 L508.1 172.9 L509.2 172.9 L510.3 173 L511.4 173 L512.5 173 L513.6 173 L514.7 173 L515.8 173.1 L516.9 173.1 L518.1 173.1 L519.2 173.1 L520.3 173.1 L521.4 173.1 L522.5 173.1 L523.6 173.1 L524.7 173.2 L525.8 173.2 L526.9 173.2 L528 173.2 L529.1 173.2 L530.2 173.2 L531.3 173.2 L532.4 173.2 L533.5 173.2 L534.6 173.2 L535.7 173.2 L536.8 173.2 L537.9 173.2 L539.1 173.3 L540.2 173.3 L541.3 173.3 L542.4 173.3 L543.5 173.3 L544.6 173.3 L545.7 173.3 L546.8 173.3 L547.9 173.3 L549 173.3 L549 173.4 Z" fill="url(#gG)" stroke="#2a8a50" stroke-width="0.5"/>
<path d="M402 173 L402 172.9 L403.1 172.9 L404.2 172.9 L405.3 172.9 L406.4 172.9 L407.5 172.9 L408.6 172.9 L409.7 172.9 L410.8 172.9 L411.9 172.9 L413.1 172.9 L414.2 172.9 L415.3 172.9 L416.4 172.9 L417.5 172.9 L418.6 172.9 L419.7 172.9 L420.8 172.9 L421.9 172.9 L423 172.9 L424.1 172.9 L425.2 172.9 L426.3 172.9 L427.4 172.9 L428.5 172.9 L429.6 172.9 L430.7 172.9 L431.8 172.9 L432.9 172.9 L434.1 172.9 L435.2 172.9 L436.3 172.9 L437.4 172.9 L438.5 172.9 L439.6 172.9 L440.7 172.9 L441.8 172.9 L442.9 172.9 L444 172.9 L445.1 172.9 L446.2 172.9 L447.3 172.9 L448.4 172.9 L449.5 172.8 L450.6 172.8 L451.7 172.8 L452.8 172.8 L453.9 172.8 L455.1 172.7 L456.2 172.7 L457.3 172.7 L458.4 172.6 L459.5 172.6 L460.6 172.5 L461.7 172.4 L462.8 172.3 L463.9 172.1 L465 171.9 L466.1 171.7 L467.2 171.4 L468.3 171.1 L469.4 170.8 L470.5 170.3 L471.6 169.8 L472.7 169.2 L473.8 168.5 L474.9 167.7 L476.1 166.8 L477.2 165.8 L478.3 164.7 L479.4 163.4 L480.5 162.1 L481.6 160.6 L482.7 159.1 L483.8 157.5 L484.9 155.8 L486 154.1 L487.1 152.3 L488.2 150.5 L489.3 148.8 L490.4 147.1 L491.5 145.6 L492.6 144.1 L493.7 142.8 L494.8 141.7 L495.9 140.8 L497.1 140.2 L498.2 139.8 L499.3 139.7 L500.4 139.8 L501.5 140.1 L502.6 140.6 L503.7 141.3 L504.8 142.2 L505.9 143.2 L507 144.4 L508.1 145.7 L509.2 147.1 L510.3 148.5 L511.4 150 L512.5 151.5 L513.6 153.1 L514.7 154.6 L515.8 156.1 L516.9 157.6 L518.1 159 L519.2 160.4 L520.3 161.7 L521.4 162.9 L522.5 164 L523.6 165.1 L524.7 166 L525.8 166.9 L526.9 167.7 L528 168.4 L529.1 169.1 L530.2 169.6 L531.3 170.1 L532.4 170.6 L533.5 171 L534.6 171.3 L535.7 171.6 L536.8 171.8 L537.9 172 L539.1 172.2 L540.2 172.4 L541.3 172.5 L542.4 172.6 L543.5 172.7 L544.6 172.8 L545.7 172.8 L546.8 172.9 L547.9 172.9 L549 173 L549 173.4 Z" fill="url(#gO)" stroke="#e89030" stroke-width="0.5"/>
<path d="M402 173 L549 173.4" stroke="#9c7468" stroke-width="0.8" fill="none" opacity="0.8"/>
<path d="M402 172.4 L403.1 172.4 L404.2 172.4 L405.3 172.3 L406.4 172.3 L407.5 172.3 L408.6 172.2 L409.7 172.2 L410.8 172.1 L411.9 172.1 L413.1 172 L414.2 171.9 L415.3 171.8 L416.4 171.7 L417.5 171.6 L418.6 171.5 L419.7 171.4 L420.8 171.2 L421.9 171.1 L423 170.9 L424.1 170.7 L425.2 170.5 L426.3 170.3 L427.4 170.1 L428.5 169.8 L429.6 169.6 L430.7 169.3 L431.8 169.1 L432.9 168.8 L434.1 168.5 L435.2 168.2 L436.3 167.9 L437.4 167.5 L438.5 167.2 L439.6 166.8 L440.7 166.4 L441.8 165.9 L442.9 165.5 L444 164.9 L445.1 164.4 L446.2 163.7 L447.3 163 L448.4 162.2 L449.5 161.2 L450.6 160.2 L451.7 159.1 L452.8 157.8 L453.9 156.4 L455.1 154.9 L456.2 153.2 L457.3 151.4 L458.4 149.6 L459.5 147.6 L460.6 145.6 L461.7 143.6 L462.8 141.6 L463.9 139.7 L465 137.9 L466.1 136.2 L467.2 134.8 L468.3 133.7 L469.4 132.8 L470.5 132.3 L471.6 132.1 L472.7 132.2 L473.8 132.5 L474.9 133 L476.1 133.6 L477.2 134.3 L478.3 134.9 L479.4 135.5 L480.5 136.1 L481.6 136.5 L482.7 136.7 L483.8 136.8 L484.9 136.8 L486 136.6 L487.1 136.2 L488.2 135.8 L489.3 135.3 L490.4 134.7 L491.5 134.2 L492.6 133.7 L493.7 133.2 L494.8 132.9 L495.9 132.7 L497.1 132.7 L498.2 133 L499.3 133.4 L500.4 134.1 L501.5 135 L502.6 136.1 L503.7 137.4 L504.8 138.8 L505.9 140.4 L507 142.1 L508.1 143.9 L509.2 145.8 L510.3 147.6 L511.4 149.5 L512.5 151.3 L513.6 153.1 L514.7 154.9 L515.8 156.6 L516.9 158.2 L518.1 159.7 L519.2 161.1 L520.3 162.4 L521.4 163.6 L522.5 164.7 L523.6 165.7 L524.7 166.6 L525.8 167.3 L526.9 168.1 L528 168.7 L529.1 169.2 L530.2 169.7 L531.3 170.1 L532.4 170.5 L533.5 170.8 L534.6 171 L535.7 171.3 L536.8 171.5 L537.9 171.6 L539.1 171.8 L540.2 171.9 L541.3 172 L542.4 172.1 L543.5 172.2 L544.6 172.3 L545.7 172.3 L546.8 172.4 L547.9 172.4 L549 172.5" fill="none" stroke="#d6312b" stroke-width="1.2" stroke-linejoin="round"/>
<rect x="402" y="183.5" width="147" height="68.5" fill="#fcfcfc"/>
<path d="M403.5 240.3 L406.8 241.9 L410.1 239.5 L413.4 238.4 L416.7 240.3 L420 240.4 L423.3 239.8 L426.6 239.4 L429.9 238.1 L433.2 236.8 L436.5 235.8 L439.8 235.4 L443.1 234.1 L446.4 234.1 L449.7 231.9 L453 227.1 L456.3 224.6 L459.6 217.5 L462.9 210.8 L466.2 202.7 L469.5 194.9 L472.8 189.4 L476.1 192.9 L479.4 193.9 L482.7 200 L486 198.7 L489.3 198 L492.6 197.5 L495.9 191.5 L499.2 192.4 L502.5 192.8 L505.8 197.5 L509.1 203.3 L512.4 211.9 L515.7 218.1 L519 225.4 L522.3 231.2 L525.6 233.2 L528.9 239.5 L532.2 240 L535.5 240 L538.8 242 L542.1 244.2 L545.4 244.7" fill="none" stroke="none" stroke-width="0.6" marker-start="url(#mk)" marker-mid="url(#mk)" marker-end="url(#mk)"/>
<path d="M402 240.9 L402 240.5 L403.1 240.5 L404.2 240.5 L405.3 240.5 L406.4 240.5 L407.5 240.5 L408.6 240.6 L409.7 240.6 L410.8 240.6 L411.9 240.6 L413.1 240.6 L414.2 240.6 L415.3 240.6 L416.4 240.6 L417.5 240.6 L418.6 240.6 L419.7 240.6 L420.8 240.6 L421.9 240.5 L423 240.5 L424.1 240.5 L425.2 240.4 L426.3 240.3 L427.4 240.3 L428.5 240.2 L429.6 240.1 L430.7 239.9 L431.8 239.7 L432.9 239.5 L434.1 239.3 L435.2 239 L436.3 238.7 L437.4 238.3 L438.5 237.9 L439.6 237.4 L440.7 236.8 L441.8 236.2 L442.9 235.4 L444 234.6 L445.1 233.7 L446.2 232.7 L447.3 231.7 L448.4 230.5 L449.5 229.2 L450.6 227.9 L451.7 226.5 L452.8 225 L453.9 223.4 L455.1 221.8 L456.2 220.2 L457.3 218.5 L458.4 216.8 L459.5 215.1 L460.6 213.5 L461.7 212 L462.8 210.5 L463.9 209.1 L465 207.9 L466.1 206.8 L467.2 205.9 L468.3 205.3 L469.4 204.8 L470.5 204.6 L471.6 204.7 L472.7 205.4 L473.8 206.7 L474.9 208.6 L476.1 211 L477.2 213.6 L478.3 216.5 L479.4 219.4 L480.5 222.3 L481.6 225.1 L482.7 227.8 L483.8 230.2 L484.9 232.3 L486 234.2 L487.1 235.9 L488.2 237.3 L489.3 238.4 L490.4 239.4 L491.5 240.2 L492.6 240.8 L493.7 241.3 L494.8 241.7 L495.9 242 L497.1 242.2 L498.2 242.4 L499.3 242.6 L500.4 242.7 L501.5 242.8 L502.6 242.9 L503.7 243 L504.8 243.1 L505.9 243.1 L507 243.2 L508.1 243.3 L509.2 243.3 L510.3 243.4 L511.4 243.4 L512.5 243.5 L513.6 243.5 L514.7 243.6 L515.8 243.6 L516.9 243.7 L518.1 243.7 L519.2 243.8 L520.3 243.8 L521.4 243.9 L522.5 243.9 L523.6 243.9 L524.7 244 L525.8 244 L526.9 244.1 L528 244.1 L529.1 244.1 L530.2 244.2 L531.3 244.2 L532.4 244.3 L533.5 244.3 L534.6 244.3 L535.7 244.4 L536.8 244.4 L537.9 244.4 L539.1 244.5 L540.2 244.5 L541.3 244.5 L542.4 244.6 L543.5 244.6 L544.6 244.6 L545.7 244.7 L546.8 244.7 L547.9 244.7 L549 244.8 L549 244.9 Z" fill="url(#gG)" stroke="#2a8a50" stroke-width="0.5"/>
<path d="M402 240.9 L402 240.8 L403.1 240.9 L404.2 240.9 L405.3 240.9 L406.4 241 L407.5 241 L408.6 241 L409.7 241.1 L410.8 241.1 L411.9 241.1 L413.1 241.1 L414.2 241.2 L415.3 241.2 L416.4 241.2 L417.5 241.2 L418.6 241.3 L419.7 241.3 L420.8 241.3 L421.9 241.4 L423 241.4 L424.1 241.4 L425.2 241.4 L426.3 241.5 L427.4 241.5 L428.5 241.5 L429.6 241.6 L430.7 241.6 L431.8 241.6 L432.9 241.6 L434.1 241.7 L435.2 241.7 L436.3 241.7 L437.4 241.7 L438.5 241.8 L439.6 241.8 L440.7 241.8 L441.8 241.8 L442.9 241.9 L444 241.9 L445.1 241.9 L446.2 241.9 L447.3 242 L448.4 242 L449.5 242 L450.6 242 L451.7 242 L452.8 242 L453.9 242 L455.1 242 L456.2 242 L457.3 242 L458.4 242 L459.5 242 L460.6 241.9 L461.7 241.8 L462.8 241.7 L463.9 241.6 L465 241.4 L466.1 241.2 L467.2 240.9 L468.3 240.6 L469.4 240.2 L470.5 239.7 L471.6 239.2 L472.7 238.5 L473.8 237.7 L474.9 236.8 L476.1 235.8 L477.2 234.7 L478.3 233.4 L479.4 232 L480.5 230.4 L481.6 228.7 L482.7 226.9 L483.8 225 L484.9 222.9 L486 220.8 L487.1 218.6 L488.2 216.4 L489.3 214.1 L490.4 211.9 L491.5 209.8 L492.6 207.7 L493.7 205.8 L494.8 204.1 L495.9 202.6 L497.1 201.3 L498.2 200.3 L499.3 199.6 L500.4 199.3 L501.5 199.2 L502.6 199.5 L503.7 200.1 L504.8 201 L505.9 202.2 L507 203.6 L508.1 205.3 L509.2 207.2 L510.3 209.2 L511.4 211.4 L512.5 213.6 L513.6 215.9 L514.7 218.2 L515.8 220.5 L516.9 222.7 L518.1 224.8 L519.2 226.9 L520.3 228.9 L521.4 230.7 L522.5 232.4 L523.6 233.9 L524.7 235.3 L525.8 236.6 L526.9 237.7 L528 238.7 L529.1 239.6 L530.2 240.4 L531.3 241.1 L532.4 241.7 L533.5 242.2 L534.6 242.6 L535.7 242.9 L536.8 243.2 L537.9 243.5 L539.1 243.7 L540.2 243.9 L541.3 244 L542.4 244.2 L543.5 244.3 L544.6 244.4 L545.7 244.5 L546.8 244.5 L547.9 244.6 L549 244.6 L549 244.9 Z" fill="url(#gO)" stroke="#e89030" stroke-width="0.5"/>
<path d="M402 240.9 L549 244.9" stroke="#9c7468" stroke-width="0.8" fill="none" opacity="0.8"/>
<path d="M402 240.4 L403.1 240.4 L404.2 240.4 L405.3 240.4 L406.4 240.4 L407.5 240.3 L408.6 240.3 L409.7 240.3 L410.8 240.3 L411.9 240.3 L413.1 240.2 L414.2 240.2 L415.3 240.1 L416.4 240 L417.5 240 L418.6 239.9 L419.7 239.8 L420.8 239.7 L421.9 239.5 L423 239.4 L424.1 239.2 L425.2 239.1 L426.3 238.9 L427.4 238.7 L428.5 238.4 L429.6 238.2 L430.7 238 L431.8 237.7 L432.9 237.4 L434.1 237.2 L435.2 236.9 L436.3 236.6 L437.4 236.2 L438.5 235.9 L439.6 235.6 L440.7 235.2 L441.8 234.9 L442.9 234.5 L444 234.1 L445.1 233.6 L446.2 233.1 L447.3 232.6 L448.4 232 L449.5 231.3 L450.6 230.5 L451.7 229.5 L452.8 228.4 L453.9 227.1 L455.1 225.7 L456.2 224 L457.3 222.1 L458.4 220 L459.5 217.7 L460.6 215.2 L461.7 212.6 L462.8 209.8 L463.9 207 L465 204.1 L466.1 201.4 L467.2 198.7 L468.3 196.4 L469.4 194.4 L470.5 192.8 L471.6 191.7 L472.7 191.1 L473.8 191 L474.9 191.4 L476.1 192.1 L477.2 193.1 L478.3 194.2 L479.4 195.4 L480.5 196.5 L481.6 197.5 L482.7 198.3 L483.8 198.9 L484.9 199.2 L486 199.3 L487.1 199.1 L488.2 198.7 L489.3 198.1 L490.4 197.3 L491.5 196.5 L492.6 195.5 L493.7 194.7 L494.8 193.8 L495.9 193.1 L497.1 192.6 L498.2 192.3 L499.3 192.3 L500.4 192.5 L501.5 193 L502.6 193.9 L503.7 195 L504.8 196.4 L505.9 198.1 L507 200 L508.1 202 L509.2 204.2 L510.3 206.6 L511.4 209 L512.5 211.4 L513.6 213.8 L514.7 216.2 L515.8 218.6 L516.9 220.9 L518.1 223.1 L519.2 225.2 L520.3 227.2 L521.4 229 L522.5 230.7 L523.6 232.3 L524.7 233.7 L525.8 235 L526.9 236.2 L528 237.2 L529.1 238.1 L530.2 238.9 L531.3 239.7 L532.4 240.3 L533.5 240.8 L534.6 241.3 L535.7 241.7 L536.8 242 L537.9 242.3 L539.1 242.6 L540.2 242.8 L541.3 243 L542.4 243.2 L543.5 243.3 L544.6 243.5 L545.7 243.6 L546.8 243.7 L547.9 243.8 L549 243.9" fill="none" stroke="#d6312b" stroke-width="1.2" stroke-linejoin="round"/>
<rect x="406" y="254.5" width="143" height="85.5" fill="#fcfcfc"/>
<path d="M407.5 329.7 L410.8 329.3 L414.1 326.8 L417.4 325.9 L420.7 327.3 L424 327.5 L427.3 325.9 L430.6 323.6 L433.9 323.6 L437.2 324.4 L440.5 320.3 L443.8 321.2 L447.1 318.5 L450.4 315.3 L453.7 310.7 L457 302.4 L460.3 293.8 L463.6 285.7 L466.9 274.7 L470.2 269.6 L473.5 268.5 L476.8 272.2 L480.1 275.8 L483.4 276.5 L486.7 273.2 L490 268.7 L493.3 264 L496.6 261 L499.9 262.3 L503.2 265.7 L506.5 274.5 L509.8 283 L513.1 291.6 L516.4 301.5 L519.7 310.9 L523 317.2 L526.3 321.4 L529.6 325.3 L532.9 328.6 L536.2 330.3 L539.5 331.7 L542.8 330.6 L546.1 332.2" fill="none" stroke="none" stroke-width="0.6" marker-start="url(#mk)" marker-mid="url(#mk)" marker-end="url(#mk)"/>
<path d="M406 329.4 L406 328.8 L407.1 328.8 L408.2 328.8 L409.3 328.8 L410.4 328.8 L411.5 328.8 L412.6 328.8 L413.7 328.8 L414.8 328.8 L415.9 328.8 L417 328.8 L418.1 328.8 L419.2 328.8 L420.3 328.7 L421.4 328.7 L422.5 328.7 L423.6 328.6 L424.7 328.5 L425.8 328.4 L426.9 328.3 L428 328.2 L429.1 328 L430.2 327.8 L431.3 327.5 L432.4 327.3 L433.5 326.9 L434.6 326.5 L435.7 326.1 L436.8 325.6 L437.9 325 L439 324.3 L440.1 323.6 L441.2 322.7 L442.3 321.8 L443.4 320.8 L444.5 319.6 L445.6 318.4 L446.7 317 L447.8 315.6 L448.9 314 L450 312.4 L451.1 310.7 L452.2 308.9 L453.3 307 L454.4 305.1 L455.5 303.2 L456.6 301.3 L457.7 299.4 L458.8 297.5 L459.9 295.8 L461 294.1 L462.1 292.5 L463.2 291.1 L464.3 289.9 L465.4 288.9 L466.5 288.1 L467.6 287.6 L468.7 287.3 L469.8 287.4 L470.9 288.2 L472 289.7 L473.1 291.8 L474.2 294.5 L475.3 297.5 L476.4 300.8 L477.5 304.1 L478.6 307.4 L479.7 310.6 L480.8 313.6 L481.9 316.4 L483 318.9 L484.1 321.1 L485.2 323 L486.3 324.6 L487.4 326 L488.5 327.1 L489.6 328 L490.7 328.7 L491.8 329.3 L492.9 329.7 L494 330.1 L495.1 330.4 L496.2 330.6 L497.3 330.8 L498.4 331 L499.5 331.1 L500.6 331.2 L501.7 331.3 L502.8 331.4 L503.9 331.5 L505 331.5 L506.1 331.6 L507.2 331.7 L508.3 331.7 L509.4 331.8 L510.5 331.8 L511.6 331.9 L512.7 331.9 L513.8 332 L514.9 332 L516 332.1 L517.1 332.1 L518.2 332.2 L519.3 332.2 L520.4 332.3 L521.5 332.3 L522.6 332.4 L523.7 332.4 L524.8 332.4 L525.9 332.5 L527 332.5 L528.1 332.6 L529.2 332.6 L530.3 332.6 L531.4 332.7 L532.5 332.7 L533.6 332.8 L534.7 332.8 L535.8 332.8 L536.9 332.9 L538 332.9 L539.1 332.9 L540.2 333 L541.3 333 L542.4 333.1 L543.5 333.1 L544.6 333.1 L545.7 333.2 L546.8 333.2 L547.9 333.2 L549 333.3 L549 333.4 Z" fill="url(#gG)" stroke="#2a8a50" stroke-width="0.5"/>
<path d="M406 329.4 L406 329.3 L407.1 329.4 L408.2 329.4 L409.3 329.4 L410.4 329.4 L411.5 329.5 L412.6 329.5 L413.7 329.5 L414.8 329.6 L415.9 329.6 L417 329.6 L418.1 329.6 L419.2 329.7 L420.3 329.7 L421.4 329.7 L422.5 329.7 L423.6 329.8 L424.7 329.8 L425.8 329.8 L426.9 329.9 L428 329.9 L429.1 329.9 L430.2 329.9 L431.3 330 L432.4 330 L433.5 330 L434.6 330 L435.7 330.1 L436.8 330.1 L437.9 330.1 L439 330.1 L440.1 330.2 L441.2 330.2 L442.3 330.2 L443.4 330.2 L444.5 330.3 L445.6 330.3 L446.7 330.3 L447.8 330.3 L448.9 330.3 L450 330.3 L451.1 330.4 L452.2 330.4 L453.3 330.4 L454.4 330.3 L455.5 330.3 L456.6 330.3 L457.7 330.2 L458.8 330.2 L459.9 330.1 L461 330 L462.1 329.8 L463.2 329.6 L464.3 329.3 L465.4 329 L466.5 328.6 L467.6 328.1 L468.7 327.5 L469.8 326.7 L470.9 325.9 L472 324.9 L473.1 323.7 L474.2 322.3 L475.3 320.7 L476.4 319 L477.5 317 L478.6 314.8 L479.7 312.4 L480.8 309.8 L481.9 307 L483 304 L484.1 300.9 L485.2 297.6 L486.3 294.3 L487.4 291 L488.5 287.7 L489.6 284.4 L490.7 281.4 L491.8 278.5 L492.9 275.8 L494 273.5 L495.1 271.6 L496.2 270.1 L497.3 269 L498.4 268.4 L499.5 268.3 L500.6 268.7 L501.7 269.4 L502.8 270.6 L503.9 272.1 L505 274 L506.1 276.1 L507.2 278.6 L508.3 281.2 L509.4 284.1 L510.5 287 L511.6 290.1 L512.7 293.1 L513.8 296.2 L514.9 299.3 L516 302.3 L517.1 305.1 L518.2 307.9 L519.3 310.5 L520.4 313 L521.5 315.3 L522.6 317.4 L523.7 319.4 L524.8 321.1 L525.9 322.7 L527 324.1 L528.1 325.4 L529.2 326.5 L530.3 327.5 L531.4 328.4 L532.5 329.1 L533.6 329.7 L534.7 330.3 L535.8 330.8 L536.9 331.2 L538 331.5 L539.1 331.8 L540.2 332 L541.3 332.2 L542.4 332.4 L543.5 332.5 L544.6 332.7 L545.7 332.8 L546.8 332.9 L547.9 332.9 L549 333 L549 333.4 Z" fill="url(#gO)" stroke="#e89030" stroke-width="0.5"/>
<path d="M406 329.4 L549 333.4" stroke="#9c7468" stroke-width="0.8" fill="none" opacity="0.8"/>
<path d="M406 328.5 L407.1 328.5 L408.2 328.5 L409.3 328.4 L410.4 328.4 L411.5 328.3 L412.6 328.2 L413.7 328.2 L414.8 328.1 L415.9 328 L417 327.9 L418.1 327.7 L419.2 327.6 L420.3 327.4 L421.4 327.3 L422.5 327.1 L423.6 326.8 L424.7 326.6 L425.8 326.4 L426.9 326.1 L428 325.8 L429.1 325.5 L430.2 325.2 L431.3 324.9 L432.4 324.5 L433.5 324.2 L434.6 323.8 L435.7 323.4 L436.8 323.1 L437.9 322.7 L439 322.2 L440.1 321.8 L441.2 321.3 L442.3 320.9 L443.4 320.3 L444.5 319.7 L445.6 319.1 L446.7 318.3 L447.8 317.4 L448.9 316.4 L450 315.3 L451.1 314 L452.2 312.4 L453.3 310.6 L454.4 308.6 L455.5 306.4 L456.6 303.9 L457.7 301.1 L458.8 298.2 L459.9 295.1 L461 291.8 L462.1 288.4 L463.2 285.1 L464.3 281.8 L465.4 278.7 L466.5 276 L467.6 273.6 L468.7 271.7 L469.8 270.4 L470.9 269.6 L472 269.5 L473.1 269.7 L474.2 270.4 L475.3 271.3 L476.4 272.3 L477.5 273.3 L478.6 274.2 L479.7 274.9 L480.8 275.4 L481.9 275.5 L483 275.4 L484.1 274.9 L485.2 274.1 L486.3 273 L487.4 271.7 L488.5 270.2 L489.6 268.6 L490.7 267 L491.8 265.4 L492.9 263.9 L494 262.6 L495.1 261.6 L496.2 260.8 L497.3 260.5 L498.4 260.5 L499.5 261 L500.6 262 L501.7 263.3 L502.8 265.1 L503.9 267.2 L505 269.7 L506.1 272.4 L507.2 275.4 L508.3 278.5 L509.4 281.8 L510.5 285.2 L511.6 288.6 L512.7 291.9 L513.8 295.3 L514.9 298.5 L516 301.7 L517.1 304.7 L518.2 307.5 L519.3 310.1 L520.4 312.6 L521.5 314.9 L522.6 317 L523.7 318.9 L524.8 320.6 L525.9 322.1 L527 323.5 L528.1 324.7 L529.2 325.7 L530.3 326.7 L531.4 327.5 L532.5 328.2 L533.6 328.8 L534.7 329.3 L535.8 329.7 L536.9 330.1 L538 330.5 L539.1 330.7 L540.2 331 L541.3 331.2 L542.4 331.4 L543.5 331.5 L544.6 331.7 L545.7 331.8 L546.8 331.9 L547.9 332 L549 332.1" fill="none" stroke="#d6312b" stroke-width="1.2" stroke-linejoin="round"/>
<path d="M400.9 344.4 H548.6" stroke="#000" stroke-width="2.2"/>
<path d="M410.7 344.4 v3 M463.6 344.4 v3 M516.9 344.4 v3 M437.1 344.4 v2.4 M490.2 344.4 v2.4 " stroke="#000" stroke-width="1.6"/>
<text x="410.7" y="361.7" font-size="16" fill="#000" text-anchor="middle" font-weight="bold" >402</text>
<text x="463.6" y="361.7" font-size="16" fill="#000" text-anchor="middle" font-weight="bold" >399</text>
<text x="516.9" y="361.7" font-size="16" fill="#000" text-anchor="middle" font-weight="bold" >396</text>
<text x="477.8" y="379.2" font-size="15.5" fill="#000" text-anchor="middle" font-weight="bold" >Binding energy (eV)</text>
<rect x="550" y="62" width="146" height="57" fill="#fcfcfc"/>
<path d="M551.5 112.3 L554.8 111.6 L558.1 111.2 L561.4 109.5 L564.7 110.8 L568 109.7 L571.3 111.4 L574.6 105.6 L577.9 112.8 L581.2 98 L584.5 104.1 L587.8 104.2 L591.1 99.7 L594.4 96.2 L597.7 95.5 L601 94.8 L604.3 93.7 L607.6 84.9 L610.9 87.1 L614.2 83.7 L617.5 86.9 L620.8 83.1 L624.1 85.2 L627.4 88.5 L630.7 86.7 L634 89.7 L637.3 89.1 L640.6 92.1 L643.9 89.9 L647.2 94.2 L650.5 96.5 L653.8 97.4 L657.1 105.3 L660.4 95.8 L663.7 96.9 L667 103.6 L670.3 105.2 L673.6 104.7 L676.9 107.7 L680.2 110.5 L683.5 104.9 L686.8 103.3 L690.1 106.5 L693.4 110.1" fill="none" stroke="#d4d4d4" stroke-width="0.6" marker-start="url(#mk)" marker-mid="url(#mk)" marker-end="url(#mk)"/>
<path d="M550 113.9 L550 113.9 L551.1 113.8 L552.2 113.8 L553.3 113.8 L554.4 113.8 L555.5 113.7 L556.6 113.7 L557.7 113.7 L558.8 113.7 L560 113.6 L561.1 113.6 L562.2 113.6 L563.3 113.5 L564.4 113.5 L565.5 113.5 L566.6 113.4 L567.7 113.4 L568.8 113.4 L569.9 113.3 L571 113.3 L572.1 113.2 L573.2 113.2 L574.3 113.2 L575.4 113.1 L576.5 113.1 L577.7 113 L578.8 113 L579.9 112.9 L581 112.9 L582.1 112.8 L583.2 112.8 L584.3 112.7 L585.4 112.7 L586.5 112.6 L587.6 112.5 L588.7 112.5 L589.8 112.4 L590.9 112.3 L592 112.3 L593.1 112.2 L594.2 112.1 L595.3 112 L596.5 111.9 L597.6 111.9 L598.7 111.8 L599.8 111.7 L600.9 111.6 L602 111.5 L603.1 111.4 L604.2 111.3 L605.3 111.2 L606.4 111.1 L607.5 111 L608.6 110.9 L609.7 110.8 L610.8 110.7 L611.9 110.6 L613 110.5 L614.2 110.3 L615.3 110.2 L616.4 110.1 L617.5 110 L618.6 109.9 L619.7 109.8 L620.8 109.6 L621.9 109.5 L623 109.4 L624.1 109.3 L625.2 109.2 L626.3 109.1 L627.4 109 L628.5 108.8 L629.6 108.7 L630.7 108.6 L631.8 108.5 L633 108.4 L634.1 108.3 L635.2 108.2 L636.3 108.1 L637.4 108.1 L638.5 108 L639.6 107.9 L640.7 107.8 L641.8 107.7 L642.9 107.7 L644 107.6 L645.1 107.5 L646.2 107.5 L647.3 107.4 L648.4 107.4 L649.5 107.4 L650.7 107.3 L651.8 107.3 L652.9 107.3 L654 107.3 L655.1 107.3 L656.2 107.3 L657.3 107.3 L658.4 107.3 L659.5 107.3 L660.6 107.3 L661.7 107.3 L662.8 107.3 L663.9 107.4 L665 107.4 L666.1 107.4 L667.2 107.5 L668.3 107.5 L669.5 107.6 L670.6 107.6 L671.7 107.7 L672.8 107.7 L673.9 107.8 L675 107.9 L676.1 107.9 L677.2 108 L678.3 108.1 L679.4 108.1 L680.5 108.2 L681.6 108.3 L682.7 108.3 L683.8 108.4 L684.9 108.5 L686 108.5 L687.2 108.6 L688.3 108.7 L689.4 108.8 L690.5 108.8 L691.6 108.9 L692.7 109 L693.8 109 L694.9 109.1 L696 109.2 L696 110.9 Z" fill="url(#gO)" stroke="#e89030" stroke-width="0.5"/>
<path d="M550 113.9 L550 112.9 L551.1 112.9 L552.2 112.8 L553.3 112.7 L554.4 112.6 L555.5 112.5 L556.6 112.5 L557.7 112.4 L558.8 112.3 L560 112.1 L561.1 112 L562.2 111.9 L563.3 111.8 L564.4 111.6 L565.5 111.4 L566.6 111.3 L567.7 111.1 L568.8 110.9 L569.9 110.6 L571 110.4 L572.1 110.1 L573.2 109.9 L574.3 109.6 L575.4 109.2 L576.5 108.9 L577.7 108.5 L578.8 108.1 L579.9 107.7 L581 107.2 L582.1 106.8 L583.2 106.2 L584.3 105.7 L585.4 105.2 L586.5 104.6 L587.6 103.9 L588.7 103.3 L589.8 102.6 L590.9 101.9 L592 101.2 L593.1 100.5 L594.2 99.7 L595.3 99 L596.5 98.2 L597.6 97.4 L598.7 96.6 L599.8 95.8 L600.9 95 L602 94.2 L603.1 93.5 L604.2 92.7 L605.3 91.9 L606.4 91.2 L607.5 90.6 L608.6 89.9 L609.7 89.3 L610.8 88.8 L611.9 88.3 L613 87.9 L614.2 87.5 L615.3 87.3 L616.4 87.1 L617.5 86.9 L618.6 86.9 L619.7 86.9 L620.8 87 L621.9 87.2 L623 87.5 L624.1 87.9 L625.2 88.3 L626.3 88.7 L627.4 89.2 L628.5 89.8 L629.6 90.4 L630.7 91.1 L631.8 91.8 L633 92.5 L634.1 93.2 L635.2 93.9 L636.3 94.7 L637.4 95.4 L638.5 96.2 L639.6 96.9 L640.7 97.7 L641.8 98.4 L642.9 99.1 L644 99.8 L645.1 100.5 L646.2 101.1 L647.3 101.8 L648.4 102.4 L649.5 103 L650.7 103.5 L651.8 104.1 L652.9 104.6 L654 105 L655.1 105.5 L656.2 105.9 L657.3 106.3 L658.4 106.7 L659.5 107 L660.6 107.3 L661.7 107.6 L662.8 107.9 L663.9 108.1 L665 108.3 L666.1 108.6 L667.2 108.7 L668.3 108.9 L669.5 109.1 L670.6 109.2 L671.7 109.3 L672.8 109.4 L673.9 109.5 L675 109.6 L676.1 109.7 L677.2 109.8 L678.3 109.8 L679.4 109.9 L680.5 109.9 L681.6 110 L682.7 110 L683.8 110.1 L684.9 110.1 L686 110.1 L687.2 110.1 L688.3 110.1 L689.4 110.1 L690.5 110.2 L691.6 110.2 L692.7 110.2 L693.8 110.2 L694.9 110.2 L696 110.2 L696 110.9 Z" fill="url(#gG)" stroke="#2a8a50" stroke-width="0.5"/>
<path d="M550 113.9 L696 110.9" stroke="#9c7468" stroke-width="0.8" fill="none" opacity="0.8"/>
<path d="M550 112.1 L551.1 112 L552.2 111.9 L553.3 111.8 L554.4 111.7 L555.5 111.6 L556.6 111.5 L557.7 111.4 L558.8 111.2 L560 111.1 L561.1 110.9 L562.2 110.8 L563.3 110.6 L564.4 110.4 L565.5 110.2 L566.6 110 L567.7 109.8 L568.8 109.5 L569.9 109.3 L571 109 L572.1 108.7 L573.2 108.4 L574.3 108.1 L575.4 107.7 L576.5 107.3 L577.7 106.9 L578.8 106.5 L579.9 106.1 L581 105.6 L582.1 105.1 L583.2 104.6 L584.3 104 L585.4 103.5 L586.5 102.9 L587.6 102.3 L588.7 101.6 L589.8 100.9 L590.9 100.3 L592 99.5 L593.1 98.8 L594.2 98.1 L595.3 97.3 L596.5 96.5 L597.6 95.7 L598.7 94.9 L599.8 94.1 L600.9 93.3 L602 92.5 L603.1 91.7 L604.2 90.9 L605.3 90.1 L606.4 89.3 L607.5 88.6 L608.6 87.9 L609.7 87.3 L610.8 86.7 L611.9 86.1 L613 85.7 L614.2 85.2 L615.3 84.9 L616.4 84.6 L617.5 84.4 L618.6 84.3 L619.7 84.3 L620.8 84.3 L621.9 84.5 L623 84.7 L624.1 84.9 L625.2 85.2 L626.3 85.6 L627.4 86 L628.5 86.5 L629.6 87 L630.7 87.6 L631.8 88.1 L633 88.7 L634.1 89.3 L635.2 89.9 L636.3 90.6 L637.4 91.2 L638.5 91.8 L639.6 92.4 L640.7 93 L641.8 93.6 L642.9 94.2 L644 94.8 L645.1 95.4 L646.2 95.9 L647.3 96.5 L648.4 97 L649.5 97.5 L650.7 98 L651.8 98.4 L652.9 98.9 L654 99.3 L655.1 99.7 L656.2 100.1 L657.3 100.5 L658.4 100.9 L659.5 101.2 L660.6 101.5 L661.7 101.9 L662.8 102.2 L663.9 102.5 L665 102.7 L666.1 103 L667.2 103.3 L668.3 103.5 L669.5 103.8 L670.6 104 L671.7 104.2 L672.8 104.4 L673.9 104.7 L675 104.9 L676.1 105.1 L677.2 105.2 L678.3 105.4 L679.4 105.6 L680.5 105.8 L681.6 106 L682.7 106.1 L683.8 106.3 L684.9 106.4 L686 106.6 L687.2 106.7 L688.3 106.9 L689.4 107 L690.5 107.2 L691.6 107.3 L692.7 107.4 L693.8 107.5 L694.9 107.7 L696 107.8" fill="none" stroke="#d6312b" stroke-width="1.5" stroke-linejoin="round"/>
<rect x="550" y="121.5" width="148" height="59.5" fill="#fcfcfc"/>
<path d="M551.5 167 L554.8 171.9 L558.1 165.8 L561.4 170.3 L564.7 164.2 L568 170.1 L571.3 166.6 L574.6 170.5 L577.9 167.6 L581.2 163.6 L584.5 160.9 L587.8 161.3 L591.1 157.3 L594.4 152.1 L597.7 153.9 L601 141.1 L604.3 145.6 L607.6 149.4 L610.9 141.5 L614.2 132.9 L617.5 138.9 L620.8 134.9 L624.1 132 L627.4 132.2 L630.7 135.4 L634 138.9 L637.3 137.3 L640.6 144.9 L643.9 139.1 L647.2 145.5 L650.5 139.6 L653.8 140 L657.1 147.5 L660.4 150.3 L663.7 157 L667 151.6 L670.3 155.1 L673.6 151.9 L676.9 157.4 L680.2 160.5 L683.5 158.8 L686.8 164.6 L690.1 167 L693.4 165.4 L696.7 164.2" fill="none" stroke="#d4d4d4" stroke-width="0.6" marker-start="url(#mk)" marker-mid="url(#mk)" marker-end="url(#mk)"/>
<path d="M550 170.5 L550 170 L551.1 170 L552.2 169.9 L553.3 169.9 L554.4 169.8 L555.5 169.8 L556.6 169.7 L557.7 169.7 L558.8 169.6 L559.9 169.5 L561 169.5 L562.1 169.4 L563.3 169.3 L564.4 169.2 L565.5 169 L566.6 168.9 L567.7 168.8 L568.8 168.6 L569.9 168.4 L571 168.2 L572.1 168 L573.2 167.7 L574.3 167.5 L575.4 167.2 L576.5 166.8 L577.6 166.5 L578.7 166.1 L579.8 165.7 L580.9 165.2 L582 164.7 L583.1 164.2 L584.2 163.6 L585.3 163 L586.4 162.4 L587.6 161.7 L588.7 160.9 L589.8 160.2 L590.9 159.4 L592 158.5 L593.1 157.6 L594.2 156.7 L595.3 155.8 L596.4 154.8 L597.5 153.8 L598.6 152.8 L599.7 151.8 L600.8 150.8 L601.9 149.8 L603 148.8 L604.1 147.8 L605.2 146.8 L606.3 145.9 L607.4 145 L608.5 144.1 L609.6 143.3 L610.7 142.6 L611.9 141.9 L613 141.3 L614.1 140.8 L615.2 140.3 L616.3 140 L617.4 139.7 L618.5 139.6 L619.6 139.6 L620.7 139.6 L621.8 139.8 L622.9 140.1 L624 140.4 L625.1 140.9 L626.2 141.4 L627.3 142 L628.4 142.7 L629.5 143.4 L630.6 144.2 L631.7 145.1 L632.8 146 L633.9 146.9 L635 147.9 L636.1 148.9 L637.3 149.8 L638.4 150.8 L639.5 151.8 L640.6 152.8 L641.7 153.7 L642.8 154.7 L643.9 155.6 L645 156.5 L646.1 157.4 L647.2 158.2 L648.3 159 L649.4 159.8 L650.5 160.5 L651.6 161.2 L652.7 161.8 L653.8 162.4 L654.9 163 L656 163.5 L657.1 164 L658.2 164.4 L659.3 164.8 L660.4 165.2 L661.6 165.5 L662.7 165.8 L663.8 166.1 L664.9 166.4 L666 166.6 L667.1 166.8 L668.2 167 L669.3 167.1 L670.4 167.3 L671.5 167.4 L672.6 167.5 L673.7 167.6 L674.8 167.7 L675.9 167.8 L677 167.8 L678.1 167.9 L679.2 168 L680.3 168 L681.4 168 L682.5 168.1 L683.6 168.1 L684.7 168.1 L685.9 168.1 L687 168.1 L688.1 168.1 L689.2 168.1 L690.3 168.1 L691.4 168.1 L692.5 168.1 L693.6 168.1 L694.7 168.1 L695.8 168.1 L696.9 168.1 L698 168.1 L698 168.5 Z" fill="url(#gG)" stroke="#2a8a50" stroke-width="0.5"/>
<path d="M550 170.5 L550 170.5 L551.1 170.5 L552.2 170.5 L553.3 170.5 L554.4 170.4 L555.5 170.4 L556.6 170.4 L557.7 170.4 L558.8 170.4 L559.9 170.4 L561 170.4 L562.1 170.3 L563.3 170.3 L564.4 170.3 L565.5 170.3 L566.6 170.3 L567.7 170.3 L568.8 170.2 L569.9 170.2 L571 170.2 L572.1 170.2 L573.2 170.2 L574.3 170.2 L575.4 170.1 L576.5 170.1 L577.6 170.1 L578.7 170.1 L579.8 170.1 L580.9 170.1 L582 170 L583.1 170 L584.2 170 L585.3 170 L586.4 170 L587.6 169.9 L588.7 169.9 L589.8 169.9 L590.9 169.8 L592 169.8 L593.1 169.8 L594.2 169.7 L595.3 169.7 L596.4 169.6 L597.5 169.6 L598.6 169.5 L599.7 169.5 L600.8 169.4 L601.9 169.3 L603 169.3 L604.1 169.2 L605.2 169.1 L606.3 169 L607.4 168.9 L608.5 168.7 L609.6 168.6 L610.7 168.5 L611.9 168.3 L613 168.2 L614.1 168 L615.2 167.8 L616.3 167.6 L617.4 167.4 L618.5 167.2 L619.6 166.9 L620.7 166.7 L621.8 166.4 L622.9 166.2 L624 165.9 L625.1 165.6 L626.2 165.3 L627.3 165 L628.4 164.7 L629.5 164.4 L630.6 164 L631.7 163.7 L632.8 163.4 L633.9 163 L635 162.7 L636.1 162.4 L637.3 162 L638.4 161.7 L639.5 161.4 L640.6 161.1 L641.7 160.8 L642.8 160.6 L643.9 160.3 L645 160.1 L646.1 159.9 L647.2 159.7 L648.3 159.5 L649.4 159.4 L650.5 159.3 L651.6 159.2 L652.7 159.1 L653.8 159.1 L654.9 159.1 L656 159.1 L657.1 159.2 L658.2 159.2 L659.3 159.3 L660.4 159.5 L661.6 159.6 L662.7 159.8 L663.8 160 L664.9 160.2 L666 160.4 L667.1 160.7 L668.2 160.9 L669.3 161.2 L670.4 161.5 L671.5 161.8 L672.6 162.1 L673.7 162.4 L674.8 162.7 L675.9 163 L677 163.3 L678.1 163.6 L679.2 163.9 L680.3 164.2 L681.4 164.5 L682.5 164.7 L683.6 165 L684.7 165.3 L685.9 165.5 L687 165.7 L688.1 166 L689.2 166.2 L690.3 166.4 L691.4 166.5 L692.5 166.7 L693.6 166.9 L694.7 167 L695.8 167.1 L696.9 167.3 L698 167.4 L698 168.5 Z" fill="url(#gO)" stroke="#e89030" stroke-width="0.5"/>
<path d="M550 170.5 L698 168.5" stroke="#9c7468" stroke-width="0.8" fill="none" opacity="0.8"/>
<path d="M550 169.4 L551.1 169.3 L552.2 169.3 L553.3 169.2 L554.4 169.1 L555.5 169.1 L556.6 169 L557.7 168.9 L558.8 168.8 L559.9 168.7 L561 168.6 L562.1 168.4 L563.3 168.3 L564.4 168.1 L565.5 168 L566.6 167.8 L567.7 167.6 L568.8 167.4 L569.9 167.2 L571 166.9 L572.1 166.7 L573.2 166.4 L574.3 166.1 L575.4 165.7 L576.5 165.3 L577.6 165 L578.7 164.5 L579.8 164.1 L580.9 163.6 L582 163.1 L583.1 162.5 L584.2 161.9 L585.3 161.3 L586.4 160.6 L587.6 159.9 L588.7 159.2 L589.8 158.4 L590.9 157.6 L592 156.8 L593.1 155.9 L594.2 155 L595.3 154.1 L596.4 153.1 L597.5 152.1 L598.6 151.1 L599.7 150.1 L600.8 149 L601.9 148 L603 146.9 L604.1 145.9 L605.2 144.8 L606.3 143.8 L607.4 142.8 L608.5 141.8 L609.6 140.8 L610.7 139.9 L611.9 139 L613 138.2 L614.1 137.4 L615.2 136.7 L616.3 136.1 L617.4 135.5 L618.5 135 L619.6 134.6 L620.7 134.3 L621.8 134.1 L622.9 133.9 L624 133.9 L625.1 133.9 L626.2 133.9 L627.3 134.1 L628.4 134.3 L629.5 134.6 L630.6 134.9 L631.7 135.3 L632.8 135.7 L633.9 136.1 L635 136.6 L636.1 137.1 L637.3 137.6 L638.4 138.2 L639.5 138.7 L640.6 139.3 L641.7 139.8 L642.8 140.4 L643.9 141 L645 141.6 L646.1 142.1 L647.2 142.7 L648.3 143.3 L649.4 143.9 L650.5 144.4 L651.6 145 L652.7 145.6 L653.8 146.1 L654.9 146.7 L656 147.2 L657.1 147.8 L658.2 148.3 L659.3 148.9 L660.4 149.4 L661.6 150 L662.7 150.5 L663.8 151 L664.9 151.6 L666 152.1 L667.1 152.6 L668.2 153.2 L669.3 153.7 L670.4 154.2 L671.5 154.7 L672.6 155.2 L673.7 155.8 L674.8 156.3 L675.9 156.8 L677 157.3 L678.1 157.7 L679.2 158.2 L680.3 158.7 L681.4 159.2 L682.5 159.6 L683.6 160.1 L684.7 160.5 L685.9 160.9 L687 161.3 L688.1 161.7 L689.2 162.1 L690.3 162.5 L691.4 162.8 L692.5 163.2 L693.6 163.5 L694.7 163.8 L695.8 164.1 L696.9 164.4 L698 164.6" fill="none" stroke="#d6312b" stroke-width="1.5" stroke-linejoin="round"/>
<rect x="550" y="183.5" width="150" height="68.5" fill="#fcfcfc"/>
<path d="M551.5 237.1 L554.8 242 L558.1 245.2 L561.4 241.8 L564.7 242.8 L568 237.1 L571.3 241 L574.6 240.1 L577.9 243.9 L581.2 240.5 L584.5 238.7 L587.8 234.6 L591.1 231.9 L594.4 231.6 L597.7 232.1 L601 216.7 L604.3 208.4 L607.6 218.9 L610.9 212.6 L614.2 205.6 L617.5 202.8 L620.8 200.8 L624.1 203.8 L627.4 205.2 L630.7 215.5 L634 216 L637.3 211.6 L640.6 215.9 L643.9 214.6 L647.2 214.2 L650.5 225.2 L653.8 227.1 L657.1 218.6 L660.4 236.2 L663.7 242 L667 245.1 L670.3 244.5 L673.6 235.6 L676.9 245.6 L680.2 243 L683.5 247.9 L686.8 244.6 L690.1 238 L693.4 249.5 L696.7 239.2" fill="none" stroke="#d4d4d4" stroke-width="0.6" marker-start="url(#mk)" marker-mid="url(#mk)" marker-end="url(#mk)"/>
<path d="M550 243.9 L550 243 L551.1 243 L552.2 243 L553.3 243 L554.4 242.9 L555.5 242.9 L556.6 242.9 L557.7 242.8 L558.8 242.8 L559.9 242.7 L561 242.7 L562.1 242.7 L563.2 242.6 L564.3 242.6 L565.4 242.5 L566.5 242.4 L567.6 242.4 L568.8 242.3 L569.9 242.2 L571 242.2 L572.1 242.1 L573.2 242 L574.3 241.9 L575.4 241.7 L576.5 241.6 L577.6 241.4 L578.7 241.3 L579.8 241 L580.9 240.8 L582 240.5 L583.1 240.2 L584.2 239.9 L585.3 239.5 L586.4 239 L587.5 238.5 L588.6 238 L589.7 237.3 L590.8 236.6 L591.9 235.8 L593 234.8 L594.1 233.8 L595.2 232.7 L596.3 231.5 L597.4 230.2 L598.5 228.8 L599.6 227.3 L600.7 225.7 L601.8 224 L602.9 222.2 L604 220.3 L605.1 218.4 L606.2 216.5 L607.4 214.6 L608.5 212.7 L609.6 210.8 L610.7 209 L611.8 207.4 L612.9 205.9 L614 204.6 L615.1 203.6 L616.2 202.8 L617.3 202.3 L618.4 202.2 L619.5 202.4 L620.6 202.9 L621.7 203.7 L622.8 204.8 L623.9 206.1 L625 207.6 L626.1 209.3 L627.2 211.1 L628.3 212.9 L629.4 214.9 L630.5 216.8 L631.6 218.7 L632.7 220.6 L633.8 222.4 L634.9 224.2 L636 225.9 L637.1 227.5 L638.2 229 L639.3 230.4 L640.4 231.7 L641.5 232.9 L642.6 234 L643.8 235 L644.9 235.9 L646 236.7 L647.1 237.4 L648.2 238.1 L649.3 238.6 L650.4 239.1 L651.5 239.6 L652.6 240 L653.7 240.3 L654.8 240.6 L655.9 240.8 L657 241.1 L658.1 241.3 L659.2 241.5 L660.3 241.6 L661.4 241.7 L662.5 241.9 L663.6 242 L664.7 242.1 L665.8 242.2 L666.9 242.3 L668 242.3 L669.1 242.4 L670.2 242.5 L671.3 242.5 L672.4 242.6 L673.5 242.6 L674.6 242.7 L675.7 242.7 L676.8 242.8 L677.9 242.8 L679 242.8 L680.1 242.9 L681.2 242.9 L682.4 242.9 L683.5 243 L684.6 243 L685.7 243 L686.8 243 L687.9 243.1 L689 243.1 L690.1 243.1 L691.2 243.1 L692.3 243.2 L693.4 243.2 L694.5 243.2 L695.6 243.2 L696.7 243.2 L697.8 243.3 L698.9 243.3 L700 243.3 L700 243.9 Z" fill="url(#gG)" stroke="#2a8a50" stroke-width="0.5"/>
<path d="M608.5 243.9 L608.5 243.9 L609.6 243.9 L610.7 243.9 L611.8 243.9 L612.9 243.9 L614 243.9 L615.1 243.9 L616.2 243.9 L617.3 243.9 L618.4 243.9 L619.5 243.9 L620.6 243.9 L621.7 243.9 L622.8 243.9 L623.9 243.8 L625 243.8 L626.1 243.8 L627.2 243.7 L628.3 243.6 L629.4 243.4 L630.5 243.2 L631.6 242.9 L632.7 242.5 L633.8 241.9 L634.9 241.2 L636 240.4 L637.1 239.4 L638.2 238.2 L639.3 236.8 L640.4 235.4 L641.5 233.8 L642.6 232.2 L643.8 230.7 L644.9 229.3 L646 228.1 L647.1 227.1 L648.2 226.5 L649.3 226.2 L650.4 226.3 L651.5 226.8 L652.6 227.6 L653.7 228.7 L654.8 230.1 L655.9 231.6 L657 233.1 L658.1 234.7 L659.2 236.2 L660.3 237.6 L661.4 238.9 L662.5 240 L663.6 240.9 L664.7 241.6 L665.8 242.2 L666.9 242.7 L668 243.1 L669.1 243.3 L670.2 243.5 L671.3 243.6 L672.4 243.7 L673.5 243.8 L674.6 243.8 L675.7 243.9 L676.8 243.9 L677.9 243.9 L679 243.9 L680.1 243.9 L681.2 243.9 L682.4 243.9 L683.5 243.9 L684.6 243.9 L685.7 243.9 L686.8 243.9 L687.9 243.9 L689 243.9 L690.1 243.9 L690.1 243.9 Z" fill="url(#gO)" stroke="#e89030" stroke-width="0.5"/>
<path d="M550 243.9 L700 243.9" stroke="#9c7468" stroke-width="0.8" fill="none" opacity="0.8"/>
<path d="M550 242.9 L551.1 242.9 L552.2 242.8 L553.3 242.8 L554.4 242.8 L555.5 242.7 L556.6 242.7 L557.7 242.6 L558.8 242.6 L559.9 242.6 L561 242.5 L562.1 242.4 L563.2 242.4 L564.3 242.3 L565.4 242.3 L566.5 242.2 L567.6 242.1 L568.8 242 L569.9 241.9 L571 241.8 L572.1 241.7 L573.2 241.6 L574.3 241.4 L575.4 241.3 L576.5 241.1 L577.6 240.9 L578.7 240.6 L579.8 240.4 L580.9 240.1 L582 239.7 L583.1 239.3 L584.2 238.9 L585.3 238.4 L586.4 237.8 L587.5 237.2 L588.6 236.5 L589.7 235.8 L590.8 234.9 L591.9 234 L593 233 L594.1 231.9 L595.2 230.7 L596.3 229.4 L597.4 228 L598.5 226.6 L599.6 225 L600.7 223.4 L601.8 221.7 L602.9 220 L604 218.2 L605.1 216.3 L606.2 214.5 L607.4 212.7 L608.5 210.9 L609.6 209.2 L610.7 207.5 L611.8 206 L612.9 204.7 L614 203.5 L615.1 202.6 L616.2 201.9 L617.3 201.5 L618.4 201.4 L619.5 201.5 L620.6 202 L621.7 202.7 L622.8 203.6 L623.9 204.7 L625 206 L626.1 207.4 L627.2 208.8 L628.3 210.3 L629.4 211.8 L630.5 213.2 L631.6 214.4 L632.7 215.6 L633.8 216.5 L634.9 217.2 L636 217.7 L637.1 218 L638.2 218 L639.3 217.9 L640.4 217.6 L641.5 217.2 L642.6 216.8 L643.8 216.4 L644.9 216.1 L646 216.1 L647.1 216.2 L648.2 216.7 L649.3 217.4 L650.4 218.5 L651.5 219.8 L652.6 221.4 L653.7 223.2 L654.8 225.1 L655.9 227 L657 229 L658.1 230.9 L659.2 232.7 L660.3 234.4 L661.4 235.8 L662.5 237.1 L663.6 238.2 L664.7 239.2 L665.8 239.9 L666.9 240.5 L668 241 L669.1 241.4 L670.2 241.7 L671.3 241.9 L672.4 242.1 L673.5 242.2 L674.6 242.4 L675.7 242.4 L676.8 242.5 L677.9 242.6 L679 242.6 L680.1 242.7 L681.2 242.7 L682.4 242.8 L683.5 242.8 L684.6 242.8 L685.7 242.9 L686.8 242.9 L687.9 242.9 L689 243 L690.1 243 L691.2 243 L692.3 243 L693.4 243.1 L694.5 243.1 L695.6 243.1 L696.7 243.1 L697.8 243.2 L698.9 243.2 L700 243.2" fill="none" stroke="#d6312b" stroke-width="1.2" stroke-linejoin="round"/>
<rect x="554" y="254.5" width="146" height="85.5" fill="#fcfcfc"/>
<path d="M555.5 332.9 L558.8 333.9 L562.1 330.9 L565.4 332 L568.7 328.6 L572 329.7 L575.3 326.5 L578.6 326.6 L581.9 323.5 L585.2 321.3 L588.5 315 L591.8 308.6 L595.1 302.1 L598.4 293.8 L601.7 291.5 L605 279 L608.3 275.8 L611.6 272.3 L614.9 268.4 L618.2 266.4 L621.5 271.3 L624.8 276.6 L628.1 281 L631.4 281.2 L634.7 287.3 L638 290.8 L641.3 295.2 L644.6 292 L647.9 294 L651.2 299.3 L654.5 299.5 L657.8 307.1 L661.1 311 L664.4 319.2 L667.7 323.2 L671 326.7 L674.3 330.9 L677.6 331.9 L680.9 332.1 L684.2 331.2 L687.5 330.8 L690.8 329.7 L694.1 332.4 L697.4 332.8" fill="none" stroke="none" stroke-width="0.6" marker-start="url(#mk)" marker-mid="url(#mk)" marker-end="url(#mk)"/>
<path d="M554 332.6 L554 332.3 L555.1 332.3 L556.2 332.3 L557.3 332.2 L558.4 332.2 L559.5 332.2 L560.6 332.1 L561.7 332.1 L562.8 332 L564 331.9 L565.1 331.8 L566.2 331.7 L567.3 331.6 L568.4 331.5 L569.5 331.3 L570.6 331.1 L571.7 330.8 L572.8 330.6 L573.9 330.2 L575 329.9 L576.1 329.4 L577.2 328.9 L578.3 328.3 L579.4 327.7 L580.5 326.9 L581.7 326.1 L582.8 325.1 L583.9 324 L585 322.9 L586.1 321.6 L587.2 320.1 L588.3 318.6 L589.4 316.9 L590.5 315.1 L591.6 313.1 L592.7 311 L593.8 308.9 L594.9 306.6 L596 304.2 L597.1 301.7 L598.2 299.1 L599.3 296.5 L600.5 293.9 L601.6 291.3 L602.7 288.7 L603.8 286.2 L604.9 283.7 L606 281.3 L607.1 279.1 L608.2 277.1 L609.3 275.2 L610.4 273.6 L611.5 272.2 L612.6 271 L613.7 270.2 L614.8 269.6 L615.9 269.3 L617 269.4 L618.2 269.8 L619.3 270.4 L620.4 271.4 L621.5 272.6 L622.6 274.1 L623.7 275.8 L624.8 277.7 L625.9 279.8 L627 282.1 L628.1 284.5 L629.2 287 L630.3 289.5 L631.4 292.1 L632.5 294.7 L633.6 297.3 L634.7 299.9 L635.8 302.4 L637 304.9 L638.1 307.2 L639.2 309.5 L640.3 311.6 L641.4 313.7 L642.5 315.6 L643.6 317.3 L644.7 319 L645.8 320.5 L646.9 321.9 L648 323.1 L649.1 324.2 L650.2 325.3 L651.3 326.2 L652.4 327 L653.5 327.7 L654.7 328.3 L655.8 328.9 L656.9 329.3 L658 329.8 L659.1 330.1 L660.2 330.4 L661.3 330.7 L662.4 330.9 L663.5 331.1 L664.6 331.3 L665.7 331.4 L666.8 331.5 L667.9 331.6 L669 331.7 L670.1 331.7 L671.2 331.8 L672.3 331.8 L673.5 331.9 L674.6 331.9 L675.7 331.9 L676.8 331.9 L677.9 332 L679 332 L680.1 332 L681.2 332 L682.3 332 L683.4 332 L684.5 332 L685.6 332 L686.7 332 L687.8 332 L688.9 332 L690 332 L691.2 332 L692.3 332 L693.4 332 L694.5 332 L695.6 332 L696.7 332 L697.8 332 L698.9 332 L700 332 L700 332.2 Z" fill="url(#gG)" stroke="#2a8a50" stroke-width="0.5"/>
<path d="M597.1 332.5 L597.1 332.5 L598.2 332.5 L599.3 332.5 L600.5 332.5 L601.6 332.5 L602.7 332.5 L603.8 332.5 L604.9 332.5 L606 332.5 L607.1 332.5 L608.2 332.4 L609.3 332.4 L610.4 332.4 L611.5 332.4 L612.6 332.4 L613.7 332.4 L614.8 332.4 L615.9 332.4 L617 332.4 L618.2 332.3 L619.3 332.3 L620.4 332.2 L621.5 332.2 L622.6 332.1 L623.7 331.9 L624.8 331.8 L625.9 331.5 L627 331.3 L628.1 330.9 L629.2 330.5 L630.3 330 L631.4 329.3 L632.5 328.6 L633.6 327.8 L634.7 326.8 L635.8 325.7 L637 324.5 L638.1 323.1 L639.2 321.7 L640.3 320.2 L641.4 318.7 L642.5 317.2 L643.6 315.7 L644.7 314.3 L645.8 313 L646.9 311.8 L648 310.9 L649.1 310.2 L650.2 309.7 L651.3 309.5 L652.4 309.6 L653.5 310 L654.7 310.6 L655.8 311.5 L656.9 312.6 L658 313.8 L659.1 315.2 L660.2 316.7 L661.3 318.2 L662.4 319.7 L663.5 321.2 L664.6 322.6 L665.7 324 L666.8 325.2 L667.9 326.4 L669 327.4 L670.1 328.3 L671.2 329 L672.3 329.7 L673.5 330.2 L674.6 330.7 L675.7 331 L676.8 331.3 L677.9 331.6 L679 331.7 L680.1 331.9 L681.2 332 L682.3 332.1 L683.4 332.1 L684.5 332.1 L685.6 332.2 L686.7 332.2 L687.8 332.2 L688.9 332.2 L690 332.2 L691.2 332.2 L692.3 332.2 L693.4 332.2 L694.5 332.2 L695.6 332.2 L696.7 332.2 L697.8 332.2 L698.9 332.2 L700 332.2 L700 332.2 Z" fill="url(#gO)" stroke="#e89030" stroke-width="0.5"/>
<path d="M554 332.6 L700 332.2" stroke="#9c7468" stroke-width="0.8" fill="none" opacity="0.8"/>
<path d="M554 331.9 L555.1 331.9 L556.2 331.9 L557.3 331.8 L558.4 331.7 L559.5 331.7 L560.6 331.6 L561.7 331.5 L562.8 331.4 L564 331.3 L565.1 331.1 L566.2 331 L567.3 330.8 L568.4 330.6 L569.5 330.3 L570.6 330 L571.7 329.7 L572.8 329.3 L573.9 328.9 L575 328.4 L576.1 327.8 L577.2 327.2 L578.3 326.5 L579.4 325.7 L580.5 324.9 L581.7 323.9 L582.8 322.8 L583.9 321.6 L585 320.4 L586.1 319 L587.2 317.5 L588.3 315.8 L589.4 314.1 L590.5 312.2 L591.6 310.3 L592.7 308.2 L593.8 306 L594.9 303.8 L596 301.5 L597.1 299.1 L598.2 296.6 L599.3 294.2 L600.5 291.7 L601.6 289.2 L602.7 286.8 L603.8 284.4 L604.9 282.1 L606 279.9 L607.1 277.8 L608.2 275.9 L609.3 274.1 L610.4 272.5 L611.5 271.2 L612.6 270.1 L613.7 269.2 L614.8 268.7 L615.9 268.3 L617 268.3 L618.2 268.5 L619.3 268.9 L620.4 269.6 L621.5 270.5 L622.6 271.6 L623.7 272.9 L624.8 274.3 L625.9 275.8 L627 277.3 L628.1 278.9 L629.2 280.5 L630.3 282 L631.4 283.4 L632.5 284.8 L633.6 286 L634.7 287.1 L635.8 288 L637 288.8 L638.1 289.5 L639.2 290 L640.3 290.5 L641.4 290.8 L642.5 291.2 L643.6 291.5 L644.7 291.9 L645.8 292.3 L646.9 292.9 L648 293.6 L649.1 294.5 L650.2 295.6 L651.3 296.9 L652.4 298.4 L653.5 300 L654.7 301.8 L655.8 303.8 L656.9 305.8 L658 307.9 L659.1 310.1 L660.2 312.2 L661.3 314.3 L662.4 316.3 L663.5 318.2 L664.6 320 L665.7 321.7 L666.8 323.2 L667.9 324.6 L669 325.8 L670.1 326.8 L671.2 327.7 L672.3 328.5 L673.5 329.1 L674.6 329.7 L675.7 330.1 L676.8 330.5 L677.9 330.8 L679 331 L680.1 331.2 L681.2 331.3 L682.3 331.4 L683.4 331.5 L684.5 331.6 L685.6 331.6 L686.7 331.7 L687.8 331.7 L688.9 331.7 L690 331.8 L691.2 331.8 L692.3 331.8 L693.4 331.8 L694.5 331.8 L695.6 331.8 L696.7 331.8 L697.8 331.8 L698.9 331.8 L700 331.9" fill="none" stroke="#d6312b" stroke-width="1.2" stroke-linejoin="round"/>
<path d="M552.6 344.4 H700.7" stroke="#000" stroke-width="2.2"/>
<path d="M562.8 344.4 v3 M616.3 344.4 v3 M669.6 344.4 v3 M589.5 344.4 v2.4 M643 344.4 v2.4 " stroke="#000" stroke-width="1.6"/>
<text x="562.8" y="361.7" font-size="16" fill="#000" text-anchor="middle" font-weight="bold" >402</text>
<text x="616.3" y="361.7" font-size="16" fill="#000" text-anchor="middle" font-weight="bold" >399</text>
<text x="669.6" y="361.7" font-size="16" fill="#000" text-anchor="middle" font-weight="bold" >396</text>
<text x="630.3" y="379.2" font-size="15.5" fill="#000" text-anchor="middle" font-weight="bold" >Binding energy (eV)</text>
<rect x="759" y="50" width="140" height="71.5" fill="#fcfcfc"/>
<path d="M760.5 117.5 L763.8 117.8 L767.1 116.5 L770.4 116.3 L773.7 116.9 L777 117.4 L780.3 116.1 L783.6 114.4 L786.9 113.3 L790.2 111.8 L793.5 109.6 L796.8 105.2 L800.1 100.1 L803.4 94.3 L806.7 87.6 L810 79.7 L813.3 72.8 L816.6 66.3 L819.9 61.8 L823.2 57.5 L826.5 57.2 L829.8 57.6 L833.1 62.5 L836.4 67.8 L839.7 74.2 L843 82 L846.3 89.8 L849.6 95.7 L852.9 102.3 L856.2 107.2 L859.5 110.8 L862.8 113.3 L866.1 113.4 L869.4 115.5 L872.7 115.7 L876 117.1 L879.3 116.8 L882.6 117 L885.9 117.2 L889.2 116.6 L892.5 117.1 L895.8 116.6" fill="none" stroke="none" stroke-width="0.6" marker-start="url(#mk)" marker-mid="url(#mk)" marker-end="url(#mk)"/>
<path d="M759 117 L759 117 L760.1 117 L761.2 117 L762.3 117 L763.4 117 L764.5 117 L765.6 116.9 L766.7 116.9 L767.8 116.9 L768.9 116.9 L770 116.8 L771.1 116.8 L772.2 116.7 L773.3 116.6 L774.4 116.5 L775.5 116.4 L776.6 116.3 L777.7 116.1 L778.8 115.9 L779.9 115.6 L781 115.3 L782.1 115 L783.3 114.6 L784.4 114.1 L785.5 113.6 L786.6 113 L787.7 112.3 L788.8 111.6 L789.9 110.8 L791 109.9 L792.1 109 L793.2 108 L794.3 107 L795.4 105.9 L796.5 104.8 L797.6 103.7 L798.7 102.6 L799.8 101.5 L800.9 100.4 L802 99.4 L803.1 98.5 L804.2 97.6 L805.3 96.9 L806.4 96.3 L807.5 95.8 L808.6 95.4 L809.7 95.2 L810.8 95.2 L811.9 95.3 L813 95.6 L814.1 96 L815.2 96.6 L816.3 97.3 L817.4 98.1 L818.5 99 L819.6 100 L820.7 101 L821.8 102.1 L822.9 103.2 L824 104.3 L825.1 105.4 L826.2 106.5 L827.3 107.6 L828.4 108.6 L829.6 109.6 L830.7 110.4 L831.8 111.3 L832.9 112 L834 112.7 L835.1 113.3 L836.2 113.9 L837.3 114.4 L838.4 114.8 L839.5 115.2 L840.6 115.5 L841.7 115.8 L842.8 116 L843.9 116.2 L845 116.4 L846.1 116.5 L847.2 116.6 L848.3 116.7 L849.4 116.8 L850.5 116.8 L851.6 116.9 L852.7 116.9 L853.8 116.9 L854.9 116.9 L856 117 L857.1 117 L858.2 117 L859.3 117 L860.4 117 L861.5 117 L862.6 117 L863.7 117 L864.8 117 L865.9 117 L867 117 L868.1 117 L869.2 117 L870.3 117 L871.4 117 L872.5 117 L873.6 117 L874.7 117 L875.9 117 L877 117 L878.1 117 L879.2 117 L880.3 117 L881.4 117 L881.4 117 Z" fill="url(#gR)" stroke="#d8553a" stroke-width="0.5"/>
<path d="M774.4 117 L774.4 117 L775.5 117 L776.6 117 L777.7 117 L778.8 117 L779.9 117 L781 117 L782.1 117 L783.3 117 L784.4 117 L785.5 117 L786.6 117 L787.7 117 L788.8 117 L789.9 117 L791 117 L792.1 117 L793.2 117 L794.3 117 L795.4 117 L796.5 116.9 L797.6 116.9 L798.7 116.9 L799.8 116.8 L800.9 116.8 L802 116.7 L803.1 116.6 L804.2 116.5 L805.3 116.3 L806.4 116.1 L807.5 115.9 L808.6 115.6 L809.7 115.2 L810.8 114.8 L811.9 114.3 L813 113.8 L814.1 113.1 L815.2 112.3 L816.3 111.5 L817.4 110.6 L818.5 109.6 L819.6 108.5 L820.7 107.4 L821.8 106.2 L822.9 105 L824 103.8 L825.1 102.7 L826.2 101.5 L827.3 100.5 L828.4 99.6 L829.6 98.8 L830.7 98.1 L831.8 97.7 L832.9 97.4 L834 97.3 L835.1 97.4 L836.2 97.7 L837.3 98.2 L838.4 98.9 L839.5 99.7 L840.6 100.6 L841.7 101.7 L842.8 102.8 L843.9 103.9 L845 105.1 L846.1 106.3 L847.2 107.5 L848.3 108.6 L849.4 109.7 L850.5 110.7 L851.6 111.6 L852.7 112.4 L853.8 113.2 L854.9 113.8 L856 114.4 L857.1 114.9 L858.2 115.3 L859.3 115.6 L860.4 115.9 L861.5 116.2 L862.6 116.3 L863.7 116.5 L864.8 116.6 L865.9 116.7 L867 116.8 L868.1 116.8 L869.2 116.9 L870.3 116.9 L871.4 116.9 L872.5 117 L873.6 117 L874.7 117 L875.9 117 L877 117 L878.1 117 L879.2 117 L880.3 117 L881.4 117 L882.5 117 L883.6 117 L884.7 117 L885.8 117 L886.9 117 L888 117 L889.1 117 L890.2 117 L891.3 117 L892.4 117 L893.5 117 L893.5 117 Z" fill="url(#gO)" stroke="#e89030" stroke-width="0.5"/>
<path d="M792.1 117 L792.1 117 L793.2 117 L794.3 117 L795.4 117 L796.5 117 L797.6 117 L798.7 117 L799.8 117 L800.9 117 L802 117 L803.1 117 L804.2 117 L805.3 117 L806.4 117 L807.5 117 L808.6 117 L809.7 117 L810.8 117 L811.9 117 L813 117 L814.1 117 L815.2 117 L816.3 117 L817.4 116.9 L818.5 116.9 L819.6 116.9 L820.7 116.9 L821.8 116.8 L822.9 116.8 L824 116.7 L825.1 116.6 L826.2 116.5 L827.3 116.4 L828.4 116.3 L829.6 116.1 L830.7 115.9 L831.8 115.7 L832.9 115.4 L834 115.1 L835.1 114.8 L836.2 114.4 L837.3 114 L838.4 113.6 L839.5 113.2 L840.6 112.7 L841.7 112.3 L842.8 111.8 L843.9 111.4 L845 111 L846.1 110.6 L847.2 110.2 L848.3 110 L849.4 109.7 L850.5 109.6 L851.6 109.5 L852.7 109.5 L853.8 109.6 L854.9 109.7 L856 109.9 L857.1 110.2 L858.2 110.5 L859.3 110.9 L860.4 111.3 L861.5 111.8 L862.6 112.2 L863.7 112.7 L864.8 113.1 L865.9 113.6 L867 114 L868.1 114.4 L869.2 114.7 L870.3 115.1 L871.4 115.4 L872.5 115.6 L873.6 115.9 L874.7 116.1 L875.9 116.3 L877 116.4 L878.1 116.5 L879.2 116.6 L880.3 116.7 L881.4 116.8 L882.5 116.8 L883.6 116.9 L884.7 116.9 L885.8 116.9 L886.9 116.9 L888 117 L889.1 117 L890.2 117 L891.3 117 L892.4 117 L893.5 117 L894.6 117 L895.7 117 L896.8 117 L897.9 117 L899 117 L899 117 Z" fill="url(#gG)" stroke="#2a8a50" stroke-width="0.5"/>
<path d="M759 117 L899 117" stroke="#9c7468" stroke-width="0.8" fill="none" opacity="0.8"/>
<path d="M759 117 L760.1 117 L761.2 117 L762.3 117 L763.4 117 L764.5 117 L765.6 116.9 L766.7 116.9 L767.8 116.9 L768.9 116.9 L770 116.8 L771.1 116.8 L772.2 116.8 L773.3 116.7 L774.4 116.6 L775.5 116.5 L776.6 116.4 L777.7 116.3 L778.8 116.1 L779.9 116 L781 115.7 L782.1 115.5 L783.3 115.2 L784.4 114.8 L785.5 114.4 L786.6 113.9 L787.7 113.4 L788.8 112.8 L789.9 112 L791 111.2 L792.1 110.3 L793.2 109.3 L794.3 108.2 L795.4 107 L796.5 105.6 L797.6 104.2 L798.7 102.6 L799.8 100.8 L800.9 99 L802 97 L803.1 95 L804.2 92.8 L805.3 90.5 L806.4 88.2 L807.5 85.7 L808.6 83.3 L809.7 80.8 L810.8 78.3 L811.9 75.8 L813 73.4 L814.1 71.1 L815.2 68.8 L816.3 66.7 L817.4 64.7 L818.5 62.9 L819.6 61.2 L820.7 59.8 L821.8 58.7 L822.9 57.7 L824 57.1 L825.1 56.7 L826.2 56.6 L827.3 56.8 L828.4 57.2 L829.6 58 L830.7 58.9 L831.8 60.2 L832.9 61.6 L834 63.3 L835.1 65.2 L836.2 67.2 L837.3 69.4 L838.4 71.7 L839.5 74 L840.6 76.5 L841.7 79 L842.8 81.4 L843.9 83.9 L845 86.4 L846.1 88.8 L847.2 91.1 L848.3 93.4 L849.4 95.5 L850.5 97.6 L851.6 99.5 L852.7 101.3 L853.8 103 L854.9 104.6 L856 106 L857.1 107.3 L858.2 108.5 L859.3 109.6 L860.4 110.6 L861.5 111.5 L862.6 112.2 L863.7 112.9 L864.8 113.5 L865.9 114.1 L867 114.5 L868.1 114.9 L869.2 115.3 L870.3 115.5 L871.4 115.8 L872.5 116 L873.6 116.2 L874.7 116.3 L875.9 116.5 L877 116.6 L878.1 116.6 L879.2 116.7 L880.3 116.8 L881.4 116.8 L882.5 116.9 L883.6 116.9 L884.7 116.9 L885.8 116.9 L886.9 116.9 L888 117 L889.1 117 L890.2 117 L891.3 117 L892.4 117 L893.5 117 L894.6 117 L895.7 117 L896.8 117 L897.9 117 L899 117" fill="none" stroke="#d6312b" stroke-width="1.2" stroke-linejoin="round"/>
<rect x="758" y="124" width="144" height="63" fill="#fcfcfc"/>
<path d="M759.5 179 L762.8 178.4 L766.1 180.3 L769.4 177.9 L772.7 176.7 L776 175.5 L779.3 173 L782.6 170.4 L785.9 168 L789.2 163.6 L792.5 160.1 L795.8 154.8 L799.1 149.1 L802.4 144.8 L805.7 141 L809 136.9 L812.3 135.3 L815.6 133.2 L818.9 132.7 L822.2 131 L825.5 131.5 L828.8 132.9 L832.1 134.8 L835.4 136.5 L838.7 141.9 L842 145.1 L845.3 151.4 L848.6 155.8 L851.9 160.9 L855.2 165 L858.5 169.6 L861.8 174.3 L865.1 174.7 L868.4 177.7 L871.7 178.7 L875 178.3 L878.3 179.6 L881.6 180 L884.9 179.1 L888.2 179 L891.5 180.1 L894.8 179.6 L898.1 180.7" fill="none" stroke="none" stroke-width="0.6" marker-start="url(#mk)" marker-mid="url(#mk)" marker-end="url(#mk)"/>
<path d="M758 179 L758 179 L759.1 179 L760.2 179 L761.3 178.9 L762.4 178.9 L763.5 178.9 L764.6 178.9 L765.8 178.8 L766.9 178.8 L768 178.7 L769.1 178.6 L770.2 178.5 L771.3 178.4 L772.4 178.2 L773.5 178.1 L774.6 177.8 L775.7 177.6 L776.8 177.3 L777.9 176.9 L779 176.5 L780.2 176 L781.3 175.4 L782.4 174.8 L783.5 174.1 L784.6 173.3 L785.7 172.4 L786.8 171.4 L787.9 170.4 L789 169.2 L790.1 168 L791.2 166.6 L792.3 165.3 L793.4 163.8 L794.6 162.3 L795.7 160.8 L796.8 159.3 L797.9 157.7 L799 156.2 L800.1 154.8 L801.2 153.4 L802.3 152.1 L803.4 150.9 L804.5 149.8 L805.6 148.9 L806.7 148.2 L807.8 147.6 L809 147.2 L810.1 147.1 L811.2 147.1 L812.3 147.3 L813.4 147.7 L814.5 148.3 L815.6 149.1 L816.7 150.1 L817.8 151.2 L818.9 152.4 L820 153.7 L821.1 155.1 L822.2 156.6 L823.4 158.1 L824.5 159.7 L825.6 161.2 L826.7 162.7 L827.8 164.2 L828.9 165.7 L830 167 L831.1 168.3 L832.2 169.6 L833.3 170.7 L834.4 171.8 L835.5 172.7 L836.6 173.6 L837.8 174.4 L838.9 175.1 L840 175.7 L841.1 176.3 L842.2 176.8 L843.3 177.2 L844.4 177.5 L845.5 177.8 L846.6 178.1 L847.7 178.3 L848.8 178.5 L849.9 178.6 L851 178.8 L852.2 178.9 L853.3 179 L854.4 179 L855.5 179.1 L856.6 179.1 L857.7 179.2 L858.8 179.2 L859.9 179.2 L861 179.2 L862.1 179.3 L863.2 179.3 L864.3 179.3 L865.4 179.3 L866.6 179.3 L867.7 179.3 L868.8 179.3 L869.9 179.3 L871 179.3 L872.1 179.3 L873.2 179.3 L874.3 179.3 L875.4 179.3 L876.5 179.3 L877.6 179.3 L878.7 179.3 L879.8 179.3 L881 179.3 L882.1 179.3 L883.2 179.3 L884.3 179.4 L885.4 179.4 L886.5 179.4 L886.5 179.4 Z" fill="url(#gR)" stroke="#d8553a" stroke-width="0.5"/>
<path d="M771.3 179 L771.3 179 L772.4 179 L773.5 179 L774.6 179 L775.7 179 L776.8 179.1 L777.9 179.1 L779 179.1 L780.2 179.1 L781.3 179.1 L782.4 179.1 L783.5 179.1 L784.6 179.1 L785.7 179.1 L786.8 179.1 L787.9 179.1 L789 179.1 L790.1 179.1 L791.2 179.1 L792.3 179 L793.4 179 L794.6 179 L795.7 179 L796.8 178.9 L797.9 178.8 L799 178.7 L800.1 178.6 L801.2 178.4 L802.3 178.2 L803.4 178 L804.5 177.7 L805.6 177.3 L806.7 176.8 L807.8 176.3 L809 175.6 L810.1 174.8 L811.2 174 L812.3 173 L813.4 171.9 L814.5 170.7 L815.6 169.4 L816.7 168 L817.8 166.5 L818.9 165 L820 163.4 L821.1 161.9 L822.2 160.4 L823.4 159 L824.5 157.7 L825.6 156.5 L826.7 155.5 L827.8 154.7 L828.9 154.2 L830 153.9 L831.1 153.8 L832.2 154 L833.3 154.5 L834.4 155.2 L835.5 156.1 L836.6 157.2 L837.8 158.4 L838.9 159.8 L840 161.3 L841.1 162.8 L842.2 164.4 L843.3 165.9 L844.4 167.4 L845.5 168.9 L846.6 170.2 L847.7 171.5 L848.8 172.6 L849.9 173.7 L851 174.6 L852.2 175.4 L853.3 176.1 L854.4 176.7 L855.5 177.2 L856.6 177.6 L857.7 178 L858.8 178.3 L859.9 178.5 L861 178.7 L862.1 178.8 L863.2 179 L864.3 179.1 L865.4 179.1 L866.6 179.2 L867.7 179.2 L868.8 179.2 L869.9 179.3 L871 179.3 L872.1 179.3 L873.2 179.3 L874.3 179.3 L875.4 179.3 L876.5 179.3 L877.6 179.3 L878.7 179.3 L879.8 179.3 L881 179.3 L882.1 179.3 L883.2 179.3 L884.3 179.4 L885.4 179.4 L886.5 179.4 L887.6 179.4 L888.7 179.4 L889.8 179.4 L890.9 179.4 L890.9 179.4 Z" fill="url(#gO)" stroke="#e89030" stroke-width="0.5"/>
<path d="M781.3 179.1 L781.3 179.1 L782.4 179.1 L783.5 179.1 L784.6 179.1 L785.7 179.1 L786.8 179.1 L787.9 179.1 L789 179.1 L790.1 179.1 L791.2 179.1 L792.3 179.1 L793.4 179.1 L794.6 179.1 L795.7 179.1 L796.8 179.1 L797.9 179.1 L799 179.1 L800.1 179.1 L801.2 179.1 L802.3 179.1 L803.4 179.1 L804.5 179.1 L805.6 179.1 L806.7 179.1 L807.8 179.1 L809 179.1 L810.1 179.1 L811.2 179.1 L812.3 179.1 L813.4 179.1 L814.5 179.1 L815.6 179 L816.7 179 L817.8 179 L818.9 178.9 L820 178.9 L821.1 178.8 L822.2 178.7 L823.4 178.6 L824.5 178.5 L825.6 178.4 L826.7 178.2 L827.8 178.1 L828.9 177.9 L830 177.7 L831.1 177.5 L832.2 177.2 L833.3 176.9 L834.4 176.7 L835.5 176.4 L836.6 176 L837.8 175.7 L838.9 175.4 L840 175.1 L841.1 174.7 L842.2 174.4 L843.3 174.1 L844.4 173.8 L845.5 173.5 L846.6 173.3 L847.7 173.1 L848.8 173 L849.9 172.9 L851 172.8 L852.2 172.8 L853.3 172.8 L854.4 172.9 L855.5 173 L856.6 173.1 L857.7 173.3 L858.8 173.6 L859.9 173.8 L861 174.1 L862.1 174.4 L863.2 174.8 L864.3 175.1 L865.4 175.4 L866.6 175.8 L867.7 176.1 L868.8 176.4 L869.9 176.7 L871 177 L872.1 177.3 L873.2 177.6 L874.3 177.8 L875.4 178 L876.5 178.2 L877.6 178.4 L878.7 178.5 L879.8 178.7 L881 178.8 L882.1 178.9 L883.2 179 L884.3 179 L885.4 179.1 L886.5 179.2 L887.6 179.2 L888.7 179.2 L889.8 179.3 L890.9 179.3 L892 179.3 L893.1 179.3 L894.2 179.3 L895.4 179.4 L896.5 179.4 L897.6 179.4 L898.7 179.4 L899.8 179.4 L900.9 179.4 L902 179.4 L902 179.4 Z" fill="url(#gG)" stroke="#2a8a50" stroke-width="0.5"/>
<path d="M758 179 L902 179.4" stroke="#9c7468" stroke-width="0.8" fill="none" opacity="0.8"/>
<path d="M758 178.8 L759.1 178.7 L760.2 178.7 L761.3 178.6 L762.4 178.5 L763.5 178.4 L764.6 178.3 L765.8 178.2 L766.9 178 L768 177.8 L769.1 177.6 L770.2 177.3 L771.3 177 L772.4 176.7 L773.5 176.3 L774.6 175.9 L775.7 175.4 L776.8 174.8 L777.9 174.2 L779 173.5 L780.2 172.8 L781.3 171.9 L782.4 171 L783.5 170.1 L784.6 169 L785.7 167.9 L786.8 166.7 L787.9 165.4 L789 164.1 L790.1 162.7 L791.2 161.3 L792.3 159.8 L793.4 158.3 L794.6 156.7 L795.7 155.1 L796.8 153.5 L797.9 151.9 L799 150.3 L800.1 148.8 L801.2 147.3 L802.3 145.8 L803.4 144.3 L804.5 143 L805.6 141.6 L806.7 140.4 L807.8 139.2 L809 138.1 L810.1 137.1 L811.2 136.2 L812.3 135.4 L813.4 134.6 L814.5 134 L815.6 133.4 L816.7 132.9 L817.8 132.4 L818.9 132.1 L820 131.8 L821.1 131.6 L822.2 131.5 L823.4 131.5 L824.5 131.5 L825.6 131.6 L826.7 131.9 L827.8 132.2 L828.9 132.6 L830 133.1 L831.1 133.7 L832.2 134.5 L833.3 135.3 L834.4 136.3 L835.5 137.3 L836.6 138.5 L837.8 139.8 L838.9 141.2 L840 142.6 L841.1 144.2 L842.2 145.8 L843.3 147.5 L844.4 149.2 L845.5 151 L846.6 152.8 L847.7 154.6 L848.8 156.4 L849.9 158.1 L851 159.9 L852.2 161.5 L853.3 163.1 L854.4 164.7 L855.5 166.1 L856.6 167.5 L857.7 168.8 L858.8 170 L859.9 171.1 L861 172.1 L862.1 173.1 L863.2 173.9 L864.3 174.7 L865.4 175.3 L866.6 175.9 L867.7 176.4 L868.8 176.9 L869.9 177.3 L871 177.6 L872.1 177.9 L873.2 178.2 L874.3 178.4 L875.4 178.6 L876.5 178.7 L877.6 178.8 L878.7 178.9 L879.8 179 L881 179.1 L882.1 179.1 L883.2 179.2 L884.3 179.2 L885.4 179.3 L886.5 179.3 L887.6 179.3 L888.7 179.3 L889.8 179.3 L890.9 179.3 L892 179.4 L893.1 179.4 L894.2 179.4 L895.4 179.4 L896.5 179.4 L897.6 179.4 L898.7 179.4 L899.8 179.4 L900.9 179.4 L902 179.4" fill="none" stroke="#d6312b" stroke-width="1.2" stroke-linejoin="round"/>
<rect x="754" y="189.5" width="148" height="71.5" fill="#fcfcfc"/>
<path d="M755.5 256.9 L758.8 254.4 L762.1 255.2 L765.4 254.3 L768.7 253.2 L772 252.2 L775.3 250.5 L778.6 248.3 L781.9 245.1 L785.2 241.1 L788.5 235.2 L791.8 229.7 L795.1 222.9 L798.4 216.5 L801.7 210.6 L805 205.3 L808.3 201.1 L811.6 199.3 L814.9 197.1 L818.2 195.8 L821.5 194.7 L824.8 193.1 L828.1 193.8 L831.4 195.1 L834.7 199.5 L838 203.2 L841.3 209.2 L844.6 215.1 L847.9 221.9 L851.2 229.2 L854.5 235.7 L857.8 241.3 L861.1 244 L864.4 248.3 L867.7 249.6 L871 251.2 L874.3 252.1 L877.6 252.5 L880.9 253.4 L884.2 253.8 L887.5 253.5 L890.8 252.8 L894.1 253.5 L897.4 253.4 L900.7 253.7" fill="none" stroke="none" stroke-width="0.6" marker-start="url(#mk)" marker-mid="url(#mk)" marker-end="url(#mk)"/>
<path d="M754 255.5 L754 255.5 L755.1 255.4 L756.2 255.4 L757.3 255.4 L758.4 255.3 L759.5 255.3 L760.6 255.2 L761.7 255.2 L762.8 255.1 L763.9 255 L765 254.8 L766.1 254.7 L767.3 254.5 L768.4 254.3 L769.5 254 L770.6 253.7 L771.7 253.3 L772.8 252.9 L773.9 252.4 L775 251.8 L776.1 251.1 L777.2 250.3 L778.3 249.4 L779.4 248.4 L780.5 247.2 L781.6 246 L782.7 244.6 L783.8 243.1 L784.9 241.6 L786 239.9 L787.1 238.1 L788.2 236.3 L789.3 234.4 L790.4 232.5 L791.6 230.6 L792.7 228.8 L793.8 227 L794.9 225.3 L796 223.7 L797.1 222.3 L798.2 221 L799.3 220 L800.4 219.2 L801.5 218.6 L802.6 218.3 L803.7 218.2 L804.8 218.4 L805.9 218.9 L807 219.6 L808.1 220.5 L809.2 221.7 L810.3 223 L811.4 224.6 L812.5 226.2 L813.6 227.9 L814.7 229.7 L815.9 231.6 L817 233.5 L818.1 235.3 L819.2 237.1 L820.3 238.9 L821.4 240.5 L822.5 242.1 L823.6 243.6 L824.7 244.9 L825.8 246.2 L826.9 247.3 L828 248.3 L829.1 249.2 L830.2 250 L831.3 250.7 L832.4 251.3 L833.5 251.8 L834.6 252.2 L835.7 252.5 L836.8 252.8 L837.9 253.1 L839 253.3 L840.1 253.4 L841.3 253.6 L842.4 253.7 L843.5 253.7 L844.6 253.8 L845.7 253.8 L846.8 253.9 L847.9 253.9 L849 253.9 L850.1 253.9 L851.2 253.9 L852.3 253.9 L853.4 253.9 L854.5 253.9 L855.6 253.8 L856.7 253.8 L857.8 253.8 L858.9 253.8 L860 253.8 L861.1 253.8 L862.2 253.7 L863.3 253.7 L864.4 253.7 L865.6 253.7 L866.7 253.7 L867.8 253.7 L868.9 253.6 L870 253.6 L871.1 253.6 L872.2 253.6 L873.3 253.6 L874.4 253.5 L874.4 253.5 Z" fill="url(#gR)" stroke="#d8553a" stroke-width="0.5"/>
<path d="M760.6 255.4 L760.6 255.4 L761.7 255.4 L762.8 255.4 L763.9 255.3 L765 255.3 L766.1 255.3 L767.3 255.3 L768.4 255.3 L769.5 255.2 L770.6 255.2 L771.7 255.2 L772.8 255.2 L773.9 255.2 L775 255.2 L776.1 255.1 L777.2 255.1 L778.3 255.1 L779.4 255.1 L780.5 255.1 L781.6 255 L782.7 255 L783.8 255 L784.9 254.9 L786 254.9 L787.1 254.9 L788.2 254.8 L789.3 254.7 L790.4 254.7 L791.6 254.6 L792.7 254.5 L793.8 254.3 L794.9 254.1 L796 253.9 L797.1 253.7 L798.2 253.4 L799.3 253.1 L800.4 252.6 L801.5 252.2 L802.6 251.6 L803.7 250.9 L804.8 250.2 L805.9 249.3 L807 248.3 L808.1 247.2 L809.2 246 L810.3 244.6 L811.4 243.1 L812.5 241.5 L813.6 239.8 L814.7 238 L815.9 236.1 L817 234.2 L818.1 232.2 L819.2 230.1 L820.3 228.1 L821.4 226.1 L822.5 224.2 L823.6 222.4 L824.7 220.8 L825.8 219.3 L826.9 218 L828 216.9 L829.1 216.1 L830.2 215.6 L831.3 215.3 L832.4 215.3 L833.5 215.6 L834.6 216.1 L835.7 216.9 L836.8 218 L837.9 219.3 L839 220.7 L840.1 222.4 L841.3 224.1 L842.4 226 L843.5 228 L844.6 230 L845.7 231.9 L846.8 233.9 L847.9 235.8 L849 237.7 L850.1 239.4 L851.2 241.1 L852.3 242.7 L853.4 244.1 L854.5 245.4 L855.6 246.6 L856.7 247.6 L857.8 248.6 L858.9 249.4 L860 250.1 L861.1 250.7 L862.2 251.2 L863.3 251.7 L864.4 252 L865.6 252.4 L866.7 252.6 L867.8 252.8 L868.9 253 L870 253.1 L871.1 253.2 L872.2 253.3 L873.3 253.3 L874.4 253.4 L875.5 253.4 L876.6 253.4 L877.7 253.4 L878.8 253.4 L879.9 253.4 L881 253.4 L882.1 253.4 L883.2 253.4 L884.3 253.4 L885.4 253.4 L886.5 253.3 L887.6 253.3 L888.7 253.3 L889.9 253.3 L891 253.3 L892.1 253.3 L893.2 253.2 L894.3 253.2 L895.4 253.2 L896.5 253.2 L897.6 253.2 L898.7 253.2 L899.8 253.1 L900.9 253.1 L902 253.1 L902 253.1 Z" fill="url(#gO)" stroke="#e89030" stroke-width="0.5"/>
<path d="M756.2 255.5 L756.2 255.5 L757.3 255.4 L758.4 255.4 L759.5 255.4 L760.6 255.4 L761.7 255.4 L762.8 255.4 L763.9 255.3 L765 255.3 L766.1 255.3 L767.3 255.3 L768.4 255.3 L769.5 255.2 L770.6 255.2 L771.7 255.2 L772.8 255.2 L773.9 255.2 L775 255.2 L776.1 255.1 L777.2 255.1 L778.3 255.1 L779.4 255.1 L780.5 255.1 L781.6 255 L782.7 255 L783.8 255 L784.9 255 L786 255 L787.1 254.9 L788.2 254.9 L789.3 254.9 L790.4 254.9 L791.6 254.9 L792.7 254.8 L793.8 254.8 L794.9 254.8 L796 254.7 L797.1 254.7 L798.2 254.7 L799.3 254.6 L800.4 254.6 L801.5 254.5 L802.6 254.5 L803.7 254.4 L804.8 254.3 L805.9 254.3 L807 254.2 L808.1 254.1 L809.2 254 L810.3 253.8 L811.4 253.7 L812.5 253.6 L813.6 253.4 L814.7 253.2 L815.9 253 L817 252.8 L818.1 252.6 L819.2 252.3 L820.3 252.1 L821.4 251.8 L822.5 251.5 L823.6 251.1 L824.7 250.8 L825.8 250.4 L826.9 250.1 L828 249.7 L829.1 249.3 L830.2 248.9 L831.3 248.5 L832.4 248 L833.5 247.6 L834.6 247.2 L835.7 246.8 L836.8 246.4 L837.9 246.1 L839 245.7 L840.1 245.4 L841.3 245.1 L842.4 244.8 L843.5 244.6 L844.6 244.4 L845.7 244.2 L846.8 244.1 L847.9 244 L849 244 L850.1 244 L851.2 244 L852.3 244.1 L853.4 244.2 L854.5 244.4 L855.6 244.6 L856.7 244.8 L857.8 245 L858.9 245.3 L860 245.6 L861.1 246 L862.2 246.3 L863.3 246.7 L864.4 247.1 L865.6 247.4 L866.7 247.8 L867.8 248.2 L868.9 248.6 L870 248.9 L871.1 249.3 L872.2 249.6 L873.3 249.9 L874.4 250.2 L875.5 250.5 L876.6 250.8 L877.7 251.1 L878.8 251.3 L879.9 251.5 L881 251.7 L882.1 251.9 L883.2 252.1 L884.3 252.2 L885.4 252.3 L886.5 252.5 L887.6 252.6 L888.7 252.7 L889.9 252.7 L891 252.8 L892.1 252.9 L893.2 252.9 L894.3 252.9 L895.4 253 L896.5 253 L897.6 253 L898.7 253 L899.8 253 L900.9 253 L902 253 L902 253.1 Z" fill="url(#gG)" stroke="#2a8a50" stroke-width="0.5"/>
<path d="M754 255.5 L902 253.1" stroke="#9c7468" stroke-width="0.8" fill="none" opacity="0.8"/>
<path d="M754 255.4 L755.1 255.4 L756.2 255.4 L757.3 255.3 L758.4 255.2 L759.5 255.2 L760.6 255.1 L761.7 255 L762.8 254.9 L763.9 254.7 L765 254.6 L766.1 254.4 L767.3 254.2 L768.4 253.9 L769.5 253.6 L770.6 253.2 L771.7 252.8 L772.8 252.3 L773.9 251.7 L775 251.1 L776.1 250.3 L777.2 249.5 L778.3 248.6 L779.4 247.6 L780.5 246.4 L781.6 245.2 L782.7 243.8 L783.8 242.4 L784.9 240.8 L786 239.1 L787.1 237.3 L788.2 235.5 L789.3 233.5 L790.4 231.5 L791.6 229.4 L792.7 227.3 L793.8 225.2 L794.9 223.1 L796 221 L797.1 218.9 L798.2 216.8 L799.3 214.8 L800.4 212.9 L801.5 211.1 L802.6 209.4 L803.7 207.8 L804.8 206.3 L805.9 204.9 L807 203.6 L808.1 202.4 L809.2 201.3 L810.3 200.4 L811.4 199.5 L812.5 198.7 L813.6 198 L814.7 197.3 L815.9 196.7 L817 196.2 L818.1 195.7 L819.2 195.3 L820.3 194.9 L821.4 194.6 L822.5 194.3 L823.6 194.1 L824.7 194 L825.8 194 L826.9 194.1 L828 194.3 L829.1 194.7 L830.2 195.2 L831.3 195.8 L832.4 196.7 L833.5 197.6 L834.6 198.8 L835.7 200.1 L836.8 201.6 L837.9 203.2 L839 205 L840.1 207 L841.3 209 L842.4 211.2 L843.5 213.4 L844.6 215.7 L845.7 218.1 L846.8 220.4 L847.9 222.8 L849 225.1 L850.1 227.4 L851.2 229.7 L852.3 231.8 L853.4 233.9 L854.5 235.8 L855.6 237.7 L856.7 239.4 L857.8 241 L858.9 242.5 L860 243.9 L861.1 245.1 L862.2 246.2 L863.3 247.2 L864.4 248.1 L865.6 248.9 L866.7 249.6 L867.8 250.2 L868.9 250.8 L870 251.2 L871.1 251.6 L872.2 251.9 L873.3 252.2 L874.4 252.4 L875.5 252.6 L876.6 252.8 L877.7 252.9 L878.8 253 L879.9 253.1 L881 253.1 L882.1 253.2 L883.2 253.2 L884.3 253.2 L885.4 253.3 L886.5 253.3 L887.6 253.3 L888.7 253.3 L889.9 253.3 L891 253.3 L892.1 253.2 L893.2 253.2 L894.3 253.2 L895.4 253.2 L896.5 253.2 L897.6 253.2 L898.7 253.2 L899.8 253.1 L900.9 253.1 L902 253.1" fill="none" stroke="#d6312b" stroke-width="1.2" stroke-linejoin="round"/>
<rect x="760" y="263.5" width="140" height="78.5" fill="#fcfcfc"/>
<path d="M761.5 340.2 L764.8 338 L768.1 341.4 L771.4 343 L774.7 339 L778 339.3 L781.3 338.3 L784.6 336.1 L787.9 332.8 L791.2 326.7 L794.5 313 L797.8 294.2 L801.1 275.7 L804.4 268.4 L807.7 272.5 L811 285.5 L814.3 295.1 L817.6 303.6 L820.9 302.8 L824.2 297 L827.5 292.8 L830.8 294.2 L834.1 292.8 L837.4 292.4 L840.7 291.4 L844 289.5 L847.3 289.2 L850.6 291.9 L853.9 293.1 L857.2 297.9 L860.5 303.9 L863.8 302.4 L867.1 304.4 L870.4 308.8 L873.7 308.4 L877 310.4 L880.3 311.9 L883.6 314.1 L886.9 320.2 L890.2 317.5 L893.5 323 L896.8 322.5" fill="none" stroke="none" stroke-width="0.6" marker-start="url(#mk)" marker-mid="url(#mk)" marker-end="url(#mk)"/>
<path d="M760 341.6 L760 341.4 L761.1 341.2 L762.2 341.1 L763.3 340.9 L764.4 340.8 L765.5 340.6 L766.6 340.5 L767.7 340.3 L768.8 340.2 L769.9 340 L771 339.9 L772.1 339.7 L773.2 339.5 L774.3 339.4 L775.4 339.2 L776.5 339 L777.6 338.8 L778.7 338.7 L779.8 338.5 L780.9 338.2 L782 338 L783.1 337.8 L784.3 337.4 L785.4 337.1 L786.5 336.6 L787.6 335.9 L788.7 335 L789.8 333.8 L790.9 332.2 L792 330 L793.1 327.2 L794.2 323.7 L795.3 319.4 L796.4 314.3 L797.5 308.5 L798.6 302.1 L799.7 295.5 L800.8 289.1 L801.9 283.1 L803 278.3 L804.1 274.9 L805.2 273.4 L806.3 273.9 L807.4 276.3 L808.5 280.4 L809.6 285.8 L810.7 291.8 L811.8 298.1 L812.9 304.3 L814 310.1 L815.1 315.2 L816.2 319.6 L817.3 323.1 L818.4 325.9 L819.5 328.1 L820.6 329.6 L821.7 330.7 L822.8 331.4 L823.9 331.9 L825 332.2 L826.1 332.3 L827.2 332.4 L828.3 332.4 L829.4 332.4 L830.6 332.3 L831.7 332.2 L832.8 332.2 L833.9 332.1 L835 332 L836.1 331.9 L837.2 331.8 L838.3 331.7 L839.4 331.6 L840.5 331.5 L841.6 331.4 L842.7 331.3 L843.8 331.1 L844.9 331 L846 330.9 L847.1 330.8 L848.2 330.7 L849.3 330.6 L850.4 330.4 L851.5 330.3 L852.6 330.2 L853.7 330.1 L854.8 329.9 L855.9 329.8 L857 329.7 L858.1 329.6 L859.2 329.4 L860.3 329.3 L861.4 329.2 L862.5 329.1 L863.6 328.9 L864.7 328.8 L865.8 328.7 L866.9 328.6 L868 328.4 L869.1 328.3 L870.2 328.2 L871.3 328 L872.4 327.9 L873.5 327.8 L874.6 327.7 L875.7 327.5 L876.9 327.4 L878 327.3 L879.1 327.1 L879.1 327.2 Z" fill="url(#gR)" stroke="#d8553a" stroke-width="0.5"/>
<path d="M779.8 339.2 L779.8 339.2 L780.9 339.1 L782 338.9 L783.1 338.8 L784.3 338.7 L785.4 338.5 L786.5 338.4 L787.6 338.3 L788.7 338.1 L789.8 338 L790.9 337.9 L792 337.7 L793.1 337.6 L794.2 337.5 L795.3 337.3 L796.4 337.2 L797.5 337 L798.6 336.9 L799.7 336.7 L800.8 336.5 L801.9 336.3 L803 336 L804.1 335.7 L805.2 335.3 L806.3 334.9 L807.4 334.3 L808.5 333.6 L809.6 332.8 L810.7 331.9 L811.8 330.7 L812.9 329.3 L814 327.8 L815.1 326 L816.2 323.9 L817.3 321.7 L818.4 319.2 L819.5 316.7 L820.6 314 L821.7 311.2 L822.8 308.6 L823.9 306 L825 303.6 L826.1 301.5 L827.2 299.8 L828.3 298.5 L829.4 297.7 L830.6 297.4 L831.7 297.6 L832.8 298.3 L833.9 299.4 L835 301 L836.1 302.9 L837.2 305 L838.3 307.4 L839.4 309.8 L840.5 312.3 L841.6 314.7 L842.7 317 L843.8 319.1 L844.9 321 L846 322.7 L847.1 324.2 L848.2 325.4 L849.3 326.5 L850.4 327.3 L851.5 328 L852.6 328.5 L853.7 328.8 L854.8 329.1 L855.9 329.3 L857 329.3 L858.1 329.4 L859.2 329.4 L860.3 329.3 L861.4 329.2 L862.5 329.1 L863.6 329 L864.7 328.9 L865.8 328.8 L866.9 328.7 L868 328.6 L869.1 328.4 L870.2 328.3 L871.3 328.2 L872.4 328 L873.5 327.9 L874.6 327.8 L875.7 327.6 L876.9 327.5 L878 327.4 L879.1 327.2 L880.2 327.1 L880.2 327.1 Z" fill="url(#gO)" stroke="#e89030" stroke-width="0.5"/>
<path d="M803 336.4 L803 336.4 L804.1 336.3 L805.2 336.1 L806.3 336 L807.4 335.9 L808.5 335.7 L809.6 335.6 L810.7 335.5 L811.8 335.3 L812.9 335.2 L814 335.1 L815.1 334.9 L816.2 334.8 L817.3 334.7 L818.4 334.5 L819.5 334.4 L820.6 334.2 L821.7 334 L822.8 333.9 L823.9 333.6 L825 333.4 L826.1 333.1 L827.2 332.8 L828.3 332.4 L829.4 331.9 L830.6 331.3 L831.7 330.6 L832.8 329.8 L833.9 328.8 L835 327.6 L836.1 326.3 L837.2 324.8 L838.3 323.2 L839.4 321.4 L840.5 319.5 L841.6 317.6 L842.7 315.6 L843.8 313.7 L844.9 311.8 L846 310.2 L847.1 308.8 L848.2 307.6 L849.3 306.8 L850.4 306.4 L851.5 306.4 L852.6 306.7 L853.7 307.4 L854.8 308.4 L855.9 309.6 L857 311.1 L858.1 312.7 L859.2 314.4 L860.3 316.1 L861.4 317.8 L862.5 319.4 L863.6 320.8 L864.7 322.1 L865.8 323.3 L866.9 324.3 L868 325.1 L869.1 325.7 L870.2 326.2 L871.3 326.6 L872.4 326.9 L873.5 327.1 L874.6 327.2 L875.7 327.2 L876.9 327.2 L878 327.2 L879.1 327.1 L880.2 327 L881.3 326.9 L882.4 326.8 L883.5 326.7 L884.6 326.5 L885.7 326.4 L886.8 326.3 L887.9 326.2 L889 326 L890.1 325.9 L891.2 325.8 L892.3 325.6 L893.4 325.5 L894.5 325.4 L895.6 325.2 L896.7 325.1 L897.8 325 L898.9 324.8 L898.9 324.8 Z" fill="url(#gG)" stroke="#2a8a50" stroke-width="0.5"/>
<path d="M803 336.4 L803 336.4 L804.1 336.3 L805.2 336.1 L806.3 336 L807.4 335.9 L808.5 335.7 L809.6 335.6 L810.7 335.5 L811.8 335.3 L812.9 335.2 L814 335.1 L815.1 334.9 L816.2 334.8 L817.3 334.7 L818.4 334.5 L819.5 334.4 L820.6 334.3 L821.7 334.1 L822.8 334 L823.9 333.9 L825 333.7 L826.1 333.6 L827.2 333.5 L828.3 333.3 L829.4 333.2 L830.6 333 L831.7 332.9 L832.8 332.7 L833.9 332.6 L835 332.4 L836.1 332.3 L837.2 332.1 L838.3 331.9 L839.4 331.7 L840.5 331.5 L841.6 331.2 L842.7 331 L843.8 330.7 L844.9 330.4 L846 330.1 L847.1 329.8 L848.2 329.4 L849.3 329 L850.4 328.5 L851.5 328 L852.6 327.5 L853.7 326.9 L854.8 326.3 L855.9 325.7 L857 325.1 L858.1 324.4 L859.2 323.7 L860.3 323 L861.4 322.3 L862.5 321.6 L863.6 320.9 L864.7 320.2 L865.8 319.6 L866.9 319 L868 318.4 L869.1 318 L870.2 317.5 L871.3 317.2 L872.4 316.9 L873.5 316.7 L874.6 316.6 L875.7 316.5 L876.9 316.6 L878 316.7 L879.1 316.9 L880.2 317.1 L881.3 317.4 L882.4 317.8 L883.5 318.2 L884.6 318.6 L885.7 319 L886.8 319.4 L887.9 319.9 L889 320.3 L890.1 320.7 L891.2 321.1 L892.3 321.5 L893.4 321.9 L894.5 322.2 L895.6 322.4 L896.7 322.7 L897.8 322.9 L898.9 323.1 L900 323.2 L900 324.7 Z" fill="url(#gB)" stroke="#2a6ab0" stroke-width="0.5"/>
<path d="M760 341.6 L900 324.7" stroke="#9c7468" stroke-width="0.8" fill="none" opacity="0.8"/>
<path d="M760 340.9 L761.1 340.8 L762.2 340.6 L763.3 340.4 L764.4 340.3 L765.5 340.1 L766.6 339.9 L767.7 339.7 L768.8 339.5 L769.9 339.3 L771 339.1 L772.1 338.9 L773.2 338.7 L774.3 338.5 L775.4 338.2 L776.5 338 L777.6 337.7 L778.7 337.4 L779.8 337.1 L780.9 336.8 L782 336.3 L783.1 335.8 L784.3 335.2 L785.4 334.4 L786.5 333.4 L787.6 332.2 L788.7 330.6 L789.8 328.6 L790.9 326 L792 322.9 L793.1 319.2 L794.2 314.8 L795.3 309.7 L796.4 304.1 L797.5 298 L798.6 291.7 L799.7 285.5 L800.8 279.5 L801.9 274.4 L803 270.4 L804.1 267.9 L805.2 267.2 L806.3 268.3 L807.4 270.9 L808.5 274.8 L809.6 279.3 L810.7 284.2 L811.8 289 L812.9 293.4 L814 297.2 L815.1 300.2 L816.2 302.4 L817.3 303.7 L818.4 304.2 L819.5 304 L820.6 303.2 L821.7 302 L822.8 300.4 L823.9 298.7 L825 297.1 L826.1 295.5 L827.2 294.1 L828.3 293 L829.4 292.1 L830.6 291.5 L831.7 291.2 L832.8 291.1 L833.9 291.1 L835 291.2 L836.1 291.3 L837.2 291.4 L838.3 291.4 L839.4 291.3 L840.5 291.1 L841.6 290.8 L842.7 290.5 L843.8 290.1 L844.9 289.8 L846 289.7 L847.1 289.6 L848.2 289.8 L849.3 290.2 L850.4 290.8 L851.5 291.7 L852.6 292.8 L853.7 294 L854.8 295.3 L855.9 296.6 L857 298 L858.1 299.3 L859.2 300.5 L860.3 301.6 L861.4 302.5 L862.5 303.3 L863.6 304 L864.7 304.5 L865.8 305 L866.9 305.4 L868 305.7 L869.1 306.1 L870.2 306.4 L871.3 306.8 L872.4 307.3 L873.5 307.9 L874.6 308.5 L875.7 309.2 L876.9 310 L878 310.9 L879.1 311.8 L880.2 312.8 L881.3 313.8 L882.4 314.8 L883.5 315.8 L884.6 316.8 L885.7 317.7 L886.8 318.6 L887.9 319.4 L889 320.1 L890.1 320.8 L891.2 321.4 L892.3 321.9 L893.4 322.3 L894.5 322.7 L895.6 323 L896.7 323.3 L897.8 323.4 L898.9 323.6 L900 323.7" fill="none" stroke="#d6312b" stroke-width="1.2" stroke-linejoin="round"/>
<path d="M753.5 345.2 H900.4" stroke="#000" stroke-width="2.2"/>
<path d="M763.7 345.2 v3 M806.4 345.2 v3 M849.5 345.2 v3 M892.9 345.2 v3 M785 345.2 v2.4 M828 345.2 v2.4 M871.2 345.2 v2.4 " stroke="#000" stroke-width="1.6"/>
<text x="763.7" y="362.5" font-size="16" fill="#000" text-anchor="middle" font-weight="bold" >58</text>
<text x="806.4" y="362.5" font-size="16" fill="#000" text-anchor="middle" font-weight="bold" >56</text>
<text x="849.5" y="362.5" font-size="16" fill="#000" text-anchor="middle" font-weight="bold" >54</text>
<text x="892.9" y="362.5" font-size="16" fill="#000" text-anchor="middle" font-weight="bold" >52</text>
<text x="831.8" y="380" font-size="15.5" fill="#000" text-anchor="middle" font-weight="bold" >Binding energy (eV)</text>
<rect x="906" y="50" width="148" height="71.5" fill="#fcfcfc"/>
<path d="M907.5 113.1 L910.8 115 L914.1 114.2 L917.4 113.5 L920.7 114.3 L924 113 L927.3 115 L930.6 113.8 L933.9 113.3 L937.2 113.7 L940.5 112.2 L943.8 113 L947.1 112.7 L950.4 112 L953.7 110.5 L957 107.9 L960.3 106.6 L963.6 102.9 L966.9 100.7 L970.2 96.8 L973.5 93.2 L976.8 90.6 L980.1 87.9 L983.4 84.4 L986.7 80.2 L990 77.5 L993.3 75.1 L996.6 74.1 L999.9 74.3 L1003.2 75.6 L1006.5 77.2 L1009.8 80.7 L1013.1 83.8 L1016.4 88.3 L1019.7 93.6 L1023 97.6 L1026.3 100.5 L1029.6 103.1 L1032.9 105.4 L1036.2 106.6 L1039.5 107.6 L1042.8 109.4 L1046.1 109 L1049.4 110.3 L1052.7 109.5" fill="none" stroke="none" stroke-width="0.6" marker-start="url(#mk)" marker-mid="url(#mk)" marker-end="url(#mk)"/>
<path d="M927 113.8 L927 113.8 L928.1 113.8 L929.2 113.8 L930.3 113.7 L931.4 113.7 L932.5 113.7 L933.6 113.7 L934.7 113.6 L935.8 113.6 L936.9 113.6 L938 113.6 L939.1 113.5 L940.2 113.5 L941.3 113.5 L942.4 113.5 L943.6 113.4 L944.7 113.4 L945.8 113.4 L946.9 113.4 L948 113.3 L949.1 113.3 L950.2 113.3 L951.3 113.2 L952.4 113.2 L953.5 113.1 L954.6 113.1 L955.7 113.1 L956.8 113 L957.9 112.9 L959 112.9 L960.1 112.8 L961.2 112.7 L962.3 112.5 L963.4 112.4 L964.5 112.2 L965.6 112 L966.7 111.8 L967.9 111.5 L969 111.2 L970.1 110.8 L971.2 110.4 L972.3 109.9 L973.4 109.3 L974.5 108.7 L975.6 108 L976.7 107.2 L977.8 106.3 L978.9 105.3 L980 104.2 L981.1 103.1 L982.2 101.8 L983.3 100.5 L984.4 99.1 L985.5 97.6 L986.6 96.1 L987.7 94.5 L988.8 92.9 L989.9 91.3 L991 89.8 L992.1 88.2 L993.3 86.8 L994.4 85.4 L995.5 84.1 L996.6 82.9 L997.7 81.9 L998.8 81 L999.9 80.3 L1001 79.8 L1002.1 79.5 L1003.2 79.4 L1004.3 79.5 L1005.4 79.8 L1006.5 80.2 L1007.6 80.9 L1008.7 81.8 L1009.8 82.8 L1010.9 83.9 L1012 85.2 L1013.1 86.5 L1014.2 88 L1015.3 89.5 L1016.4 91 L1017.6 92.5 L1018.7 94.1 L1019.8 95.6 L1020.9 97 L1022 98.5 L1023.1 99.8 L1024.2 101.1 L1025.3 102.2 L1026.4 103.3 L1027.5 104.3 L1028.6 105.3 L1029.7 106.1 L1030.8 106.8 L1031.9 107.5 L1033 108 L1034.1 108.5 L1035.2 109 L1036.3 109.4 L1037.4 109.7 L1038.5 109.9 L1039.6 110.1 L1040.7 110.3 L1041.9 110.5 L1043 110.6 L1044.1 110.7 L1045.2 110.7 L1046.3 110.8 L1047.4 110.8 L1048.5 110.9 L1049.6 110.9 L1050.7 110.9 L1051.8 110.9 L1052.9 110.9 L1054 110.9 L1054 110.9 Z" fill="url(#gG)" stroke="#2a8a50" stroke-width="0.5"/>
<path d="M915.9 114.1 L915.9 114.1 L917 114 L918.1 114 L919.3 114 L920.4 114 L921.5 113.9 L922.6 113.9 L923.7 113.9 L924.8 113.9 L925.9 113.8 L927 113.8 L928.1 113.8 L929.2 113.8 L930.3 113.7 L931.4 113.7 L932.5 113.7 L933.6 113.7 L934.7 113.6 L935.8 113.6 L936.9 113.6 L938 113.5 L939.1 113.5 L940.2 113.5 L941.3 113.4 L942.4 113.4 L943.6 113.4 L944.7 113.3 L945.8 113.2 L946.9 113.2 L948 113.1 L949.1 113 L950.2 112.9 L951.3 112.7 L952.4 112.6 L953.5 112.4 L954.6 112.2 L955.7 111.9 L956.8 111.6 L957.9 111.3 L959 110.9 L960.1 110.5 L961.2 110 L962.3 109.5 L963.4 108.9 L964.5 108.3 L965.6 107.7 L966.7 107 L967.9 106.3 L969 105.5 L970.1 104.8 L971.2 104 L972.3 103.3 L973.4 102.6 L974.5 102 L975.6 101.4 L976.7 100.9 L977.8 100.4 L978.9 100.1 L980 99.8 L981.1 99.7 L982.2 99.7 L983.3 99.7 L984.4 99.9 L985.5 100.2 L986.6 100.6 L987.7 101.1 L988.8 101.6 L989.9 102.2 L991 102.8 L992.1 103.5 L993.3 104.2 L994.4 104.9 L995.5 105.6 L996.6 106.2 L997.7 106.9 L998.8 107.5 L999.9 108 L1001 108.6 L1002.1 109 L1003.2 109.5 L1004.3 109.9 L1005.4 110.2 L1006.5 110.5 L1007.6 110.7 L1008.7 110.9 L1009.8 111.1 L1010.9 111.2 L1012 111.3 L1013.1 111.4 L1014.2 111.5 L1015.3 111.5 L1016.4 111.6 L1017.6 111.6 L1018.7 111.6 L1019.8 111.6 L1020.9 111.6 L1022 111.6 L1023.1 111.6 L1024.2 111.6 L1025.3 111.5 L1026.4 111.5 L1027.5 111.5 L1028.6 111.5 L1029.7 111.5 L1030.8 111.4 L1031.9 111.4 L1033 111.4 L1034.1 111.4 L1035.2 111.3 L1036.3 111.3 L1037.4 111.3 L1038.5 111.3 L1039.6 111.2 L1040.7 111.2 L1041.9 111.2 L1043 111.2 L1044.1 111.1 L1045.2 111.1 L1046.3 111.1 L1047.4 111.1 L1047.4 111.1 Z" fill="url(#gO)" stroke="#e89030" stroke-width="0.5"/>
<path d="M908.2 114.2 L908.2 114.2 L909.3 114.2 L910.4 114.2 L911.5 114.2 L912.6 114.1 L913.7 114.1 L914.8 114.1 L915.9 114.1 L917 114 L918.1 114 L919.3 114 L920.4 114 L921.5 113.9 L922.6 113.9 L923.7 113.9 L924.8 113.9 L925.9 113.8 L927 113.8 L928.1 113.8 L929.2 113.7 L930.3 113.7 L931.4 113.7 L932.5 113.6 L933.6 113.6 L934.7 113.5 L935.8 113.5 L936.9 113.4 L938 113.3 L939.1 113.2 L940.2 113.1 L941.3 112.9 L942.4 112.8 L943.6 112.6 L944.7 112.3 L945.8 112.1 L946.9 111.8 L948 111.5 L949.1 111.2 L950.2 110.8 L951.3 110.5 L952.4 110.1 L953.5 109.7 L954.6 109.3 L955.7 109 L956.8 108.7 L957.9 108.4 L959 108.2 L960.1 108 L961.2 107.9 L962.3 107.8 L963.4 107.8 L964.5 107.9 L965.6 108 L966.7 108.2 L967.9 108.4 L969 108.7 L970.1 109 L971.2 109.3 L972.3 109.6 L973.4 109.9 L974.5 110.2 L975.6 110.5 L976.7 110.8 L977.8 111.1 L978.9 111.3 L980 111.5 L981.1 111.7 L982.2 111.8 L983.3 111.9 L984.4 112 L985.5 112.1 L986.6 112.2 L987.7 112.2 L988.8 112.2 L989.9 112.3 L991 112.3 L992.1 112.3 L993.3 112.3 L994.4 112.2 L995.5 112.2 L996.6 112.2 L997.7 112.2 L998.8 112.2 L999.9 112.1 L1001 112.1 L1002.1 112.1 L1003.2 112.1 L1004.3 112 L1005.4 112 L1006.5 112 L1007.6 112 L1008.7 111.9 L1009.8 111.9 L1010.9 111.9 L1012 111.9 L1013.1 111.8 L1014.2 111.8 L1015.3 111.8 L1016.4 111.8 L1016.4 111.8 Z" fill="url(#gR)" stroke="#d8553a" stroke-width="0.5"/>
<path d="M912.6 114.1 L912.6 114.1 L913.7 114.1 L914.8 114.1 L915.9 114.1 L917 114 L918.1 114 L919.3 114 L920.4 114 L921.5 113.9 L922.6 113.9 L923.7 113.9 L924.8 113.9 L925.9 113.8 L927 113.8 L928.1 113.8 L929.2 113.8 L930.3 113.7 L931.4 113.7 L932.5 113.7 L933.6 113.7 L934.7 113.6 L935.8 113.6 L936.9 113.6 L938 113.6 L939.1 113.5 L940.2 113.5 L941.3 113.5 L942.4 113.5 L943.6 113.4 L944.7 113.4 L945.8 113.4 L946.9 113.4 L948 113.3 L949.1 113.3 L950.2 113.3 L951.3 113.3 L952.4 113.2 L953.5 113.2 L954.6 113.2 L955.7 113.1 L956.8 113.1 L957.9 113.1 L959 113.1 L960.1 113 L961.2 113 L962.3 113 L963.4 112.9 L964.5 112.9 L965.6 112.9 L966.7 112.8 L967.9 112.8 L969 112.7 L970.1 112.7 L971.2 112.6 L972.3 112.6 L973.4 112.5 L974.5 112.5 L975.6 112.4 L976.7 112.4 L977.8 112.3 L978.9 112.2 L980 112.2 L981.1 112.1 L982.2 112 L983.3 111.9 L984.4 111.8 L985.5 111.7 L986.6 111.6 L987.7 111.5 L988.8 111.4 L989.9 111.3 L991 111.1 L992.1 111 L993.3 110.9 L994.4 110.7 L995.5 110.6 L996.6 110.4 L997.7 110.3 L998.8 110.1 L999.9 110 L1001 109.8 L1002.1 109.7 L1003.2 109.5 L1004.3 109.3 L1005.4 109.2 L1006.5 109 L1007.6 108.9 L1008.7 108.7 L1009.8 108.6 L1010.9 108.5 L1012 108.3 L1013.1 108.2 L1014.2 108.1 L1015.3 108 L1016.4 107.9 L1017.6 107.8 L1018.7 107.8 L1019.8 107.7 L1020.9 107.7 L1022 107.6 L1023.1 107.6 L1024.2 107.6 L1025.3 107.6 L1026.4 107.6 L1027.5 107.7 L1028.6 107.7 L1029.7 107.7 L1030.8 107.8 L1031.9 107.9 L1033 107.9 L1034.1 108 L1035.2 108.1 L1036.3 108.2 L1037.4 108.3 L1038.5 108.4 L1039.6 108.5 L1040.7 108.6 L1041.9 108.7 L1043 108.8 L1044.1 109 L1045.2 109.1 L1046.3 109.2 L1047.4 109.3 L1048.5 109.4 L1049.6 109.5 L1050.7 109.5 L1051.8 109.6 L1052.9 109.7 L1054 109.8 L1054 110.9 Z" fill="url(#gB)" stroke="#2a6ab0" stroke-width="0.5"/>
<path d="M906 114.3 L1054 110.9" stroke="#9c7468" stroke-width="0.8" fill="none" opacity="0.8"/>
<path d="M906 114.1 L907.1 114.1 L908.2 114.1 L909.3 114.1 L910.4 114 L911.5 114 L912.6 114 L913.7 113.9 L914.8 113.9 L915.9 113.9 L917 113.8 L918.1 113.8 L919.3 113.8 L920.4 113.7 L921.5 113.7 L922.6 113.7 L923.7 113.7 L924.8 113.6 L925.9 113.6 L927 113.6 L928.1 113.5 L929.2 113.5 L930.3 113.4 L931.4 113.4 L932.5 113.4 L933.6 113.3 L934.7 113.3 L935.8 113.2 L936.9 113.2 L938 113.1 L939.1 113 L940.2 113 L941.3 112.9 L942.4 112.8 L943.6 112.6 L944.7 112.5 L945.8 112.3 L946.9 112.1 L948 111.9 L949.1 111.7 L950.2 111.4 L951.3 111 L952.4 110.7 L953.5 110.2 L954.6 109.8 L955.7 109.2 L956.8 108.6 L957.9 108 L959 107.3 L960.1 106.5 L961.2 105.6 L962.3 104.8 L963.4 103.8 L964.5 102.8 L965.6 101.8 L966.7 100.7 L967.9 99.6 L969 98.4 L970.1 97.3 L971.2 96.1 L972.3 94.9 L973.4 93.7 L974.5 92.5 L975.6 91.4 L976.7 90.2 L977.8 89 L978.9 87.9 L980 86.7 L981.1 85.6 L982.2 84.5 L983.3 83.5 L984.4 82.4 L985.5 81.4 L986.6 80.4 L987.7 79.5 L988.8 78.6 L989.9 77.8 L991 77 L992.1 76.3 L993.3 75.7 L994.4 75.1 L995.5 74.7 L996.6 74.4 L997.7 74.2 L998.8 74.1 L999.9 74.2 L1001 74.4 L1002.1 74.8 L1003.2 75.2 L1004.3 75.8 L1005.4 76.6 L1006.5 77.4 L1007.6 78.4 L1008.7 79.5 L1009.8 80.6 L1010.9 81.9 L1012 83.2 L1013.1 84.5 L1014.2 85.9 L1015.3 87.3 L1016.4 88.7 L1017.6 90.1 L1018.7 91.5 L1019.8 92.9 L1020.9 94.2 L1022 95.5 L1023.1 96.8 L1024.2 98 L1025.3 99.1 L1026.4 100.2 L1027.5 101.2 L1028.6 102.2 L1029.7 103.1 L1030.8 103.9 L1031.9 104.6 L1033 105.3 L1034.1 106 L1035.2 106.5 L1036.3 107 L1037.4 107.5 L1038.5 107.9 L1039.6 108.3 L1040.7 108.6 L1041.9 108.9 L1043 109.1 L1044.1 109.3 L1045.2 109.5 L1046.3 109.7 L1047.4 109.8 L1048.5 109.9 L1049.6 110 L1050.7 110.1 L1051.8 110.1 L1052.9 110.2 L1054 110.2" fill="none" stroke="#d6312b" stroke-width="1.5" stroke-linejoin="round"/>
<rect x="908" y="124" width="145" height="63" fill="#fcfcfc"/>
<path d="M909.5 174.9 L912.8 174.4 L916.1 175 L919.4 175.4 L922.7 175.3 L926 174.4 L929.3 173.6 L932.6 172.8 L935.9 171.8 L939.2 170.3 L942.5 168.4 L945.8 166.4 L949.1 165.8 L952.4 162.7 L955.7 160.6 L959 156.5 L962.3 155 L965.6 152.5 L968.9 151 L972.2 148.6 L975.5 147.5 L978.8 145.3 L982.1 142.6 L985.4 136.7 L988.7 132.9 L992 130.1 L995.3 127.2 L998.6 124.1 L1001.9 124.1 L1005.2 128.3 L1008.5 133.2 L1011.8 140.2 L1015.1 148.3 L1018.4 154.5 L1021.7 159.3 L1025 164.4 L1028.3 168.3 L1031.6 169.4 L1034.9 171.3 L1038.2 171.3 L1041.5 172.2 L1044.8 171.7 L1048.1 172.5 L1051.4 171.7" fill="none" stroke="none" stroke-width="0.6" marker-start="url(#mk)" marker-mid="url(#mk)" marker-end="url(#mk)"/>
<path d="M943.4 174.2 L943.4 174.2 L944.5 174.2 L945.6 174.2 L946.7 174.2 L947.8 174.1 L949 174.1 L950.1 174.1 L951.2 174.1 L952.3 174.1 L953.4 174 L954.5 174 L955.6 174 L956.7 174 L957.8 173.9 L958.9 173.9 L960 173.9 L961.1 173.8 L962.2 173.8 L963.3 173.8 L964.5 173.7 L965.6 173.7 L966.7 173.6 L967.8 173.5 L968.9 173.4 L970 173.3 L971.1 173.1 L972.2 172.9 L973.3 172.7 L974.4 172.4 L975.5 172 L976.6 171.5 L977.7 171 L978.8 170.3 L979.9 169.5 L981.1 168.6 L982.2 167.5 L983.3 166.2 L984.4 164.8 L985.5 163.3 L986.6 161.6 L987.7 159.7 L988.8 157.7 L989.9 155.6 L991 153.4 L992.1 151.1 L993.2 148.9 L994.3 146.7 L995.4 144.6 L996.5 142.7 L997.7 141 L998.8 139.5 L999.9 138.3 L1001 137.4 L1002.1 136.8 L1003.2 136.7 L1004.3 136.9 L1005.4 137.4 L1006.5 138.3 L1007.6 139.5 L1008.7 141 L1009.8 142.7 L1010.9 144.6 L1012 146.7 L1013.2 148.8 L1014.3 151 L1015.4 153.2 L1016.5 155.3 L1017.6 157.4 L1018.7 159.3 L1019.8 161.1 L1020.9 162.8 L1022 164.3 L1023.1 165.6 L1024.2 166.8 L1025.3 167.8 L1026.4 168.6 L1027.5 169.4 L1028.6 170 L1029.8 170.5 L1030.9 170.9 L1032 171.2 L1033.1 171.4 L1034.2 171.6 L1035.3 171.8 L1036.4 171.9 L1037.5 172 L1038.6 172 L1039.7 172 L1040.8 172.1 L1041.9 172.1 L1043 172.1 L1044.1 172.1 L1045.3 172 L1046.4 172 L1047.5 172 L1048.6 172 L1049.7 172 L1050.8 171.9 L1051.9 171.9 L1053 171.9 L1053 171.9 Z" fill="url(#gG)" stroke="#2a8a50" stroke-width="0.5"/>
<path d="M908 175 L908 175 L909.1 175 L910.2 175 L911.3 174.9 L912.4 174.9 L913.5 174.9 L914.6 174.9 L915.7 174.8 L916.9 174.8 L918 174.8 L919.1 174.7 L920.2 174.7 L921.3 174.7 L922.4 174.7 L923.5 174.6 L924.6 174.6 L925.7 174.6 L926.8 174.5 L927.9 174.5 L929 174.4 L930.1 174.4 L931.2 174.3 L932.4 174.3 L933.5 174.2 L934.6 174.1 L935.7 174.1 L936.8 174 L937.9 173.9 L939 173.8 L940.1 173.6 L941.2 173.5 L942.3 173.3 L943.4 173.2 L944.5 173 L945.6 172.8 L946.7 172.5 L947.8 172.3 L949 172 L950.1 171.7 L951.2 171.3 L952.3 171 L953.4 170.6 L954.5 170.2 L955.6 169.8 L956.7 169.3 L957.8 168.8 L958.9 168.3 L960 167.8 L961.1 167.3 L962.2 166.7 L963.3 166.2 L964.5 165.6 L965.6 165 L966.7 164.5 L967.8 163.9 L968.9 163.4 L970 162.9 L971.1 162.4 L972.2 161.9 L973.3 161.5 L974.4 161.1 L975.5 160.7 L976.6 160.4 L977.7 160.2 L978.8 160 L979.9 159.8 L981.1 159.7 L982.2 159.7 L983.3 159.7 L984.4 159.8 L985.5 160 L986.6 160.2 L987.7 160.4 L988.8 160.7 L989.9 161.1 L991 161.4 L992.1 161.8 L993.2 162.3 L994.3 162.8 L995.4 163.2 L996.5 163.8 L997.7 164.3 L998.8 164.8 L999.9 165.3 L1001 165.8 L1002.1 166.3 L1003.2 166.8 L1004.3 167.3 L1005.4 167.7 L1006.5 168.2 L1007.6 168.6 L1008.7 169 L1009.8 169.3 L1010.9 169.7 L1012 170 L1013.2 170.3 L1014.3 170.5 L1015.4 170.8 L1016.5 171 L1017.6 171.2 L1018.7 171.3 L1019.8 171.5 L1020.9 171.6 L1022 171.7 L1023.1 171.8 L1024.2 171.9 L1025.3 172 L1026.4 172 L1027.5 172.1 L1028.6 172.1 L1029.8 172.1 L1030.9 172.2 L1032 172.2 L1033.1 172.2 L1034.2 172.2 L1035.3 172.2 L1036.4 172.2 L1037.5 172.2 L1038.6 172.2 L1039.7 172.1 L1040.8 172.1 L1041.9 172.1 L1043 172.1 L1044.1 172.1 L1045.3 172.1 L1046.4 172 L1047.5 172 L1048.6 172 L1049.7 172 L1050.8 171.9 L1051.9 171.9 L1053 171.9 L1053 171.9 Z" fill="url(#gO)" stroke="#e89030" stroke-width="0.5"/>
<path d="M908 175 L908 175 L909.1 175 L910.2 174.9 L911.3 174.9 L912.4 174.9 L913.5 174.8 L914.6 174.8 L915.7 174.8 L916.9 174.7 L918 174.7 L919.1 174.6 L920.2 174.6 L921.3 174.5 L922.4 174.4 L923.5 174.3 L924.6 174.2 L925.7 174.1 L926.8 174 L927.9 173.8 L929 173.7 L930.1 173.5 L931.2 173.3 L932.4 173.1 L933.5 172.8 L934.6 172.5 L935.7 172.2 L936.8 171.9 L937.9 171.5 L939 171.2 L940.1 170.8 L941.2 170.3 L942.3 169.9 L943.4 169.5 L944.5 169 L945.6 168.5 L946.7 168.1 L947.8 167.6 L949 167.2 L950.1 166.8 L951.2 166.4 L952.3 166 L953.4 165.7 L954.5 165.4 L955.6 165.2 L956.7 165 L957.8 164.9 L958.9 164.8 L960 164.8 L961.1 164.8 L962.2 164.9 L963.3 165.1 L964.5 165.3 L965.6 165.5 L966.7 165.8 L967.8 166.1 L968.9 166.5 L970 166.9 L971.1 167.3 L972.2 167.7 L973.3 168.1 L974.4 168.5 L975.5 168.9 L976.6 169.3 L977.7 169.7 L978.8 170 L979.9 170.4 L981.1 170.7 L982.2 171 L983.3 171.3 L984.4 171.5 L985.5 171.8 L986.6 172 L987.7 172.1 L988.8 172.3 L989.9 172.4 L991 172.5 L992.1 172.6 L993.2 172.7 L994.3 172.8 L995.4 172.8 L996.5 172.8 L997.7 172.9 L998.8 172.9 L999.9 172.9 L1001 172.9 L1002.1 172.9 L1003.2 172.9 L1004.3 172.9 L1005.4 172.9 L1006.5 172.9 L1007.6 172.8 L1008.7 172.8 L1009.8 172.8 L1010.9 172.8 L1012 172.8 L1013.2 172.7 L1014.3 172.7 L1015.4 172.7 L1016.5 172.7 L1017.6 172.7 L1018.7 172.6 L1019.8 172.6 L1020.9 172.6 L1022 172.6 L1023.1 172.5 L1024.2 172.5 L1025.3 172.5 L1026.4 172.5 L1027.5 172.4 L1028.6 172.4 L1029.8 172.4 L1030.9 172.4 L1032 172.3 L1033.1 172.3 L1034.2 172.3 L1035.3 172.3 L1035.3 172.3 Z" fill="url(#gR)" stroke="#d8553a" stroke-width="0.5"/>
<path d="M961.1 173.9 L961.1 173.9 L962.2 173.8 L963.3 173.8 L964.5 173.8 L965.6 173.8 L966.7 173.7 L967.8 173.7 L968.9 173.7 L970 173.7 L971.1 173.7 L972.2 173.6 L973.3 173.6 L974.4 173.6 L975.5 173.6 L976.6 173.5 L977.7 173.5 L978.8 173.5 L979.9 173.5 L981.1 173.4 L982.2 173.4 L983.3 173.4 L984.4 173.4 L985.5 173.3 L986.6 173.3 L987.7 173.3 L988.8 173.2 L989.9 173.2 L991 173.2 L992.1 173.1 L993.2 173.1 L994.3 173 L995.4 173 L996.5 172.9 L997.7 172.8 L998.8 172.7 L999.9 172.6 L1001 172.5 L1002.1 172.4 L1003.2 172.3 L1004.3 172.1 L1005.4 171.9 L1006.5 171.7 L1007.6 171.5 L1008.7 171.3 L1009.8 171.1 L1010.9 170.8 L1012 170.5 L1013.2 170.3 L1014.3 170 L1015.4 169.7 L1016.5 169.4 L1017.6 169.2 L1018.7 168.9 L1019.8 168.7 L1020.9 168.5 L1022 168.3 L1023.1 168.1 L1024.2 168 L1025.3 167.9 L1026.4 167.9 L1027.5 167.9 L1028.6 167.9 L1029.8 168 L1030.9 168.1 L1032 168.2 L1033.1 168.4 L1034.2 168.6 L1035.3 168.8 L1036.4 169 L1037.5 169.2 L1038.6 169.4 L1039.7 169.7 L1040.8 169.9 L1041.9 170.1 L1043 170.3 L1044.1 170.5 L1045.3 170.7 L1046.4 170.9 L1047.5 171 L1048.6 171.1 L1049.7 171.3 L1050.8 171.4 L1051.9 171.4 L1053 171.5 L1053 171.9 Z" fill="url(#gB)" stroke="#2a6ab0" stroke-width="0.5"/>
<path d="M908 175 L1053 171.9" stroke="#9c7468" stroke-width="0.8" fill="none" opacity="0.8"/>
<path d="M908 175 L909.1 175 L910.2 174.9 L911.3 174.9 L912.4 174.9 L913.5 174.8 L914.6 174.8 L915.7 174.7 L916.9 174.7 L918 174.6 L919.1 174.6 L920.2 174.5 L921.3 174.5 L922.4 174.4 L923.5 174.3 L924.6 174.2 L925.7 174.1 L926.8 174 L927.9 173.8 L929 173.6 L930.1 173.5 L931.2 173.3 L932.4 173 L933.5 172.8 L934.6 172.5 L935.7 172.2 L936.8 171.8 L937.9 171.4 L939 171 L940.1 170.5 L941.2 170 L942.3 169.5 L943.4 168.9 L944.5 168.3 L945.6 167.6 L946.7 166.9 L947.8 166.1 L949 165.3 L950.1 164.5 L951.2 163.7 L952.3 162.8 L953.4 161.9 L954.5 161 L955.6 160.1 L956.7 159.2 L957.8 158.3 L958.9 157.4 L960 156.5 L961.1 155.7 L962.2 154.9 L963.3 154.1 L964.5 153.3 L965.6 152.6 L966.7 151.9 L967.8 151.2 L968.9 150.6 L970 150 L971.1 149.4 L972.2 148.8 L973.3 148.2 L974.4 147.6 L975.5 146.9 L976.6 146.3 L977.7 145.5 L978.8 144.7 L979.9 143.8 L981.1 142.8 L982.2 141.7 L983.3 140.5 L984.4 139.3 L985.5 137.9 L986.6 136.5 L987.7 135 L988.8 133.5 L989.9 132 L991 130.5 L992.1 129.1 L993.2 127.7 L994.3 126.5 L995.4 125.5 L996.5 124.7 L997.7 124.1 L998.8 123.7 L999.9 123.7 L1001 123.9 L1002.1 124.4 L1003.2 125.3 L1004.3 126.4 L1005.4 127.8 L1006.5 129.5 L1007.6 131.4 L1008.7 133.5 L1009.8 135.7 L1010.9 138.1 L1012 140.6 L1013.2 143.1 L1014.3 145.6 L1015.4 148.1 L1016.5 150.5 L1017.6 152.8 L1018.7 155 L1019.8 157.1 L1020.9 159 L1022 160.8 L1023.1 162.4 L1024.2 163.9 L1025.3 165.2 L1026.4 166.3 L1027.5 167.3 L1028.6 168.2 L1029.8 168.9 L1030.9 169.5 L1032 170.1 L1033.1 170.5 L1034.2 170.8 L1035.3 171.1 L1036.4 171.3 L1037.5 171.5 L1038.6 171.7 L1039.7 171.8 L1040.8 171.8 L1041.9 171.9 L1043 171.9 L1044.1 172 L1045.3 172 L1046.4 172 L1047.5 172 L1048.6 172 L1049.7 171.9 L1050.8 171.9 L1051.9 171.9 L1053 171.9" fill="none" stroke="#d6312b" stroke-width="1.2" stroke-linejoin="round"/>
<rect x="908" y="189.5" width="145" height="71.5" fill="#fcfcfc"/>
<path d="M909.5 256 L912.8 255.7 L916.1 257 L919.4 256.3 L922.7 257.6 L926 256.8 L929.3 255.9 L932.6 256.7 L935.9 256.2 L939.2 255.4 L942.5 255.9 L945.8 253.3 L949.1 252.2 L952.4 246.7 L955.7 240.5 L959 236.4 L962.3 234.4 L965.6 230 L968.9 226.7 L972.2 220 L975.5 214.8 L978.8 208.7 L982.1 204.4 L985.4 198.8 L988.7 195.2 L992 193.3 L995.3 189.8 L998.6 190.6 L1001.9 190.6 L1005.2 192.6 L1008.5 198 L1011.8 202.5 L1015.1 206.5 L1018.4 212.7 L1021.7 217.3 L1025 220.3 L1028.3 225.4 L1031.6 231 L1034.9 236.2 L1038.2 240.8 L1041.5 245.9 L1044.8 248.6 L1048.1 250.9 L1051.4 252" fill="none" stroke="none" stroke-width="0.6" marker-start="url(#mk)" marker-mid="url(#mk)" marker-end="url(#mk)"/>
<path d="M956.7 255.6 L956.7 255.6 L957.8 255.6 L958.9 255.6 L960 255.6 L961.1 255.5 L962.2 255.5 L963.3 255.5 L964.5 255.5 L965.6 255.4 L966.7 255.4 L967.8 255.4 L968.9 255.3 L970 255.3 L971.1 255.3 L972.2 255.2 L973.3 255.2 L974.4 255.1 L975.5 255 L976.6 254.9 L977.7 254.7 L978.8 254.5 L979.9 254.2 L981.1 253.8 L982.2 253.2 L983.3 252.5 L984.4 251.6 L985.5 250.5 L986.6 249.2 L987.7 247.5 L988.8 245.6 L989.9 243.4 L991 241 L992.1 238.3 L993.2 235.4 L994.3 232.3 L995.4 229.3 L996.5 226.4 L997.7 223.6 L998.8 221.2 L999.9 219.1 L1001 217.6 L1002.1 216.7 L1003.2 216.4 L1004.3 216.8 L1005.4 217.7 L1006.5 219.3 L1007.6 221.3 L1008.7 223.8 L1009.8 226.5 L1010.9 229.5 L1012 232.4 L1013.2 235.4 L1014.3 238.2 L1015.4 240.8 L1016.5 243.2 L1017.6 245.3 L1018.7 247.1 L1019.8 248.7 L1020.9 249.9 L1022 251 L1023.1 251.8 L1024.2 252.4 L1025.3 252.9 L1026.4 253.2 L1027.5 253.5 L1028.6 253.6 L1029.8 253.7 L1030.9 253.8 L1032 253.8 L1033.1 253.9 L1034.2 253.9 L1035.3 253.9 L1036.4 253.8 L1037.5 253.8 L1038.6 253.8 L1039.7 253.8 L1040.8 253.8 L1041.9 253.7 L1043 253.7 L1044.1 253.7 L1045.3 253.7 L1046.4 253.6 L1047.5 253.6 L1048.6 253.6 L1049.7 253.6 L1049.7 253.6 Z" fill="url(#gG)" stroke="#2a8a50" stroke-width="0.5"/>
<path d="M908 256.7 L908 256.7 L909.1 256.7 L910.2 256.7 L911.3 256.6 L912.4 256.6 L913.5 256.6 L914.6 256.6 L915.7 256.5 L916.9 256.5 L918 256.5 L919.1 256.5 L920.2 256.4 L921.3 256.4 L922.4 256.4 L923.5 256.4 L924.6 256.3 L925.7 256.3 L926.8 256.3 L927.9 256.2 L929 256.2 L930.1 256.2 L931.2 256.1 L932.4 256.1 L933.5 256.1 L934.6 256 L935.7 256 L936.8 255.9 L937.9 255.8 L939 255.7 L940.1 255.6 L941.2 255.5 L942.3 255.4 L943.4 255.2 L944.5 255 L945.6 254.8 L946.7 254.5 L947.8 254.2 L949 253.8 L950.1 253.4 L951.2 252.9 L952.3 252.3 L953.4 251.7 L954.5 251 L955.6 250.2 L956.7 249.2 L957.8 248.2 L958.9 247.2 L960 246 L961.1 244.7 L962.2 243.3 L963.3 241.9 L964.5 240.4 L965.6 238.8 L966.7 237.2 L967.8 235.6 L968.9 234 L970 232.4 L971.1 230.8 L972.2 229.3 L973.3 227.9 L974.4 226.6 L975.5 225.4 L976.6 224.4 L977.7 223.6 L978.8 222.9 L979.9 222.5 L981.1 222.2 L982.2 222.2 L983.3 222.4 L984.4 222.7 L985.5 223.3 L986.6 224.1 L987.7 225 L988.8 226.1 L989.9 227.3 L991 228.7 L992.1 230.1 L993.2 231.6 L994.3 233.2 L995.4 234.7 L996.5 236.3 L997.7 237.9 L998.8 239.4 L999.9 240.8 L1001 242.2 L1002.1 243.6 L1003.2 244.8 L1004.3 246 L1005.4 247 L1006.5 248 L1007.6 248.9 L1008.7 249.6 L1009.8 250.3 L1010.9 250.9 L1012 251.5 L1013.2 251.9 L1014.3 252.3 L1015.4 252.7 L1016.5 252.9 L1017.6 253.2 L1018.7 253.4 L1019.8 253.5 L1020.9 253.6 L1022 253.7 L1023.1 253.8 L1024.2 253.8 L1025.3 253.9 L1026.4 253.9 L1027.5 253.9 L1028.6 253.9 L1029.8 253.9 L1030.9 253.9 L1032 253.9 L1033.1 253.9 L1034.2 253.9 L1035.3 253.9 L1036.4 253.9 L1037.5 253.8 L1038.6 253.8 L1039.7 253.8 L1040.8 253.8 L1041.9 253.7 L1043 253.7 L1044.1 253.7 L1045.3 253.7 L1046.4 253.6 L1047.5 253.6 L1048.6 253.6 L1049.7 253.6 L1050.8 253.5 L1051.9 253.5 L1053 253.5 L1053 253.5 Z" fill="url(#gO)" stroke="#e89030" stroke-width="0.5"/>
<path d="M960 255.6 L960 255.6 L961.1 255.5 L962.2 255.5 L963.3 255.5 L964.5 255.5 L965.6 255.4 L966.7 255.4 L967.8 255.4 L968.9 255.4 L970 255.3 L971.1 255.3 L972.2 255.3 L973.3 255.3 L974.4 255.2 L975.5 255.2 L976.6 255.2 L977.7 255.2 L978.8 255.1 L979.9 255.1 L981.1 255.1 L982.2 255 L983.3 255 L984.4 254.9 L985.5 254.9 L986.6 254.8 L987.7 254.8 L988.8 254.7 L989.9 254.6 L991 254.5 L992.1 254.3 L993.2 254.2 L994.3 254 L995.4 253.7 L996.5 253.4 L997.7 253.1 L998.8 252.7 L999.9 252.2 L1001 251.7 L1002.1 251.1 L1003.2 250.4 L1004.3 249.6 L1005.4 248.7 L1006.5 247.7 L1007.6 246.7 L1008.7 245.5 L1009.8 244.3 L1010.9 243 L1012 241.7 L1013.2 240.4 L1014.3 239 L1015.4 237.7 L1016.5 236.4 L1017.6 235.1 L1018.7 234 L1019.8 233 L1020.9 232.1 L1022 231.4 L1023.1 230.8 L1024.2 230.5 L1025.3 230.3 L1026.4 230.4 L1027.5 230.6 L1028.6 231 L1029.8 231.7 L1030.9 232.5 L1032 233.4 L1033.1 234.4 L1034.2 235.6 L1035.3 236.8 L1036.4 238.1 L1037.5 239.4 L1038.6 240.7 L1039.7 242 L1040.8 243.2 L1041.9 244.4 L1043 245.5 L1044.1 246.6 L1045.3 247.5 L1046.4 248.4 L1047.5 249.2 L1048.6 249.8 L1049.7 250.4 L1050.8 251 L1051.9 251.4 L1053 251.8 L1053 253.5 Z" fill="url(#gB)" stroke="#2a6ab0" stroke-width="0.5"/>
<path d="M927.9 256.3 L927.9 256.3 L929 256.2 L930.1 256.2 L931.2 256.2 L932.4 256.2 L933.5 256.1 L934.6 256.1 L935.7 256.1 L936.8 256.1 L937.9 256 L939 256 L940.1 255.9 L941.2 255.9 L942.3 255.8 L943.4 255.6 L944.5 255.4 L945.6 255.1 L946.7 254.7 L947.8 254.2 L949 253.6 L950.1 252.8 L951.2 252 L952.3 251.1 L953.4 250.3 L954.5 249.5 L955.6 249 L956.7 248.7 L957.8 248.6 L958.9 248.9 L960 249.4 L961.1 250 L962.2 250.8 L963.3 251.7 L964.5 252.4 L965.6 253.2 L966.7 253.8 L967.8 254.2 L968.9 254.6 L970 254.8 L971.1 255 L972.2 255.1 L973.3 255.2 L974.4 255.2 L975.5 255.2 L976.6 255.2 L977.7 255.2 L978.8 255.1 L979.9 255.1 L981.1 255.1 L982.2 255.1 L983.3 255 L984.4 255 L985.5 255 L986.6 255 L986.6 255 Z" fill="url(#gR)" stroke="#d8553a" stroke-width="0.5"/>
<path d="M908 256.7 L1053 253.5" stroke="#9c7468" stroke-width="0.8" fill="none" opacity="0.8"/>
<path d="M908 256.7 L909.1 256.7 L910.2 256.7 L911.3 256.6 L912.4 256.6 L913.5 256.6 L914.6 256.6 L915.7 256.5 L916.9 256.5 L918 256.5 L919.1 256.5 L920.2 256.4 L921.3 256.4 L922.4 256.4 L923.5 256.4 L924.6 256.3 L925.7 256.3 L926.8 256.3 L927.9 256.3 L929 256.2 L930.1 256.2 L931.2 256.2 L932.4 256.1 L933.5 256.1 L934.6 256.1 L935.7 256 L936.8 256 L937.9 255.9 L939 255.8 L940.1 255.7 L941.2 255.5 L942.3 255.2 L943.4 254.9 L944.5 254.5 L945.6 253.9 L946.7 253.1 L947.8 252.1 L949 250.9 L950.1 249.5 L951.2 248 L952.3 246.2 L953.4 244.4 L954.5 242.6 L955.6 240.9 L956.7 239.3 L957.8 237.8 L958.9 236.6 L960 235.5 L961.1 234.6 L962.2 233.8 L963.3 233 L964.5 232.1 L965.6 231 L966.7 229.8 L967.8 228.4 L968.9 226.8 L970 225 L971.1 223 L972.2 221 L973.3 218.9 L974.4 216.8 L975.5 214.6 L976.6 212.6 L977.7 210.5 L978.8 208.6 L979.9 206.8 L981.1 205 L982.2 203.4 L983.3 201.8 L984.4 200.3 L985.5 198.9 L986.6 197.6 L987.7 196.3 L988.8 195.2 L989.9 194.1 L991 193.1 L992.1 192.2 L993.2 191.5 L994.3 190.8 L995.4 190.3 L996.5 190 L997.7 189.8 L998.8 189.8 L999.9 190 L1001 190.3 L1002.1 190.9 L1003.2 191.7 L1004.3 192.6 L1005.4 193.7 L1006.5 194.9 L1007.6 196.3 L1008.7 197.7 L1009.8 199.2 L1010.9 200.8 L1012 202.4 L1013.2 204.1 L1014.3 205.7 L1015.4 207.3 L1016.5 208.9 L1017.6 210.5 L1018.7 212 L1019.8 213.5 L1020.9 215.1 L1022 216.6 L1023.1 218.2 L1024.2 219.7 L1025.3 221.3 L1026.4 223 L1027.5 224.6 L1028.6 226.4 L1029.8 228.1 L1030.9 229.9 L1032 231.7 L1033.1 233.5 L1034.2 235.3 L1035.3 237 L1036.4 238.7 L1037.5 240.3 L1038.6 241.9 L1039.7 243.3 L1040.8 244.7 L1041.9 245.9 L1043 247.1 L1044.1 248.1 L1045.3 249 L1046.4 249.7 L1047.5 250.4 L1048.6 251 L1049.7 251.5 L1050.8 251.9 L1051.9 252.2 L1053 252.5" fill="none" stroke="#d6312b" stroke-width="1.2" stroke-linejoin="round"/>
<rect x="906" y="263.5" width="148" height="78.5" fill="#fcfcfc"/>
<path d="M907.5 343.8 L910.8 343.5 L914.1 342.7 L917.4 342.6 L920.7 343.1 L924 342.9 L927.3 341.7 L930.6 342.1 L933.9 340.6 L937.2 342.2 L940.5 341.2 L943.8 340.4 L947.1 338.6 L950.4 333.5 L953.7 327.3 L957 318.9 L960.3 312.9 L963.6 314.1 L966.9 309.9 L970.2 303.5 L973.5 293.3 L976.8 286.4 L980.1 279.2 L983.4 273.2 L986.7 269.2 L990 266.7 L993.3 263.9 L996.6 263.8 L999.9 265.8 L1003.2 268.6 L1006.5 274.9 L1009.8 281.8 L1013.1 287.1 L1016.4 291.3 L1019.7 296.1 L1023 299.5 L1026.3 302.8 L1029.6 306.9 L1032.9 311.9 L1036.2 315.7 L1039.5 320.3 L1042.8 323.6 L1046.1 327.1 L1049.4 330.2 L1052.7 332.7" fill="none" stroke="none" stroke-width="0.6" marker-start="url(#mk)" marker-mid="url(#mk)" marker-end="url(#mk)"/>
<path d="M950.2 340.6 L950.2 340.6 L951.3 340.5 L952.4 340.4 L953.5 340.3 L954.6 340.3 L955.7 340.2 L956.8 340.1 L957.9 340 L959 339.9 L960.1 339.9 L961.2 339.8 L962.3 339.7 L963.4 339.6 L964.5 339.5 L965.6 339.5 L966.7 339.4 L967.9 339.3 L969 339.1 L970.1 339 L971.2 338.8 L972.3 338.6 L973.4 338.4 L974.5 338.1 L975.6 337.7 L976.7 337.1 L977.8 336.5 L978.9 335.7 L980 334.7 L981.1 333.5 L982.2 332.1 L983.3 330.3 L984.4 328.3 L985.5 325.9 L986.6 323.2 L987.7 320.2 L988.8 316.8 L989.9 313.2 L991 309.5 L992.1 305.5 L993.3 301.6 L994.4 297.7 L995.5 294 L996.6 290.7 L997.7 287.7 L998.8 285.3 L999.9 283.5 L1001 282.4 L1002.1 282 L1003.2 282.3 L1004.3 283.4 L1005.4 285.2 L1006.5 287.5 L1007.6 290.4 L1008.7 293.7 L1009.8 297.3 L1010.9 301 L1012 304.8 L1013.1 308.5 L1014.2 312.2 L1015.3 315.6 L1016.4 318.7 L1017.6 321.5 L1018.7 324 L1019.8 326.2 L1020.9 328 L1022 329.6 L1023.1 330.8 L1024.2 331.9 L1025.3 332.7 L1026.4 333.3 L1027.5 333.7 L1028.6 334.1 L1029.7 334.3 L1030.8 334.4 L1031.9 334.5 L1033 334.6 L1034.1 334.6 L1035.2 334.6 L1036.3 334.5 L1037.4 334.5 L1038.5 334.4 L1039.6 334.4 L1040.7 334.3 L1041.9 334.2 L1043 334.2 L1044.1 334.1 L1045.2 334 L1046.3 333.9 L1047.4 333.9 L1048.5 333.8 L1049.6 333.7 L1050.7 333.6 L1051.8 333.6 L1052.9 333.5 L1054 333.4 L1054 333.4 Z" fill="url(#gG)" stroke="#2a8a50" stroke-width="0.5"/>
<path d="M921.5 342.5 L921.5 342.5 L922.6 342.5 L923.7 342.4 L924.8 342.3 L925.9 342.2 L927 342.2 L928.1 342.1 L929.2 342 L930.3 341.9 L931.4 341.8 L932.5 341.8 L933.6 341.7 L934.7 341.6 L935.8 341.5 L936.9 341.5 L938 341.4 L939.1 341.3 L940.2 341.2 L941.3 341.1 L942.4 341 L943.6 340.9 L944.7 340.8 L945.8 340.7 L946.9 340.5 L948 340.3 L949.1 340.1 L950.2 339.9 L951.3 339.6 L952.4 339.3 L953.5 338.8 L954.6 338.4 L955.7 337.8 L956.8 337.1 L957.9 336.3 L959 335.3 L960.1 334.2 L961.2 333 L962.3 331.6 L963.4 330 L964.5 328.3 L965.6 326.4 L966.7 324.4 L967.9 322.2 L969 320 L970.1 317.8 L971.2 315.5 L972.3 313.3 L973.4 311.1 L974.5 309.1 L975.6 307.3 L976.7 305.7 L977.8 304.3 L978.9 303.3 L980 302.7 L981.1 302.3 L982.2 302.4 L983.3 302.8 L984.4 303.5 L985.5 304.6 L986.6 305.9 L987.7 307.5 L988.8 309.3 L989.9 311.3 L991 313.4 L992.1 315.5 L993.3 317.6 L994.4 319.7 L995.5 321.7 L996.6 323.6 L997.7 325.4 L998.8 327 L999.9 328.5 L1001 329.8 L1002.1 330.9 L1003.2 331.9 L1004.3 332.8 L1005.4 333.5 L1006.5 334.1 L1007.6 334.5 L1008.7 334.9 L1009.8 335.2 L1010.9 335.4 L1012 335.6 L1013.1 335.7 L1014.2 335.7 L1015.3 335.8 L1016.4 335.8 L1017.6 335.8 L1018.7 335.7 L1019.8 335.7 L1020.9 335.6 L1022 335.6 L1023.1 335.5 L1024.2 335.4 L1025.3 335.4 L1026.4 335.3 L1027.5 335.2 L1028.6 335.1 L1029.7 335.1 L1030.8 335 L1031.9 334.9 L1033 334.8 L1034.1 334.8 L1035.2 334.7 L1036.3 334.6 L1037.4 334.5 L1038.5 334.5 L1039.6 334.4 L1040.7 334.3 L1040.7 334.3 Z" fill="url(#gO)" stroke="#e89030" stroke-width="0.5"/>
<path d="M960.1 339.9 L960.1 339.9 L961.2 339.8 L962.3 339.7 L963.4 339.6 L964.5 339.6 L965.6 339.5 L966.7 339.4 L967.9 339.3 L969 339.3 L970.1 339.2 L971.2 339.1 L972.3 339 L973.4 339 L974.5 338.9 L975.6 338.8 L976.7 338.7 L977.8 338.6 L978.9 338.6 L980 338.5 L981.1 338.4 L982.2 338.3 L983.3 338.2 L984.4 338.1 L985.5 338 L986.6 337.9 L987.7 337.8 L988.8 337.6 L989.9 337.5 L991 337.3 L992.1 337.1 L993.3 336.9 L994.4 336.6 L995.5 336.2 L996.6 335.9 L997.7 335.4 L998.8 334.9 L999.9 334.3 L1001 333.6 L1002.1 332.8 L1003.2 331.9 L1004.3 330.9 L1005.4 329.8 L1006.5 328.6 L1007.6 327.2 L1008.7 325.8 L1009.8 324.2 L1010.9 322.6 L1012 320.9 L1013.1 319.2 L1014.2 317.4 L1015.3 315.6 L1016.4 313.9 L1017.6 312.3 L1018.7 310.7 L1019.8 309.3 L1020.9 308 L1022 307 L1023.1 306.1 L1024.2 305.5 L1025.3 305.1 L1026.4 305 L1027.5 305.2 L1028.6 305.6 L1029.7 306.2 L1030.8 307 L1031.9 308.1 L1033 309.3 L1034.1 310.7 L1035.2 312.1 L1036.3 313.7 L1037.4 315.3 L1038.5 316.9 L1039.6 318.5 L1040.7 320.1 L1041.9 321.6 L1043 323 L1044.1 324.3 L1045.2 325.5 L1046.3 326.7 L1047.4 327.7 L1048.5 328.5 L1049.6 329.3 L1050.7 330 L1051.8 330.5 L1052.9 331 L1054 331.4 L1054 333.4 Z" fill="url(#gB)" stroke="#2a6ab0" stroke-width="0.5"/>
<path d="M930.3 341.9 L930.3 341.9 L931.4 341.8 L932.5 341.8 L933.6 341.7 L934.7 341.6 L935.8 341.5 L936.9 341.5 L938 341.4 L939.1 341.3 L940.2 341.2 L941.3 341 L942.4 340.8 L943.6 340.6 L944.7 340.1 L945.8 339.5 L946.9 338.7 L948 337.5 L949.1 336 L950.2 334.2 L951.3 332.1 L952.4 329.9 L953.5 327.8 L954.6 326 L955.7 324.8 L956.8 324.3 L957.9 324.5 L959 325.5 L960.1 327 L961.2 328.9 L962.3 331 L963.4 332.9 L964.5 334.6 L965.6 336.1 L966.7 337.1 L967.9 337.9 L969 338.4 L970.1 338.7 L971.2 338.8 L972.3 338.9 L973.4 338.9 L974.5 338.8 L975.6 338.8 L976.7 338.7 L977.8 338.6 L978.9 338.6 L980 338.5 L981.1 338.4 L982.2 338.3 L983.3 338.3 L983.3 338.3 Z" fill="url(#gR)" stroke="#d8553a" stroke-width="0.5"/>
<path d="M906 343.6 L1054 333.4" stroke="#9c7468" stroke-width="0.8" fill="none" opacity="0.8"/>
<path d="M906 343.6 L907.1 343.5 L908.2 343.4 L909.3 343.4 L910.4 343.3 L911.5 343.2 L912.6 343.1 L913.7 343.1 L914.8 343 L915.9 342.9 L917 342.8 L918.1 342.8 L919.3 342.7 L920.4 342.6 L921.5 342.5 L922.6 342.5 L923.7 342.4 L924.8 342.3 L925.9 342.2 L927 342.1 L928.1 342.1 L929.2 342 L930.3 341.9 L931.4 341.8 L932.5 341.7 L933.6 341.7 L934.7 341.6 L935.8 341.5 L936.9 341.4 L938 341.2 L939.1 341.1 L940.2 340.9 L941.3 340.7 L942.4 340.5 L943.6 340.2 L944.7 339.7 L945.8 339.1 L946.9 338.3 L948 337.1 L949.1 335.7 L950.2 333.8 L951.3 331.5 L952.4 328.9 L953.5 326.1 L954.6 323.3 L955.7 320.6 L956.8 318.2 L957.9 316.2 L959 314.8 L960.1 313.8 L961.2 313.2 L962.3 312.7 L963.4 312.2 L964.5 311.5 L965.6 310.5 L966.7 309 L967.9 307.2 L969 305.1 L970.1 302.7 L971.2 300.1 L972.3 297.4 L973.4 294.7 L974.5 292 L975.6 289.3 L976.7 286.7 L977.8 284.3 L978.9 281.9 L980 279.7 L981.1 277.6 L982.2 275.7 L983.3 273.8 L984.4 272.1 L985.5 270.6 L986.6 269.2 L987.7 267.9 L988.8 266.7 L989.9 265.7 L991 264.9 L992.1 264.3 L993.3 263.8 L994.4 263.5 L995.5 263.5 L996.6 263.7 L997.7 264.1 L998.8 264.7 L999.9 265.6 L1001 266.7 L1002.1 268.1 L1003.2 269.6 L1004.3 271.3 L1005.4 273.1 L1006.5 275 L1007.6 277 L1008.7 279 L1009.8 281 L1010.9 283 L1012 284.9 L1013.1 286.7 L1014.2 288.5 L1015.3 290.1 L1016.4 291.6 L1017.6 293.1 L1018.7 294.4 L1019.8 295.6 L1020.9 296.8 L1022 298 L1023.1 299.1 L1024.2 300.2 L1025.3 301.4 L1026.4 302.6 L1027.5 303.8 L1028.6 305.1 L1029.7 306.5 L1030.8 307.9 L1031.9 309.4 L1033 310.9 L1034.1 312.5 L1035.2 314.1 L1036.3 315.7 L1037.4 317.2 L1038.5 318.8 L1039.6 320.3 L1040.7 321.7 L1041.9 323.1 L1043 324.4 L1044.1 325.6 L1045.2 326.6 L1046.3 327.6 L1047.4 328.5 L1048.5 329.2 L1049.6 329.9 L1050.7 330.5 L1051.8 331 L1052.9 331.4 L1054 331.7" fill="none" stroke="#d6312b" stroke-width="1.2" stroke-linejoin="round"/>
<path d="M906 345.2 H1054" stroke="#000" stroke-width="2.2"/>
<path d="M915 345.2 v3 M959.8 345.2 v3 M1002 345.2 v3 M1046.8 345.2 v3 M937.4 345.2 v2.4 M980.9 345.2 v2.4 M1024.4 345.2 v2.4 " stroke="#000" stroke-width="1.6"/>
<text x="915" y="362.5" font-size="16" fill="#000" text-anchor="middle" font-weight="bold" >58</text>
<text x="959.8" y="362.5" font-size="16" fill="#000" text-anchor="middle" font-weight="bold" >56</text>
<text x="1002" y="362.5" font-size="16" fill="#000" text-anchor="middle" font-weight="bold" >54</text>
<text x="1046.8" y="362.5" font-size="16" fill="#000" text-anchor="middle" font-weight="bold" >52</text>
<text x="985" y="380" font-size="15.5" fill="#000" text-anchor="middle" font-weight="bold" >Binding energy (eV)</text>
<text x="9.6" y="99.4" font-size="18.5" fill="#000" text-anchor="start" font-weight="bold" >0 s</text>
<text x="0.8" y="166.5" font-size="18.5" fill="#000" text-anchor="start" font-weight="bold" >40 s</text>
<text x="0.8" y="233.6" font-size="18.5" fill="#000" text-anchor="start" font-weight="bold" >80 s</text>
<text x="1.6" y="300.6" font-size="18.5" fill="#000" text-anchor="start" font-weight="bold" >120 s</text>
<text x="59.4" y="99.7" font-size="16.3" fill="#1f9068" text-anchor="start" font-weight="bold" >C-F<tspan dy="3" font-size="68%">3</tspan><tspan dy="-3">&#8203;</tspan></text>
<text x="151" y="105.4" font-size="16.3" fill="#dd6443" text-anchor="start" font-weight="bold" >LiF</text>
<text x="215.4" y="96.6" font-size="16.3" fill="#1f9068" text-anchor="start" font-weight="bold" >C-F<tspan dy="3" font-size="68%">3</tspan><tspan dy="-3">&#8203;</tspan></text>
<text x="300.9" y="101.7" font-size="16.3" fill="#dd6443" text-anchor="start" font-weight="bold" >LiF</text>
<text x="407.2" y="85.5" font-size="15.7" fill="#1f9068" text-anchor="start" font-weight="bold" >LiN<tspan dy="3" font-size="68%">x</tspan><tspan dy="-3">&#8203;</tspan>O<tspan dy="3" font-size="68%">y</tspan><tspan dy="-3">&#8203;</tspan></text>
<text x="512.4" y="91.6" font-size="15.7" fill="#f0a53f" text-anchor="start" font-weight="bold" >Li<tspan dy="3" font-size="68%">3</tspan><tspan dy="-3">&#8203;</tspan>N</text>
<text x="555.9" y="83" font-size="15.7" fill="#1f9068" text-anchor="start" font-weight="bold" >LiN<tspan dy="3" font-size="68%">x</tspan><tspan dy="-3">&#8203;</tspan>O<tspan dy="3" font-size="68%">y</tspan><tspan dy="-3">&#8203;</tspan></text>
<text x="646.2" y="94" font-size="15.7" fill="#f0a53f" text-anchor="start" font-weight="bold" >Li<tspan dy="3" font-size="68%">3</tspan><tspan dy="-3">&#8203;</tspan>N</text>
<text x="767.7" y="103.4" font-size="16.3" fill="#dd6443" text-anchor="start" font-weight="bold" >LiF</text>
<text x="844" y="72.2" font-size="16.3" fill="#f0a53f" text-anchor="start" font-weight="bold" >Li<tspan dy="3" font-size="68%">3</tspan><tspan dy="-3">&#8203;</tspan>N</text>
<text x="851.1" y="95.6" font-size="16.3" fill="#1f9068" text-anchor="start" font-weight="bold" >Li<tspan dy="3" font-size="68%">2</tspan><tspan dy="-3">&#8203;</tspan>CO<tspan dy="3" font-size="68%">3</tspan><tspan dy="-3">&#8203;</tspan></text>
<text x="881.3" y="311.7" font-size="16.3" fill="#2f6db3" text-anchor="start" font-weight="bold" >Li</text>
<text x="927.8" y="102.7" font-size="16.3" fill="#dd6443" text-anchor="start" font-weight="bold" >LiF</text>
<text x="943" y="81.4" font-size="16.3" fill="#f0a53f" text-anchor="start" font-weight="bold" >Li<tspan dy="3" font-size="68%">3</tspan><tspan dy="-3">&#8203;</tspan>N</text>
<text x="989.9" y="69.6" font-size="16.3" fill="#1f9068" text-anchor="start" font-weight="bold" >Li<tspan dy="3" font-size="68%">2</tspan><tspan dy="-3">&#8203;</tspan>CO<tspan dy="3" font-size="68%">3</tspan><tspan dy="-3">&#8203;</tspan></text>
<text x="1031.6" y="95.6" font-size="16.3" fill="#2f6db3" text-anchor="start" font-weight="bold" >Li</text>
<text x="21.4" y="423.4" font-size="25.2" fill="#000" text-anchor="start" font-weight="bold" >d</text>
<text x="158" y="434" font-size="18.8" fill="#000" text-anchor="middle" font-weight="bold" >MMT</text>
<text x="300.9" y="465.3" font-size="19" fill="#000" text-anchor="start" font-weight="bold" >FSI<tspan dy="-8" font-size="75%">-</tspan><tspan dy="8">&#8203;</tspan></text>
<g stroke-linecap="round" fill="none">
<path d="M104 477.5 L113.5 463" stroke="#2b45c8" stroke-width="3.3"/>
<path d="M113.5 463 L120.7 452" stroke="#d62020" stroke-width="3.3"/>
<path d="M104 477.5 L88.2 472.6" stroke="#2b45c8" stroke-width="3.3"/>
<path d="M88.2 472.6 L76.3 468.9" stroke="#d62020" stroke-width="3.3"/>
<path d="M104 477.5 L109.6 472.2" stroke="#2b45c8" stroke-width="3.3"/>
<path d="M109.6 472.2 L113.8 468.2" stroke="#d62020" stroke-width="3.3"/>
<path d="M104 477.5 L113.3 488" stroke="#2b45c8" stroke-width="3.3"/>
<path d="M113.3 488 L120.3 496" stroke="#d62020" stroke-width="3.3"/>
<path d="M104 477.5 L111.3 492.4" stroke="#2b45c8" stroke-width="3.3"/>
<path d="M111.3 492.4 L116.8 503.6" stroke="#d62020" stroke-width="3.3"/>
<path d="M221 477.5 L212.7 463.2" stroke="#2b45c8" stroke-width="3.3"/>
<path d="M212.7 463.2 L206.4 452.5" stroke="#d62020" stroke-width="3.3"/>
<path d="M221 477.5 L238.1 474.4" stroke="#2b45c8" stroke-width="3.3"/>
<path d="M238.1 474.4 L251 472.1" stroke="#d62020" stroke-width="3.3"/>
<path d="M221 477.5 L214.7 492.9" stroke="#2b45c8" stroke-width="3.3"/>
<path d="M214.7 492.9 L210 504.5" stroke="#d62020" stroke-width="3.3"/>
<path d="M122.6 496 L117.6 480.2" stroke="#2b45c8" stroke-width="3.3"/>
<path d="M117.6 480.2 L113.8 468.2" stroke="#d62020" stroke-width="3.3"/>
<path d="M122.6 496 L121.3 496" stroke="#2b45c8" stroke-width="3.3"/>
<path d="M121.3 496 L120.3 496" stroke="#d62020" stroke-width="3.3"/>
<path d="M122.6 496 L119.3 500.3" stroke="#2b45c8" stroke-width="3.3"/>
<path d="M119.3 500.3 L116.8 503.6" stroke="#d62020" stroke-width="3.3"/>
<path d="M122.6 496 L138.7 498.6" stroke="#2b45c8" stroke-width="3.3"/>
<path d="M138.7 498.6 L150.8 500.6" stroke="#d62020" stroke-width="3.3"/>
<path d="M181.6 496 L164 498.6" stroke="#2b45c8" stroke-width="3.3"/>
<path d="M164 498.6 L150.8 500.6" stroke="#d62020" stroke-width="3.3"/>
<path d="M181.6 496 L186.2 496" stroke="#2b45c8" stroke-width="3.3"/>
<path d="M186.2 496 L189.7 496" stroke="#d62020" stroke-width="3.3"/>
<path d="M181.6 496 L197.8 500.8" stroke="#2b45c8" stroke-width="3.3"/>
<path d="M197.8 500.8 L210 504.5" stroke="#d62020" stroke-width="3.3"/>
<path d="M131.9 527.2 L123.3 513.7" stroke="#2b45c8" stroke-width="3.3"/>
<path d="M123.3 513.7 L116.8 503.6" stroke="#d62020" stroke-width="3.3"/>
<path d="M131.9 527.2 L149.1 524.3" stroke="#2b45c8" stroke-width="3.3"/>
<path d="M149.1 524.3 L162 522.1" stroke="#d62020" stroke-width="3.3"/>
<path d="M131.9 527.2 L127.3 543" stroke="#2b45c8" stroke-width="3.3"/>
<path d="M127.3 543 L123.8 555" stroke="#d62020" stroke-width="3.3"/>
<path d="M192 527.2 L190.7 509.4" stroke="#2b45c8" stroke-width="3.3"/>
<path d="M190.7 509.4 L189.7 496" stroke="#d62020" stroke-width="3.3"/>
<path d="M192 527.2 L202.3 514.3" stroke="#2b45c8" stroke-width="3.3"/>
<path d="M202.3 514.3 L210 504.5" stroke="#d62020" stroke-width="3.3"/>
<path d="M192 527.2 L174.9 524.3" stroke="#2b45c8" stroke-width="3.3"/>
<path d="M174.9 524.3 L162 522.1" stroke="#d62020" stroke-width="3.3"/>
<path d="M192 527.2 L197.6 543" stroke="#2b45c8" stroke-width="3.3"/>
<path d="M197.6 543 L201.8 555" stroke="#d62020" stroke-width="3.3"/>
<path d="M192 527.2 L201.2 537.5" stroke="#2b45c8" stroke-width="3.3"/>
<path d="M201.2 537.5 L208.2 545.3" stroke="#d62020" stroke-width="3.3"/>
<path d="M93.7 546.4 L80.9 533.9" stroke="#2b45c8" stroke-width="3.3"/>
<path d="M80.9 533.9 L71.2 524.4" stroke="#d62020" stroke-width="3.3"/>
<path d="M93.7 546.4 L76.3 549.3" stroke="#2b45c8" stroke-width="3.3"/>
<path d="M76.3 549.3 L63.1 551.5" stroke="#d62020" stroke-width="3.3"/>
<path d="M93.7 546.4 L98 545.8" stroke="#2b45c8" stroke-width="3.3"/>
<path d="M98 545.8 L101.3 545.3" stroke="#d62020" stroke-width="3.3"/>
<path d="M93.7 546.4 L110.9 551.3" stroke="#2b45c8" stroke-width="3.3"/>
<path d="M110.9 551.3 L123.8 555" stroke="#d62020" stroke-width="3.3"/>
<path d="M210 547.6 L205.3 551.8" stroke="#2b45c8" stroke-width="3.3"/>
<path d="M205.3 551.8 L201.8 555" stroke="#d62020" stroke-width="3.3"/>
<path d="M210 547.6 L209 546.3" stroke="#2b45c8" stroke-width="3.3"/>
<path d="M209 546.3 L208.2 545.3" stroke="#d62020" stroke-width="3.3"/>
<path d="M210 547.6 L226.1 551.8" stroke="#2b45c8" stroke-width="3.3"/>
<path d="M226.1 551.8 L238.3 555" stroke="#d62020" stroke-width="3.3"/>
<path d="M210 547.6 L199.5 562.1" stroke="#2b45c8" stroke-width="3.3"/>
<path d="M199.5 562.1 L191.6 573" stroke="#d62020" stroke-width="3.3"/>
<path d="M105.2 577.7 L115.8 564.8" stroke="#2b45c8" stroke-width="3.3"/>
<path d="M115.8 564.8 L123.8 555" stroke="#d62020" stroke-width="3.3"/>
<path d="M105.2 577.7 L88.4 576.9" stroke="#2b45c8" stroke-width="3.3"/>
<path d="M88.4 576.9 L75.8 576.3" stroke="#d62020" stroke-width="3.3"/>
<path d="M105.2 577.7 L108.3 594.1" stroke="#2b45c8" stroke-width="3.3"/>
<path d="M108.3 594.1 L110.6 606.4" stroke="#d62020" stroke-width="3.3"/>
<path d="M105.2 577.7 L113.8 587.4" stroke="#2b45c8" stroke-width="3.3"/>
<path d="M113.8 587.4 L120.3 594.8" stroke="#d62020" stroke-width="3.3"/>
<path d="M218.7 579.3 L209.1 565.4" stroke="#2b45c8" stroke-width="3.3"/>
<path d="M209.1 565.4 L201.8 555" stroke="#d62020" stroke-width="3.3"/>
<path d="M218.7 579.3 L229.9 565.4" stroke="#2b45c8" stroke-width="3.3"/>
<path d="M229.9 565.4 L238.3 555" stroke="#d62020" stroke-width="3.3"/>
<path d="M218.7 579.3 L203.3 575.7" stroke="#2b45c8" stroke-width="3.3"/>
<path d="M203.3 575.7 L191.6 573" stroke="#d62020" stroke-width="3.3"/>
<path d="M218.7 579.3 L235.9 578.6" stroke="#2b45c8" stroke-width="3.3"/>
<path d="M235.9 578.6 L248.8 578.1" stroke="#d62020" stroke-width="3.3"/>
<path d="M218.7 579.3 L216 595.1" stroke="#2b45c8" stroke-width="3.3"/>
<path d="M216 595.1 L214 607.1" stroke="#d62020" stroke-width="3.3"/>
<path d="M122.1 600.1 L115.5 603.7" stroke="#2b45c8" stroke-width="3.3"/>
<path d="M115.5 603.7 L110.6 606.4" stroke="#d62020" stroke-width="3.3"/>
<path d="M122.1 600.1 L121.1 597.1" stroke="#2b45c8" stroke-width="3.3"/>
<path d="M121.1 597.1 L120.3 594.8" stroke="#d62020" stroke-width="3.3"/>
<path d="M122.1 600.1 L138.2 601.8" stroke="#2b45c8" stroke-width="3.3"/>
<path d="M138.2 601.8 L150.4 603.1" stroke="#d62020" stroke-width="3.3"/>
<path d="M122.1 600.1 L111.6 612.6" stroke="#2b45c8" stroke-width="3.3"/>
<path d="M111.6 612.6 L103.6 622.1" stroke="#d62020" stroke-width="3.3"/>
<path d="M181 600.1 L187 584.7" stroke="#2b45c8" stroke-width="3.3"/>
<path d="M187 584.7 L191.6 573" stroke="#d62020" stroke-width="3.3"/>
<path d="M181 600.1 L163.6 601.8" stroke="#2b45c8" stroke-width="3.3"/>
<path d="M163.6 601.8 L150.4 603.1" stroke="#d62020" stroke-width="3.3"/>
<path d="M181 600.1 L185 597.5" stroke="#2b45c8" stroke-width="3.3"/>
<path d="M185 597.5 L188.1 595.5" stroke="#d62020" stroke-width="3.3"/>
<path d="M181 600.1 L189.7 613.3" stroke="#2b45c8" stroke-width="3.3"/>
<path d="M189.7 613.3 L196.2 623.3" stroke="#d62020" stroke-width="3.3"/>
<path d="M128.4 474 L124 461.5" stroke="#86a9ba" stroke-width="3.3"/>
<path d="M124 461.5 L120.7 452" stroke="#d62020" stroke-width="3.3"/>
<path d="M128.4 474 L144.9 465.8" stroke="#86a9ba" stroke-width="3.3"/>
<path d="M144.9 465.8 L157.3 459.6" stroke="#d62020" stroke-width="3.3"/>
<path d="M128.4 474 L120.1 470.7" stroke="#86a9ba" stroke-width="3.3"/>
<path d="M120.1 470.7 L113.8 468.2" stroke="#d62020" stroke-width="3.3"/>
<path d="M128.4 474 L123.8 486.5" stroke="#86a9ba" stroke-width="3.3"/>
<path d="M123.8 486.5 L120.3 496" stroke="#d62020" stroke-width="3.3"/>
<path d="M128.4 474 L121.8 490.9" stroke="#86a9ba" stroke-width="3.3"/>
<path d="M121.8 490.9 L116.8 503.6" stroke="#d62020" stroke-width="3.3"/>
<path d="M185.6 474 L197.5 461.7" stroke="#86a9ba" stroke-width="3.3"/>
<path d="M197.5 461.7 L206.4 452.5" stroke="#d62020" stroke-width="3.3"/>
<path d="M185.6 474 L169.5 465.8" stroke="#86a9ba" stroke-width="3.3"/>
<path d="M169.5 465.8 L157.3 459.6" stroke="#d62020" stroke-width="3.3"/>
<path d="M185.6 474 L187.9 486.5" stroke="#86a9ba" stroke-width="3.3"/>
<path d="M187.9 486.5 L189.7 496" stroke="#d62020" stroke-width="3.3"/>
<path d="M94.4 515.2 L80.8 507.3" stroke="#86a9ba" stroke-width="3.3"/>
<path d="M80.8 507.3 L70.5 501.3" stroke="#d62020" stroke-width="3.3"/>
<path d="M94.4 515.2 L109.2 504.3" stroke="#86a9ba" stroke-width="3.3"/>
<path d="M109.2 504.3 L120.3 496" stroke="#d62020" stroke-width="3.3"/>
<path d="M94.4 515.2 L107.2 508.6" stroke="#86a9ba" stroke-width="3.3"/>
<path d="M107.2 508.6 L116.8 503.6" stroke="#d62020" stroke-width="3.3"/>
<path d="M94.4 515.2 L81.2 520.4" stroke="#86a9ba" stroke-width="3.3"/>
<path d="M81.2 520.4 L71.2 524.4" stroke="#d62020" stroke-width="3.3"/>
<path d="M94.4 515.2 L98.3 532.4" stroke="#86a9ba" stroke-width="3.3"/>
<path d="M98.3 532.4 L101.3 545.3" stroke="#d62020" stroke-width="3.3"/>
<path d="M218 515.6 L201.9 504.4" stroke="#86a9ba" stroke-width="3.3"/>
<path d="M201.9 504.4 L189.7 496" stroke="#d62020" stroke-width="3.3"/>
<path d="M218 515.6 L213.4 509.3" stroke="#86a9ba" stroke-width="3.3"/>
<path d="M213.4 509.3 L210 504.5" stroke="#d62020" stroke-width="3.3"/>
<path d="M218 515.6 L231.1 510.1" stroke="#86a9ba" stroke-width="3.3"/>
<path d="M231.1 510.1 L241 505.9" stroke="#d62020" stroke-width="3.3"/>
<path d="M218 515.6 L234.9 521.6" stroke="#86a9ba" stroke-width="3.3"/>
<path d="M234.9 521.6 L247.6 526.1" stroke="#d62020" stroke-width="3.3"/>
<path d="M218 515.6 L212.4 532.5" stroke="#86a9ba" stroke-width="3.3"/>
<path d="M212.4 532.5 L208.2 545.3" stroke="#d62020" stroke-width="3.3"/>
<path d="M130 560 L113.6 551.6" stroke="#86a9ba" stroke-width="3.3"/>
<path d="M113.6 551.6 L101.3 545.3" stroke="#d62020" stroke-width="3.3"/>
<path d="M130 560 L126.5 557.1" stroke="#86a9ba" stroke-width="3.3"/>
<path d="M126.5 557.1 L123.8 555" stroke="#d62020" stroke-width="3.3"/>
<path d="M130 560 L144.2 555.6" stroke="#86a9ba" stroke-width="3.3"/>
<path d="M144.2 555.6 L155 552.2" stroke="#d62020" stroke-width="3.3"/>
<path d="M130 560 L145.8 565.7" stroke="#86a9ba" stroke-width="3.3"/>
<path d="M145.8 565.7 L157.8 570" stroke="#d62020" stroke-width="3.3"/>
<path d="M184 560 L167.5 555.6" stroke="#86a9ba" stroke-width="3.3"/>
<path d="M167.5 555.6 L155 552.2" stroke="#d62020" stroke-width="3.3"/>
<path d="M184 560 L194.1 557.1" stroke="#86a9ba" stroke-width="3.3"/>
<path d="M194.1 557.1 L201.8 555" stroke="#d62020" stroke-width="3.3"/>
<path d="M184 560 L197.8 551.6" stroke="#86a9ba" stroke-width="3.3"/>
<path d="M197.8 551.6 L208.2 545.3" stroke="#d62020" stroke-width="3.3"/>
<path d="M184 560 L169.1 565.7" stroke="#86a9ba" stroke-width="3.3"/>
<path d="M169.1 565.7 L157.8 570" stroke="#d62020" stroke-width="3.3"/>
<path d="M184 560 L188.3 567.4" stroke="#86a9ba" stroke-width="3.3"/>
<path d="M188.3 567.4 L191.6 573" stroke="#d62020" stroke-width="3.3"/>
<path d="M92.5 597.1 L83 585.2" stroke="#86a9ba" stroke-width="3.3"/>
<path d="M83 585.2 L75.8 576.3" stroke="#d62020" stroke-width="3.3"/>
<path d="M92.5 597.1 L76.7 601.9" stroke="#86a9ba" stroke-width="3.3"/>
<path d="M76.7 601.9 L64.7 605.5" stroke="#d62020" stroke-width="3.3"/>
<path d="M92.5 597.1 L102.8 602.4" stroke="#86a9ba" stroke-width="3.3"/>
<path d="M102.8 602.4 L110.6 606.4" stroke="#d62020" stroke-width="3.3"/>
<path d="M92.5 597.1 L108.3 595.8" stroke="#86a9ba" stroke-width="3.3"/>
<path d="M108.3 595.8 L120.3 594.8" stroke="#d62020" stroke-width="3.3"/>
<path d="M92.5 597.1 L98.8 611.4" stroke="#86a9ba" stroke-width="3.3"/>
<path d="M98.8 611.4 L103.6 622.1" stroke="#d62020" stroke-width="3.3"/>
<path d="M219.4 598.5 L201.6 596.8" stroke="#86a9ba" stroke-width="3.3"/>
<path d="M201.6 596.8 L188.1 595.5" stroke="#d62020" stroke-width="3.3"/>
<path d="M219.4 598.5 L216.3 603.4" stroke="#86a9ba" stroke-width="3.3"/>
<path d="M216.3 603.4 L214 607.1" stroke="#d62020" stroke-width="3.3"/>
<path d="M219.4 598.5 L232.6 604.7" stroke="#86a9ba" stroke-width="3.3"/>
<path d="M232.6 604.7 L242.5 609.4" stroke="#d62020" stroke-width="3.3"/>
<path d="M219.4 598.5 L206.2 612.6" stroke="#86a9ba" stroke-width="3.3"/>
<path d="M206.2 612.6 L196.2 623.3" stroke="#d62020" stroke-width="3.3"/>
<path d="M122.6 496 L127.9 513.8" stroke="#2b45c8" stroke-width="3.3"/>
<path d="M127.9 513.8 L131.9 527.2" stroke="#d62020" stroke-width="3.3"/>
<path d="M181.6 496 L187.5 513.8" stroke="#2b45c8" stroke-width="3.3"/>
<path d="M187.5 513.8 L192 527.2" stroke="#d62020" stroke-width="3.3"/>
<path d="M104 477.5 L114.6 488" stroke="#2b45c8" stroke-width="3.3"/>
<path d="M114.6 488 L122.6 496" stroke="#d62020" stroke-width="3.3"/>
<path d="M221 477.5 L214.7 492.9" stroke="#2b45c8" stroke-width="3.3"/>
<path d="M214.7 492.9 L210 504.5" stroke="#d62020" stroke-width="3.3"/>
<path d="M131.9 527.2 L127.3 543" stroke="#2b45c8" stroke-width="3.3"/>
<path d="M127.3 543 L123.8 555" stroke="#d62020" stroke-width="3.3"/>
<path d="M192 527.2 L197.6 543" stroke="#2b45c8" stroke-width="3.3"/>
<path d="M197.6 543 L201.8 555" stroke="#d62020" stroke-width="3.3"/>
<path d="M105.2 577.7 L114.8 590.5" stroke="#2b45c8" stroke-width="3.3"/>
<path d="M114.8 590.5 L122.1 600.1" stroke="#d62020" stroke-width="3.3"/>
<path d="M218.7 579.3 L209.1 565.4" stroke="#2b45c8" stroke-width="3.3"/>
<path d="M209.1 565.4 L201.8 555" stroke="#d62020" stroke-width="3.3"/>
<path d="M93.7 546.4 L100.3 564.2" stroke="#2b45c8" stroke-width="3.3"/>
<path d="M100.3 564.2 L105.2 577.7" stroke="#d62020" stroke-width="3.3"/>
<path d="M210 547.6 L215 565.7" stroke="#2b45c8" stroke-width="3.3"/>
<path d="M215 565.7 L218.7 579.3" stroke="#d62020" stroke-width="3.3"/>
<path d="M192 527.2 L202.3 538.8" stroke="#2b45c8" stroke-width="3.3"/>
<path d="M202.3 538.8 L210 547.6" stroke="#d62020" stroke-width="3.3"/>
<path d="M104 477.5 L111.3 492.4" stroke="#2b45c8" stroke-width="3.3"/>
<path d="M111.3 492.4 L116.8 503.6" stroke="#d62020" stroke-width="3.3"/>
<path d="M116.8 503.6 L125.4 517.1" stroke="#2b45c8" stroke-width="3.3"/>
<path d="M125.4 517.1 L131.9 527.2" stroke="#d62020" stroke-width="3.3"/>
<path d="M181 600.1 L187 584.7" stroke="#2b45c8" stroke-width="3.3"/>
<path d="M187 584.7 L191.6 573" stroke="#d62020" stroke-width="3.3"/>
<path d="M191.6 573 L197.4 562.7" stroke="#2b45c8" stroke-width="3.3"/>
<path d="M197.4 562.7 L201.8 555" stroke="#d62020" stroke-width="3.3"/>
<path d="M210 504.5 L199.7 517.4" stroke="#2b45c8" stroke-width="3.3"/>
<path d="M199.7 517.4 L192 527.2" stroke="#d62020" stroke-width="3.3"/>
<path d="M101.3 545.3 L110.1 521.5" stroke="#2b45c8" stroke-width="3.3"/>
<path d="M110.1 521.5 L116.8 503.6" stroke="#d62020" stroke-width="3.3"/>
<path d="M123.8 555 L113.2 567.9" stroke="#2b45c8" stroke-width="3.3"/>
<path d="M113.2 567.9 L105.2 577.7" stroke="#d62020" stroke-width="3.3"/>
<path d="M70.5 501.3 L59.6 500.9" stroke="#d62020" stroke-width="2.8"/>
<path d="M59.6 500.9 L51.3 500.6" stroke="#e8d0d0" stroke-width="2.8"/>
<path d="M71.2 524.4 L60.9 521.4" stroke="#d62020" stroke-width="2.8"/>
<path d="M60.9 521.4 L53.1 519.1" stroke="#e8d0d0" stroke-width="2.8"/>
<path d="M64.7 605.5 L54.8 603.8" stroke="#d62020" stroke-width="2.8"/>
<path d="M54.8 603.8 L47.4 602.5" stroke="#e8d0d0" stroke-width="2.8"/>
<path d="M241 505.9 L249.4 500" stroke="#d62020" stroke-width="2.8"/>
<path d="M249.4 500 L255.7 495.5" stroke="#e8d0d0" stroke-width="2.8"/>
<path d="M247.6 526.1 L254.4 518.8" stroke="#d62020" stroke-width="2.8"/>
<path d="M254.4 518.8 L259.6 513.3" stroke="#e8d0d0" stroke-width="2.8"/>
<path d="M242.5 609.4 L253 607.8" stroke="#d62020" stroke-width="2.8"/>
<path d="M253 607.8 L261 606.6" stroke="#e8d0d0" stroke-width="2.8"/>
</g>
<circle cx="128.4" cy="474" r="10.4" fill="url(#aAl)"/>
<circle cx="185.6" cy="474" r="10.4" fill="url(#aAl)"/>
<circle cx="94.4" cy="515.2" r="10.4" fill="url(#aAl)"/>
<circle cx="218" cy="515.6" r="10.4" fill="url(#aAl)"/>
<circle cx="130" cy="560" r="10.4" fill="url(#aAl)"/>
<circle cx="184" cy="560" r="10.4" fill="url(#aAl)"/>
<circle cx="92.5" cy="597.1" r="10.4" fill="url(#aAl)"/>
<circle cx="219.4" cy="598.5" r="10.4" fill="url(#aAl)"/>
<circle cx="104" cy="477.5" r="8.3" fill="url(#aSi)"/>
<circle cx="221" cy="477.5" r="8.3" fill="url(#aSi)"/>
<circle cx="122.6" cy="496" r="8.3" fill="url(#aSi)"/>
<circle cx="181.6" cy="496" r="8.3" fill="url(#aSi)"/>
<circle cx="131.9" cy="527.2" r="8.3" fill="url(#aSi)"/>
<circle cx="192" cy="527.2" r="8.3" fill="url(#aSi)"/>
<circle cx="93.7" cy="546.4" r="8.3" fill="url(#aSi)"/>
<circle cx="210" cy="547.6" r="8.3" fill="url(#aSi)"/>
<circle cx="105.2" cy="577.7" r="8.3" fill="url(#aSi)"/>
<circle cx="218.7" cy="579.3" r="8.3" fill="url(#aSi)"/>
<circle cx="122.1" cy="600.1" r="8.3" fill="url(#aSi)"/>
<circle cx="181" cy="600.1" r="8.3" fill="url(#aSi)"/>
<circle cx="120.7" cy="452" r="5.2" fill="url(#aO)"/>
<circle cx="206.4" cy="452.5" r="5.2" fill="url(#aO)"/>
<circle cx="157.3" cy="459.6" r="5.2" fill="url(#aO)"/>
<circle cx="76.3" cy="468.9" r="5.2" fill="url(#aO)"/>
<circle cx="251" cy="472.1" r="5.2" fill="url(#aO)"/>
<circle cx="113.8" cy="468.2" r="5.2" fill="url(#aO)"/>
<circle cx="70.5" cy="501.3" r="5.2" fill="url(#aO)"/>
<circle cx="120.3" cy="496" r="5.2" fill="url(#aO)"/>
<circle cx="116.8" cy="503.6" r="5.2" fill="url(#aO)"/>
<circle cx="150.8" cy="500.6" r="5.2" fill="url(#aO)"/>
<circle cx="189.7" cy="496" r="5.2" fill="url(#aO)"/>
<circle cx="210" cy="504.5" r="5.2" fill="url(#aO)"/>
<circle cx="241" cy="505.9" r="5.2" fill="url(#aO)"/>
<circle cx="71.2" cy="524.4" r="5.2" fill="url(#aO)"/>
<circle cx="162" cy="522.1" r="5.2" fill="url(#aO)"/>
<circle cx="247.6" cy="526.1" r="5.2" fill="url(#aO)"/>
<circle cx="63.1" cy="551.5" r="5.2" fill="url(#aO)"/>
<circle cx="101.3" cy="545.3" r="5.2" fill="url(#aO)"/>
<circle cx="123.8" cy="555" r="5.2" fill="url(#aO)"/>
<circle cx="155" cy="552.2" r="5.2" fill="url(#aO)"/>
<circle cx="201.8" cy="555" r="5.2" fill="url(#aO)"/>
<circle cx="208.2" cy="545.3" r="5.2" fill="url(#aO)"/>
<circle cx="238.3" cy="555" r="5.2" fill="url(#aO)"/>
<circle cx="75.8" cy="576.3" r="5.2" fill="url(#aO)"/>
<circle cx="157.8" cy="570" r="5.2" fill="url(#aO)"/>
<circle cx="191.6" cy="573" r="5.2" fill="url(#aO)"/>
<circle cx="248.8" cy="578.1" r="5.2" fill="url(#aO)"/>
<circle cx="64.7" cy="605.5" r="5.2" fill="url(#aO)"/>
<circle cx="110.6" cy="606.4" r="5.2" fill="url(#aO)"/>
<circle cx="120.3" cy="594.8" r="5.2" fill="url(#aO)"/>
<circle cx="150.4" cy="603.1" r="5.2" fill="url(#aO)"/>
<circle cx="188.1" cy="595.5" r="5.2" fill="url(#aO)"/>
<circle cx="214" cy="607.1" r="5.2" fill="url(#aO)"/>
<circle cx="242.5" cy="609.4" r="5.2" fill="url(#aO)"/>
<circle cx="103.6" cy="622.1" r="5.2" fill="url(#aO)"/>
<circle cx="196.2" cy="623.3" r="5.2" fill="url(#aO)"/>
<circle cx="51.3" cy="500.6" r="2.9" fill="url(#aH)" stroke="#b89a9a" stroke-width="0.7"/>
<circle cx="53.1" cy="519.1" r="2.9" fill="url(#aH)" stroke="#b89a9a" stroke-width="0.7"/>
<circle cx="47.4" cy="602.5" r="2.9" fill="url(#aH)" stroke="#b89a9a" stroke-width="0.7"/>
<circle cx="255.7" cy="495.5" r="2.9" fill="url(#aH)" stroke="#b89a9a" stroke-width="0.7"/>
<circle cx="259.6" cy="513.3" r="2.9" fill="url(#aH)" stroke="#b89a9a" stroke-width="0.7"/>
<circle cx="261" cy="606.6" r="2.9" fill="url(#aH)" stroke="#b89a9a" stroke-width="0.7"/>
<g stroke="#7a7a7a" stroke-width="2.7" stroke-dasharray="3.1 2.9" fill="none">
<path d="M258.7 495.5 L289.7 495.2"/>
<path d="M261.6 511.3 Q275 500 290.7 498.2"/>
<path d="M261.6 515.3 L298.6 543.5"/>
<path d="M263 603.6 L300.6 550.5"/>
<path d="M264 605.6 L311.5 588.7"/>
</g>
<g stroke-linecap="round" fill="none">
<circle cx="308.6" cy="493.7" r="4.6" fill="url(#aO)"/>
<circle cx="308.6" cy="493.7" r="4.6" fill="#fff" opacity="0.25"/>
<path d="M315.9 502.2 L303.2 498.2" stroke="#e09020" stroke-width="2.8"/>
<path d="M303.2 498.2 L293.7 495.2" stroke="#d62020" stroke-width="2.8"/>
<path d="M315.9 502.2 L311.7 497.4" stroke="#e09020" stroke-width="2.4"/>
<path d="M311.7 497.4 L308.6 493.7" stroke="#d62020" stroke-width="2.4"/>
<path d="M315.9 502.2 L330.5 494.9" stroke="#e09020" stroke-width="2.8"/>
<path d="M330.5 494.9 L341.5 489.4" stroke="#111" stroke-width="2.8"/>
<path d="M315.9 502.2 L321.1 520.5" stroke="#e09020" stroke-width="2.6"/>
<path d="M321.1 520.5 L325.1 534.3" stroke="#a050d8" stroke-width="2.6"/>
<path d="M322.9 557.1 L324.2 544.1" stroke="#e09020" stroke-width="2.6"/>
<path d="M324.2 544.1 L325.1 534.3" stroke="#a050d8" stroke-width="2.6"/>
<path d="M322.9 557.1 L311.3 551.1" stroke="#e09020" stroke-width="2.8"/>
<path d="M311.3 551.1 L302.6 546.5" stroke="#d62020" stroke-width="2.8"/>
<path d="M322.9 557.1 L318.7 574.5" stroke="#e09020" stroke-width="2.8"/>
<path d="M318.7 574.5 L315.5 587.7" stroke="#d62020" stroke-width="2.8"/>
<path d="M322.9 557.1 L338.4 556.8" stroke="#e09020" stroke-width="2.8"/>
<path d="M338.4 556.8 L350.1 556.5" stroke="#111" stroke-width="2.8"/>
</g>
<circle cx="293.7" cy="495.2" r="5.4" fill="url(#aO)"/>
<circle cx="302.6" cy="546.5" r="5.2" fill="url(#aO)"/>
<circle cx="315.5" cy="587.7" r="5.4" fill="url(#aO)"/>
<circle cx="325.1" cy="534.3" r="4.8" fill="url(#aN)"/>
<circle cx="341.5" cy="489.4" r="5" fill="url(#aF)"/>
<circle cx="350.1" cy="556.5" r="5" fill="url(#aF)"/>
<circle cx="315.9" cy="502.2" r="7.2" fill="url(#aS)"/>
<circle cx="322.9" cy="557.1" r="7.6" fill="url(#aS)"/>
<text x="213.7" y="653.2" font-size="19.2" fill="#000" text-anchor="middle" font-weight="bold" >Adsorption energy: -0.93 eV</text>
<circle cx="40.5" cy="673.3" r="7.6" fill="url(#aSi)" stroke="#101c70" stroke-width="1.3"/>
<text x="52.8" y="678.8" font-size="15.7" fill="#000" text-anchor="start" font-weight="bold" >Si</text>
<circle cx="89.7" cy="673.3" r="7.6" fill="url(#aF)" stroke="#000" stroke-width="1.3"/>
<text x="102.7" y="678.8" font-size="15.7" fill="#000" text-anchor="start" font-weight="bold" >F</text>
<circle cx="140.7" cy="673.3" r="7.8" fill="url(#aAl)" stroke="#3d5866" stroke-width="1.3"/>
<text x="154.8" y="678.8" font-size="15.7" fill="#000" text-anchor="start" font-weight="bold" >Al</text>
<circle cx="191.8" cy="673.3" r="7.6" fill="url(#aO)" stroke="#6a0808" stroke-width="1.3"/>
<text x="204" y="678.8" font-size="15.7" fill="#000" text-anchor="start" font-weight="bold" >O</text>
<circle cx="239.3" cy="673.3" r="7.6" fill="url(#aS)" stroke="#7a4a08" stroke-width="1.3"/>
<text x="254" y="678.8" font-size="15.7" fill="#000" text-anchor="start" font-weight="bold" >S</text>
<circle cx="288.5" cy="673.3" r="5.8" fill="url(#aH)" stroke="#a89090" stroke-width="0.9"/>
<text x="300.8" y="678.8" font-size="15.7" fill="#000" text-anchor="start" font-weight="bold" >H</text>
<circle cx="336" cy="673.3" r="7.2" fill="url(#aN)" stroke="#4a1a78" stroke-width="1.3"/>
<text x="350.1" y="678.8" font-size="15.7" fill="#000" text-anchor="start" font-weight="bold" >N</text>
<text x="377.2" y="423.7" font-size="25.2" fill="#000" text-anchor="start" font-weight="bold" >e</text>
<rect x="412.2" y="431.1" width="59.7" height="62.4" fill="#cfcfcf"/>
<rect x="422.8" y="520.7" width="19.1" height="46.2" fill="#cfcfcf"/>
<path d="M403.3 438.3 L404.4 438.3 L405.9 438.3 L407.5 438.3 L409 438.3 L410.2 438.3 L411.3 438.2 L412.3 438.3 L413.2 438.6 L413.9 439.1 L414.5 439.8 L415 440.8 L415.5 442 L416 443.5 L416.5 445.3 L417.1 447.4 L418 450 L419.3 453.3 L420.8 457.2 L422.4 461.2 L424 465 L425.5 468.5 L427.1 471.9 L428.6 475.1 L430 478 L431.3 480.5 L432.4 482.7 L433.5 484.5 L434.5 486 L435.4 487.1 L436.1 487.9 L436.8 488.3 L437.6 488.5 L438.4 488.4 L439.3 488.1 L440.2 487.4 L441 486.5 L441.8 485.3 L442.5 483.9 L443.2 482.1 L444 480 L444.9 477.4 L445.9 474.3 L447 471.1 L448 468 L449 465.1 L449.9 462.3 L450.9 459.6 L452 457 L453.2 454.6 L454.4 452.4 L455.7 450.4 L457 448.5 L458.2 446.8 L459.5 445.4 L460.8 444.1 L462 443 L463.2 442.1 L464.5 441.4 L465.8 440.8 L467 440.3 L468.1 439.9 L469 439.7 L470.2 439.5 L472 439.4 L474.6 439.3 L477.9 439.3 L481.4 439.3 L485 439.3 L488.8 439.3 L492.9 439.4 L496.8 439.5 L500 439.6 L502.2 439.8 L503.7 440.2 L504.9 440.5 L506 440.6 L506.8 440.5 L507.1 440.3 L507.9 440 L510 439.8 L513.6 439.7 L518.4 439.6 L523.9 439.5 L530 439.4 L537.1 439.3 L545.3 439.3 L553.3 439.3 L560 439.2 L565 439.1 L569 438.9 L572.3 438.8 L575.2 438.9 L577.5 439.2 L579.2 439.7 L580.6 440.3 L582 441 L583.6 441.8 L585.1 442.8 L586.6 443.8 L588 445 L589.3 446.2 L590.6 447.5 L591.8 448.9 L593 450.5 L594.1 452.1 L595.1 453.7 L596.1 455.6 L597 458 L597.8 461 L598.6 464.5 L599.3 468.2 L600 472 L600.7 476.6 L601.3 481.8 L602 486.1 L602.6 488 L603.2 486.7 L603.8 483.1 L604.4 478.4 L605 474 L605.5 469.8 L606 465.3 L606.5 460.9 L607 457 L607.6 453.7 L608.2 450.7 L608.9 448.2 L609.5 446 L610.1 444.3 L610.7 443 L611.3 442 L612 441.2 L612.7 440.6 L613.3 440.2 L614.1 440 L615 439.8 L616.2 439.5 L617.6 439.3 L618.9 439.2 L620 439.2 L620.7 439.5 L621.2 440.1 L621.6 440.6 L622 440.8 L622.3 440.6 L622.4 440.1 L622.9 439.6 L624 439.2 L626.1 438.9 L629 438.7 L632.1 438.6 L635 438.6 L637.7 438.8 L640.4 439.1 L642.9 439.4 L645 439.8 L646.5 440.1 L647.5 440.4 L648.2 440.8 L649 441.5 L649.7 442.3 L650.4 443.2 L650.9 444.7 L651.5 447 L652 450.7 L652.5 455.5 L653 460.5 L653.5 465 L654.1 469.3 L654.8 473.8 L655.5 477.2 L656.1 478.7 L656.6 477.5 L657.1 474.3 L657.5 470.1 L658 466 L658.5 461.8 L658.9 457.1 L659.3 452.6 L659.8 449 L660.3 446.4 L660.7 444.5 L661.2 443.1 L661.8 442 L662.5 441.3 L663.2 441 L664 440.9 L665 440.8 L666.1 440.6 L667.4 440.3 L668.8 440.1 L670 440 L671.2 439.8 L672.4 439.7 L673.4 439.6 L674.3 439.8 L674.9 440.3 L675.3 441.1 L675.6 441.9 L676 442.5 L676.5 442.8 L676.9 442.9 L677.4 443 L678 443.5 L678.6 444.2 L679.4 445.2 L680.1 446.4 L680.7 448.1 L681.2 450.4 L681.7 453.1 L682.1 456.1 L682.5 459 L683 462.2 L683.5 465.8 L684 468.8 L684.4 470.4 L684.8 470 L685.1 468.1 L685.5 465.8 L685.8 464 L686.1 462.8 L686.5 461.7 L686.8 461.1 L687.2 461.1 L687.6 462.1 L688.1 463.8 L688.5 465.9 L689 468 L689.5 470.1 L690 472.4 L690.5 474.7 L691 477 L691.6 479.6 L692.1 482.3 L692.7 484.6 L693.3 485.6 L693.9 484.8 L694.4 482.8 L695 480.3 L695.5 478 L696 476 L696.5 473.9 L697 471.8 L697.5 470 L698.1 468.3 L698.7 466.6 L699.2 465.3 L699.6 464.3" fill="none" stroke="#df5a58" stroke-width="2.5" stroke-linejoin="round"/>
<path d="M403.3 531.9 L404.1 532.3 L405.2 532.8 L406.6 533.4 L408 534 L409.5 534.7 L411.1 535.5 L412.8 536.2 L414.4 536.7 L415.9 536.9 L417.3 536.9 L418.7 536.8 L420 536.8 L421.1 536.9 L422.1 537 L423.1 537.1 L424 537.2 L424.9 537.1 L425.8 537 L426.6 536.9 L427.4 537 L428.1 537.4 L428.8 537.9 L429.4 538.6 L430 539.5 L430.6 540.6 L431.2 542 L431.8 543.4 L432.3 544.5 L432.7 545.5 L433.1 546.3 L433.5 547 L433.9 547.2 L434.3 546.9 L434.6 546.2 L435 545.3 L435.5 544.6 L436.1 544.1 L436.9 543.7 L437.7 543.4 L438.5 543.2 L439.3 543.2 L440.1 543.4 L441 543.6 L442 543.9 L443.1 544.2 L444.4 544.6 L445.7 545 L447 545.3 L448.3 545.6 L449.6 545.8 L450.8 546 L452 546.2 L453 546.3 L453.9 546.4 L454.9 546.5 L456 546.4 L457.4 546.2 L458.9 546 L460.5 545.7 L462 545.3 L463.5 544.9 L464.9 544.3 L466.4 543.8 L468 543.2 L469.7 542.6 L471.4 541.9 L473.2 541.2 L475 540.6 L476.8 540 L478.5 539.5 L480.3 539 L482 538.6 L483.5 538.2 L485 537.8 L486.5 537.5 L488.5 537.2 L490.8 536.9 L493.4 536.7 L496.4 536.5 L500 536.4 L504.4 536.3 L509.5 536.2 L514.8 536.2 L520 536.2 L525.1 536.2 L530.3 536.3 L535.4 536.3 L540 536.3 L544.4 536.3 L548.6 536.2 L552.2 536.1 L555 536 L556.6 535.8 L557.2 535.5 L557.5 535.3 L558 535.2 L558.4 535.4 L558.5 535.7 L559.1 536.1 L561 536.3 L564.8 536.4 L569.9 536.4 L575.4 536.4 L580 536.4 L583.6 536.5 L586.8 536.6 L589.6 536.8 L592 537 L594 537.3 L595.5 537.7 L596.8 538.2 L598 538.7 L599.1 539.3 L600 540 L600.8 540.6 L601.5 541.2 L602.2 541.7 L602.8 542.3 L603.3 542.6 L603.9 542.6 L604.5 542 L605 541 L605.6 540 L606.5 539.2 L607.6 538.8 L608.9 538.7 L610.4 538.6 L612 538.3 L613.8 537.9 L615.8 537.3 L617.9 536.8 L620 536.2 L622 535.6 L624.1 535 L626.1 534.3 L628 533.8 L629.8 533.3 L631.5 532.9 L633 532.5 L634.4 532.4 L635.5 532.5 L636.4 532.7 L637.2 533.1 L638 533.6 L638.8 534.2 L639.6 534.8 L640.3 535.6 L641 536.5 L641.7 537.4 L642.4 538.4 L643.1 539.5 L643.7 541 L644.2 543 L644.7 545.3 L645.1 547.8 L645.5 550 L645.9 552 L646.4 554 L646.8 555.7 L647.3 557 L647.8 557.6 L648.3 557.8 L648.8 557.8 L649.2 558 L649.6 558.4 L649.9 558.7 L650.3 559.4 L650.6 561 L650.9 563.6 L651.3 566.9 L651.6 570.8 L652 575 L652.4 579.9 L652.8 585.5 L653.2 591.1 L653.6 596 L654.1 600.7 L654.6 605.3 L655.2 608.8 L655.7 610.4 L656.2 609.5 L656.7 606.7 L657.2 602.7 L657.6 598 L658 592.2 L658.3 585.2 L658.7 578.1 L659 572 L659.3 567.1 L659.7 562.8 L660 559.1 L660.4 556 L660.8 553.6 L661.2 551.9 L661.6 550.7 L662 549.8 L662.4 549.5 L662.8 549.7 L663.2 550 L663.6 549.9 L663.9 549.3 L664.2 548.4 L664.5 547.4 L664.8 546.6 L665.2 546.1 L665.6 545.7 L666.1 545.3 L666.5 544.8 L666.9 544.2 L667.3 543.5 L667.6 542.8 L668 542.2 L668.4 541.8 L668.8 541.4 L669.2 541.1 L669.6 541 L670.1 541.2 L670.5 541.6 L671 541.9 L671.5 542 L672 541.7 L672.5 541.1 L673 540.4 L673.5 539.8 L674.1 539.3 L674.7 538.8 L675.3 538.4 L676 538.2 L676.7 538.4 L677.5 538.9 L678.2 539.4 L679 539.7 L679.8 539.5 L680.5 539.1 L681.2 538.7 L682 538.6 L682.8 538.9 L683.5 539.6 L684.2 540.2 L685 540.4 L685.8 540.2 L686.5 539.6 L687.2 538.9 L688 538.3 L688.8 537.7 L689.5 537.1 L690.2 536.5 L691 536 L691.8 535.5 L692.6 535 L693.3 534.6 L694 534.4 L694.5 534.4 L695 534.7 L695.4 535.1 L695.8 536 L696.1 537.3 L696.4 538.9 L696.7 540.8 L697 543 L697.3 545.8 L697.6 549.1 L698 552.3 L698.3 554.8 L698.7 556.3 L699 557.1 L699.4 557.6 L699.6 558" fill="none" stroke="#2b8e80" stroke-width="2.5" stroke-linejoin="round"/>
<rect x="402" y="414.8" width="299.20000000000005" height="232.2" fill="none" stroke="#000" stroke-width="2.8"/>
<path d="M486.7 647 v4 M571.9 647 v4 M658.1 647 v4 M444.2 647 v3 M529.3 647 v3 M615 647 v3 M701 647 v3 " stroke="#000" stroke-width="1.8"/>
<text x="401.1" y="663.3" font-size="13.2" fill="#000" text-anchor="middle" font-weight="bold" >4000</text>
<text x="486.7" y="663.3" font-size="13.2" fill="#000" text-anchor="middle" font-weight="bold" >3000</text>
<text x="571.9" y="663.3" font-size="13.2" fill="#000" text-anchor="middle" font-weight="bold" >2000</text>
<text x="658.1" y="663.3" font-size="13.2" fill="#000" text-anchor="middle" font-weight="bold" >1000</text>
<text x="563.8" y="681.7" font-size="15.9" fill="#000" text-anchor="middle" font-weight="bold" >Wavenumber (cm<tspan dy="-6.5" font-size="66%">-1</tspan><tspan dy="6.5">&#8203;</tspan>)</text>
<text x="387.7" y="530.5" font-size="15.3" fill="#000" text-anchor="middle" font-weight="bold" transform="rotate(-90 387.7 530.5)">Intensity (a.u.)</text>
<text x="477.4" y="490.7" font-size="15.2" fill="#e26a68" text-anchor="start" font-weight="bold" >hydrogen bond</text>
<text x="446.3" y="575.2" font-size="14.9" fill="#2f9a8b" text-anchor="start" font-weight="bold" >3600 cm<tspan dy="-6" font-size="68%">-1</tspan><tspan dy="6">&#8203;</tspan>-OH</text>
<path d="M415.4 603 H450" stroke="#df5a58" stroke-width="2.5"/>
<path d="M415.4 625.2 H450" stroke="#2b8e80" stroke-width="2.5"/>
<text x="457.5" y="607.8" font-size="14.3" fill="#000" text-anchor="start" font-weight="bold" >MMT+LiFSI</text>
<text x="457.5" y="630.4" font-size="14.3" fill="#000" text-anchor="start" font-weight="bold" >MMT</text>
<text x="736.3" y="423.7" font-size="25.2" fill="#000" text-anchor="start" font-weight="bold" >f</text>
<path d="M758 423.1 L759.1 423 L760.6 422.8 L762.4 422.7 L764.3 422.5 L766 422.4 L767.5 422.3 L769 422.2 L770.4 422.2 L772 422.1 L773.7 422.2 L775.6 422.3 L777.6 422.5 L779.8 422.7 L781.9 423 L784 423.3 L785.9 423.5 L787.7 423.7 L789.5 424 L791.5 424.6 L794.1 425.9 L797.3 427.8 L800.9 430.2 L804.8 433.1 L808.8 436.3 L812.6 439.8 L816.3 443.6 L820 447.6 L823.7 452 L827.4 456.9 L831.1 462.5 L835 469.3 L839.1 477.3 L843.1 485.5 L846.7 493 L849.6 499 L851.7 503.1 L853.1 506 L854 508.1 L854.9 509.8 L856 511.5 L857.2 513.2 L858.4 514.7 L859.6 516 L860.8 517.1 L862 518 L863.2 518.8 L864.4 519.4 L865.7 519.9 L866.9 520.2 L868.1 520.4 L869.3 520.4 L870.5 520.2 L871.6 519.9 L872.8 519.4 L874 518.8 L875.2 518.1 L876.4 517.3 L877.5 516.3 L878.8 515.2 L880 514 L881.3 512.6 L882.6 510.9 L884 509.1 L885.4 507.3 L886.7 505.5 L888 503.6 L889.3 501.6 L890.5 499.6 L891.8 497.7 L893 496 L894.2 494.5 L895.4 493 L896.5 491.7 L897.7 490.5 L899 489.5 L900.3 488.6 L901.7 487.8 L903.2 487.2 L904.6 486.7 L905.9 486.4 L907.2 486.3 L908.4 486.4 L909.5 486.7 L910.7 487 L912 487.5 L913.3 488.1 L914.7 488.9 L916.1 489.7 L917.6 490.6 L919 491.3 L920.5 492 L922 492.7 L923.5 493.3 L924.9 493.8 L926.3 494.1 L927.5 494.1 L928.7 493.9 L929.8 493.6 L930.9 493.1 L932 492.5 L933.2 491.8 L934.3 490.9 L935.5 489.9 L936.7 488.7 L938 487.5 L939.3 486.2 L940.5 484.8 L941.9 483.2 L943.3 481.5 L944.8 479.6 L946.5 477.4 L948.3 474.8 L950.2 472.2 L952.1 469.5 L954 467 L955.9 464.6 L957.7 462.2 L959.6 459.9 L961.5 457.7 L963.3 455.6 L965.1 453.6 L966.8 451.7 L968.5 449.9 L970.2 448.1 L972 446.5 L973.9 445 L975.9 443.5 L977.9 442.2 L980 440.9 L981.9 439.8 L983.8 438.8 L985.6 437.9 L987.4 437.2 L989.2 436.5 L991 435.8 L992.8 435.2 L994.5 434.7 L996.3 434.2 L998.2 433.8 L1000.4 433.3 L1002.8 432.8 L1005.5 432.4 L1008.3 432 L1011.2 431.6 L1014 431.2 L1016.8 430.9 L1019.7 430.6 L1022.5 430.4 L1025.3 430.2 L1028.1 430 L1030.8 429.8 L1033.4 429.6 L1036 429.4 L1038.5 429.2 L1041 429 L1043.7 428.8 L1046.5 428.7 L1049.2 428.5 L1051.5 428.4 L1053.1 428.3" fill="none" stroke="#e2902c" stroke-width="2.5" stroke-linejoin="round"/>
<path d="M758 539.4 L759.1 539.3 L760.6 539.1 L762.3 539 L764.2 538.8 L766 538.7 L767.7 538.6 L769.5 538.6 L771.3 538.6 L773.1 538.6 L775 538.8 L776.9 539.1 L778.9 539.4 L780.9 539.9 L782.9 540.4 L784.8 541 L786.7 541.7 L788.6 542.5 L790.4 543.4 L792.3 544.4 L794.1 545.5 L795.8 546.6 L797.3 547.6 L798.9 548.8 L800.9 550.6 L803.3 553 L806.4 556.2 L810.1 559.9 L814 564.2 L818 569.1 L821.9 574.5 L825.8 581.1 L829.8 588.7 L833.8 596.7 L837.4 604.1 L840.4 610 L842.6 614.2 L844.3 617.2 L845.5 619.6 L846.7 621.5 L848 623.5 L849.4 625.5 L850.8 627.3 L852.2 628.9 L853.6 630.3 L855 631.5 L856.5 632.5 L858.1 633.3 L859.6 633.8 L861.1 634.2 L862.6 634.4 L863.9 634.4 L865.2 634.2 L866.5 633.8 L867.7 633.3 L869 632.5 L870.4 631.5 L871.8 630.4 L873.2 629 L874.6 627.5 L876 626 L877.4 624.4 L878.8 622.6 L880.2 620.7 L881.6 618.8 L883 617 L884.4 615.2 L885.9 613.4 L887.3 611.6 L888.7 609.9 L890 608.5 L891.1 607.3 L892.1 606.3 L893.1 605.4 L894 604.7 L895 604 L896 603.4 L897 602.8 L897.9 602.3 L898.9 602 L900 601.8 L901.1 601.8 L902.3 601.9 L903.5 602.1 L904.7 602.4 L906 602.8 L907.3 603.3 L908.7 603.9 L910.1 604.6 L911.5 605.2 L913 605.8 L914.5 606.3 L916.1 606.8 L917.7 607.2 L919.2 607.5 L920.7 607.6 L922 607.6 L923.2 607.5 L924.4 607.2 L925.6 606.6 L927 605.5 L928.6 603.8 L930.2 601.6 L932 599 L933.8 596.3 L935.6 593.7 L937.4 591.1 L939.3 588.3 L941.2 585.5 L943.1 582.7 L945 580 L946.8 577.4 L948.7 574.8 L950.5 572.3 L952.3 569.9 L954.1 567.8 L955.9 565.9 L957.6 564.2 L959.4 562.7 L961.2 561.3 L963 560 L964.9 558.8 L966.8 557.7 L968.7 556.7 L970.7 555.7 L972.6 554.8 L974.5 553.9 L976.4 553.1 L978.3 552.4 L980.1 551.7 L982 551 L983.8 550.4 L985.5 549.8 L987.2 549.3 L989 548.8 L991.1 548.3 L993.4 547.8 L995.9 547.4 L998.5 547 L1001.2 546.6 L1004 546.3 L1006.8 546 L1009.7 545.8 L1012.7 545.6 L1015.7 545.4 L1018.9 545.2 L1022.2 545 L1025.6 544.8 L1029.1 544.6 L1032.6 544.5 L1036 544.3 L1039.6 544.2 L1043.3 544 L1046.9 543.9 L1050 543.8 L1052.2 543.7" fill="none" stroke="#2b8e80" stroke-width="2.5" stroke-linejoin="round"/>
<g stroke="#7a7a7a" stroke-width="2" fill="none">
<path d="M868.7 462 V536.5" stroke-dasharray="10.2 5.4"/>
<path d="M926.3 461 V536.5" stroke-dasharray="10.2 5.4"/>
<path d="M861.7 549.5 V645" stroke-dasharray="10 9.2"/>
<path d="M868.7 549.5 V645" stroke-dasharray="10 9.2"/>
<path d="M919.8 549.5 V645" stroke-dasharray="10 9.2"/>
<path d="M926.3 549.5 V645" stroke-dasharray="10 9.2"/>
</g>
<path d="M885.7 546.7 H850.7" stroke="#e0575a" stroke-width="2.4"/>
<path d="M843.7 546.7 l10 -5 v10 z" fill="#e0575a"/>
<path d="M943.3 546.7 H907.7" stroke="#e0575a" stroke-width="2.4"/>
<path d="M900.7 546.7 l10 -5 v10 z" fill="#e0575a"/>
<rect x="756.6" y="415.3" width="298.7" height="231.7" fill="none" stroke="#000" stroke-width="2.8"/>
<path d="M785.7 647 v4 M875.6 647 v4 M965.2 647 v4 M1054.4 647 v4 M830.6 647 v3 M920.4 647 v3 M1009.8 647 v3 " stroke="#000" stroke-width="1.8"/>
<text x="785.7" y="665.9" font-size="15" fill="#000" text-anchor="middle" font-weight="bold" >1410</text>
<text x="875.6" y="665.9" font-size="15" fill="#000" text-anchor="middle" font-weight="bold" >1380</text>
<text x="965.2" y="665.9" font-size="15" fill="#000" text-anchor="middle" font-weight="bold" >1350</text>
<text x="1053" y="665.9" font-size="15" fill="#000" text-anchor="middle" font-weight="bold" >1320</text>
<text x="916.7" y="681.9" font-size="15.9" fill="#000" text-anchor="middle" font-weight="bold" >Wavenumber (cm<tspan dy="-6.5" font-size="66%">-1</tspan><tspan dy="6.5">&#8203;</tspan>)</text>
<text x="738.5" y="530" font-size="15.1" fill="#000" text-anchor="middle" font-weight="bold" transform="rotate(-90 738.5 530)">Absorbance (%)</text>
<text x="770.9" y="451.9" font-size="15" fill="#e2962f" text-anchor="start" font-weight="bold" >Cu</text>
<text x="762.2" y="577" font-size="15.6" fill="#2f9a8b" text-anchor="start" font-weight="bold" >MS-Cu</text>
<text x="944.8" y="503.3" font-size="15.8" fill="#e2962f" text-anchor="start" font-weight="bold" >Less Li<tspan dy="-5" font-size="60%">+</tspan><tspan dy="5">&#8203;</tspan>-FSI<tspan dy="-6.5" font-size="75%">-</tspan><tspan dy="6.5">&#8203;</tspan></text>
<text x="944.8" y="520.4" font-size="15.8" fill="#e2962f" text-anchor="start" font-weight="bold" >More free FSI<tspan dy="-6.5" font-size="75%">-</tspan><tspan dy="6.5">&#8203;</tspan></text>
<text x="948.9" y="619.6" font-size="15.8" fill="#2f9a8b" text-anchor="start" font-weight="bold" >More Li<tspan dy="-5" font-size="60%">+</tspan><tspan dy="5">&#8203;</tspan>-FSI<tspan dy="-6.5" font-size="75%">-</tspan><tspan dy="6.5">&#8203;</tspan></text>
<text x="948.9" y="637.8" font-size="15.8" fill="#2f9a8b" text-anchor="start" font-weight="bold" >Less free FSI<tspan dy="-6.5" font-size="75%">-</tspan><tspan dy="6.5">&#8203;</tspan></text>
<text x="19.8" y="722" font-size="25.2" fill="#000" text-anchor="start" font-weight="bold" >g</text>
<g clip-path="url(#afmClip)">
<rect x="45.6" y="703.8" width="235.8" height="235.8" fill="#b8821e"/>
<rect x="45.6" y="703.8" width="235.8" height="235.8" filter="url(#afmN)"/>
<rect x="45.6" y="703.8" width="235.8" height="235.8" fill="url(#afmV)"/>
<g filter="url(#b6)" opacity="0.6">
<ellipse cx="89.9" cy="834.6" rx="39.9" ry="27.4" fill="#a4661a"/>
<ellipse cx="254.4" cy="839.6" rx="27.4" ry="37.4" fill="#a96c1a"/>
<ellipse cx="199.5" cy="874.5" rx="29.9" ry="19.9" fill="#ad701a"/>
<ellipse cx="144.7" cy="789.7" rx="27.4" ry="17.4" fill="#b0741c"/>
<ellipse cx="77.4" cy="749.9" rx="27.4" ry="19.9" fill="#b2781c"/>
<ellipse cx="189.6" cy="732.4" rx="29.9" ry="15" fill="#b67c1e"/>
<ellipse cx="114.8" cy="914.4" rx="39.9" ry="17.4" fill="#b0761c"/>
<ellipse cx="254.4" cy="739.9" rx="22.4" ry="17.4" fill="#b47a1c"/>
</g>
<g filter="url(#b6)" opacity="0.4">
<ellipse cx="179.6" cy="774.8" rx="49.9" ry="15" fill="#e3b53e"/>
<ellipse cx="102.3" cy="782.3" rx="44.9" ry="12.5" fill="#deae38"/>
<ellipse cx="251.9" cy="779.8" rx="29.9" ry="12.5" fill="#e0b23c"/>
<ellipse cx="202" cy="919.3" rx="64.8" ry="12.5" fill="#e2b640"/>
<ellipse cx="69.9" cy="889.4" rx="24.9" ry="15" fill="#dcae38"/>
<ellipse cx="179.6" cy="829.6" rx="29.9" ry="10" fill="#dcae38"/>
<ellipse cx="64.9" cy="719.9" rx="22.4" ry="12.5" fill="#e0b23c"/>
<ellipse cx="259.3" cy="906.9" rx="22.4" ry="12.5" fill="#e0b640"/>
</g>
<g fill="none" stroke-linecap="round" stroke-linejoin="round" filter="url(#b2)">
<path d="M47.5 804.7 L50.1 803.2 L53.8 801.1 L58.1 798.7 L62.8 796.1 L67.7 793.4 L72.4 791 L77.1 788.7 L82.1 786.3 L87.2 784 L92.3 781.7 L97.4 779.5 L102.3 777.3 L107 775.1 L111.5 773 L116 770.8 L120.5 768.8 L125 767 L129.7 765.3 L134.9 763.8 L140.6 762.4 L146.4 761.2 L151.8 760.1 L156.4 759.2 L159.6 758.6" stroke="#f4d668" stroke-width="5.120000000000001" opacity="0.3825"/>
<path d="M122.3 767.3 L124.1 766.7 L126.7 766 L129.7 765 L133.1 764.1 L136.4 763.1 L139.7 762.3 L142.9 761.7 L146.2 761.2 L149.5 760.7 L152.9 760.1 L156.3 759.5 L159.6 758.6 L163 757.4 L166.3 755.9 L169.6 754.3 L172.9 752.6 L176.3 751.1 L179.6 749.9 L183.1 748.8 L187 747.9 L190.8 747.1 L194.4 746.4 L197.4 745.8 L199.5 745.4" stroke="#fbe9a0" stroke-width="4.800000000000001" opacity="0.405"/>
<path d="M154.7 747.4 L156.8 747.1 L159.6 746.8 L163.1 746.4 L166.8 746 L170.8 745.6 L174.6 745.4 L178.8 745.2 L183.5 745.1 L188.3 745 L192.9 744.9 L196.8 744.9 L199.5 744.9" stroke="#fff3c4" stroke-width="5.44" opacity="0.405"/>
<path d="M199.5 745.4 L201.7 746 L204.9 746.9 L208.6 747.9 L212.4 749.2 L216.2 750.6 L219.5 752.3 L222.4 754.3 L225.2 756.6 L228 759.2 L230.4 761.8 L232.6 764.6 L234.4 767.3 L235.7 770.1 L236.6 773 L237.1 776 L237.5 779 L237.8 782 L238.2 784.7 L238.5 787.6 L238.8 790.5 L239 793.3 L239.2 795.9 L239.3 798.1 L239.4 799.7" stroke="#f4d668" stroke-width="4.16" opacity="0.36000000000000004"/>
<path d="M234.4 767.3 L236.5 767.8 L239.4 768.4 L242.8 769.1 L246.6 770 L250.5 771 L254.4 772.3 L258.5 773.9 L263.2 776 L268.1 778.2 L272.6 780.4 L276.5 782.2 L279.3 783.5" stroke="#f4d668" stroke-width="3.84" opacity="0.3375"/>
<path d="M214.5 777.3 L215.6 776.7 L217.1 776 L218.8 775.1 L220.8 774.1 L222.7 773.2 L224.4 772.3 L226.1 771.6 L227.8 771.1 L229.4 770.6 L231.1 769.9 L232.8 768.9 L234.4 767.3 L236.1 765.1 L237.8 762.2 L239.6 759 L241.2 755.8 L242.9 752.6 L244.4 749.9 L245.9 747.3 L247.3 744.9 L248.7 742.5 L250 740.4 L251.1 738.7 L251.9 737.4" stroke="#f0cc58" stroke-width="3.5200000000000005" opacity="0.315"/>
<path d="M169.6 803.4 L170.7 803.9 L172.1 804.6 L173.9 805.4 L175.8 806.2 L177.7 807 L179.6 807.7 L181.5 808.2 L183.6 808.7 L185.8 809.2 L187.8 809.6 L189.6 809.9 L190.8 810.2" stroke="#f6dc78" stroke-width="4.16" opacity="0.36000000000000004"/>
<path d="M187.1 833.3 L188.7 832.8 L190.8 831.9 L193.4 830.9 L196.3 829.9 L199.2 829 L202 828.4 L204.9 827.8 L208.1 827.3 L211.3 826.9 L214.4 826.7 L217.2 826.7 L219.5 827.1 L221.1 828 L222.4 829.4 L223.3 831 L224 832.7 L224.8 834.4 L225.7 835.8 L226.8 837.1 L228 838.3 L229.2 839.5 L230.3 840.6 L231.2 841.4 L231.9 842.1" stroke="#f2d060" stroke-width="3.84" opacity="0.36000000000000004"/>
<path d="M220.7 832.1 L221.3 832.5 L222.1 833.1 L223.1 833.7 L224.1 834.4 L225 835.1 L225.7 835.8 L226.2 836.6 L226.6 837.4 L226.9 838.2 L227.1 839 L227.3 839.6 L227.4 840.1" stroke="#fff0b8" stroke-width="5.44" opacity="0.4275"/>
<path d="M144.7 839.6 L145.3 840.4 L146.3 841.5 L147.3 842.9 L148.4 844.3 L149.2 845.7 L149.7 847.1 L149.7 848.4 L149.3 849.8 L148.7 851.3 L148.1 852.6 L147.5 853.7 L147.2 854.5" stroke="#f0cc58" stroke-width="3.5200000000000005" opacity="0.315"/>
<path d="M122.3 859.5 L122.3 861.2 L122.3 863.6 L122.3 866.5 L122.4 869.4 L122.5 872.2 L122.8 874.5 L123.1 876.3 L123.5 877.9 L124 879.4 L124.6 880.7 L125.2 882 L126 883.2 L126.9 884.5 L128.1 885.7 L129.3 886.9 L130.5 887.9 L131.5 888.8 L132.2 889.4" stroke="#f2d468" stroke-width="3.84" opacity="0.36000000000000004"/>
<path d="M169.6 920.6 L172.4 920.2 L176.3 919.7 L180.8 919 L185.7 918.4 L190.4 917.8 L194.5 917.3 L198.1 917.1 L201.4 917.1 L204.5 917.1 L207.6 917 L210.9 916.8 L214.5 916.4 L218.3 915.6 L222.4 914.6 L226.6 913.4 L230.9 912.1 L235.2 910.8 L239.4 909.4 L243.8 907.8 L248.6 905.9 L253.4 904 L257.9 902.1 L261.6 900.5 L264.3 899.4" stroke="#f8e08a" stroke-width="5.120000000000001" opacity="0.3825"/>
<path d="M47.5 711.2 L48.6 710.8 L50.1 710.2 L51.8 709.5 L53.8 708.7 L55.7 708 L57.4 707.5 L59.2 707 L61.1 706.6 L63.1 706.2 L64.8 705.9 L66.3 705.7 L67.4 705.5" stroke="#f8e290" stroke-width="4.800000000000001" opacity="0.3825"/>
<path d="M55 729.9 L56.5 729.3 L58.6 728.3 L61.2 727.3 L64 726.2 L67 725.4 L69.9 724.9 L73 724.8 L76.4 724.8 L79.9 725.1 L83.4 725.6 L86.8 726.3 L89.9 727.4 L92.8 729.1 L95.8 731.3 L98.6 733.8 L101.1 736.3 L103.2 738.4 L104.8 739.9" stroke="#f0cc58" stroke-width="3.5200000000000005" opacity="0.29250000000000004"/>
<path d="M104.8 739.9 L105.9 741 L107.3 742.6 L109 744.6 L110.9 746.5 L112.9 748.4 L114.8 749.9 L116.8 750.9 L119.1 751.7 L121.5 752.3 L123.7 753 L125.7 753.7 L127.2 754.8 L128.3 756.4 L128.9 758.3 L129.3 760.4 L129.5 762.4 L129.6 764.1 L129.7 765.3" stroke="#f0cc58" stroke-width="3.2" opacity="0.27"/>
<path d="M114.8 744.9 L115.6 744.4 L116.7 743.6 L118 742.7 L119.5 741.9 L120.9 741.3 L122.3 741.1 L123.6 741.4 L125.1 742 L126.6 742.8 L128 743.8 L129.1 745 L129.7 746.1 L129.9 747.5 L129.5 749.1 L129 750.8 L128.3 752.4 L127.6 753.8 L127.2 754.8" stroke="#eec858" stroke-width="2.8800000000000003" opacity="0.27"/>
<path d="M47.5 864.5 L49.9 863.8 L53.1 862.8 L57 861.7 L61.2 860.6 L65.6 859.8 L69.9 859.5 L74.2 859.7 L78.8 860.3 L83.5 861.1 L88.2 862.1 L92.8 863.3 L97.3 864.5 L101.9 866 L106.7 867.8 L111.5 869.8 L115.9 871.7 L119.6 873.3 L122.3 874.5" stroke="#eec858" stroke-width="3.5200000000000005" opacity="0.27"/>
<path d="M50 924.3 L52 923.7 L54.8 922.7 L58.1 921.5 L61.8 920.4 L65.8 919.7 L69.9 919.3 L74.2 919.5 L78.8 920.1 L83.6 920.9 L88.7 921.9 L94.1 923.1 L99.8 924.3 L106.4 925.8 L113.9 927.7 L121.6 929.6 L129 931.5 L135.2 933.2 L139.7 934.3" stroke="#f2d468" stroke-width="4.16" opacity="0.315"/>
<path d="M50 896.9 L52.6 897.3 L56.2 897.8 L60.6 898.5 L65.3 899 L70.2 899.4 L74.9 899.4 L79.7 899.1 L84.8 898.5 L90.1 897.8 L95.3 896.8 L100.3 895.7 L104.8 894.4 L109.1 892.8 L113.3 890.7 L117.3 888.5 L120.8 886.3 L123.8 884.5 L126 883.2" stroke="#eec858" stroke-width="3.2" opacity="0.24750000000000003"/>
<path d="M259.3 849.6 L260.4 851.9 L261.9 855.3 L263.7 859.2 L265.6 863.2 L267.5 866.8 L269.3 869.5 L271.1 871.2 L273 872.4 L274.9 873.2 L276.7 873.7 L278.2 874.1 L279.3 874.5" stroke="#eec858" stroke-width="3.2" opacity="0.27"/>
<path d="M147.2 889.4 L149.8 888.9 L153.5 888.3 L157.8 887.6 L162.2 886.7 L166.3 885.6 L169.6 884.4 L172.2 883.2 L174.4 881.9 L176.3 880.4 L177.8 878.7 L178.9 876.8 L179.6 874.5 L179.6 871.5 L178.8 867.8 L177.7 863.9 L176.4 860.1 L175.3 856.8 L174.6 854.5" stroke="#eac050" stroke-width="3.2" opacity="0.24750000000000003"/>
<path d="M229.4 710 L231 711.2 L233.1 713.1 L235.7 715.3 L238.5 717.4 L241.4 719 L244.4 719.9 L247.5 719.8 L250.8 718.8 L254.4 717.4 L257.9 716.1 L261.2 715.1 L264.3 715 L267.3 715.9 L270.2 717.5 L273.1 719.6 L275.6 721.8 L277.7 723.7 L279.3 724.9" stroke="#f0cc58" stroke-width="3.5200000000000005" opacity="0.29250000000000004"/>
<path d="M179.6 710 L180.7 711 L182.4 712.5 L184.3 714.2 L186.2 716.1 L188.1 718 L189.6 719.9 L190.7 722 L191.8 724.4 L192.7 726.8 L193.4 729.1 L194.1 731 L194.5 732.4" stroke="#eec858" stroke-width="3.2" opacity="0.24750000000000003"/>
<path d="M264.3 924.3 L265.5 923.4 L267.1 922 L268.9 920.4 L270.9 918.9 L272.7 917.6 L274.3 916.8 L275.6 916.7 L276.9 917 L278 917.6 L279.1 918.3 L279.9 919 L280.5 919.3" stroke="#fbe9a0" stroke-width="4.800000000000001" opacity="0.3825"/>
<path d="M251.9 807.2 L253.2 808.3 L255 810 L257.2 812 L259.5 814 L262 815.8 L264.3 817.1 L266.8 818 L269.7 818.6 L272.6 819 L275.3 819.3 L277.6 819.5 L279.3 819.6" stroke="#eac050" stroke-width="3.2" opacity="0.225"/>
</g>
<g fill="none" stroke-linecap="round" stroke-linejoin="round" filter="url(#b1)">
<path d="M47.5 804.7 L50.1 803.2 L53.8 801.1 L58.1 798.7 L62.8 796.1 L67.7 793.4 L72.4 791 L77.1 788.7 L82.1 786.3 L87.2 784 L92.3 781.7 L97.4 779.5 L102.3 777.3 L107 775.1 L111.5 773 L116 770.8 L120.5 768.8 L125 767 L129.7 765.3 L134.9 763.8 L140.6 762.4 L146.4 761.2 L151.8 760.1 L156.4 759.2 L159.6 758.6" stroke="#f4d668" stroke-width="1.6" opacity="0.68"/>
<path d="M122.3 767.3 L124.1 766.7 L126.7 766 L129.7 765 L133.1 764.1 L136.4 763.1 L139.7 762.3 L142.9 761.7 L146.2 761.2 L149.5 760.7 L152.9 760.1 L156.3 759.5 L159.6 758.6 L163 757.4 L166.3 755.9 L169.6 754.3 L172.9 752.6 L176.3 751.1 L179.6 749.9 L183.1 748.8 L187 747.9 L190.8 747.1 L194.4 746.4 L197.4 745.8 L199.5 745.4" stroke="#fbe9a0" stroke-width="1.5" opacity="0.7200000000000001"/>
<path d="M154.7 747.4 L156.8 747.1 L159.6 746.8 L163.1 746.4 L166.8 746 L170.8 745.6 L174.6 745.4 L178.8 745.2 L183.5 745.1 L188.3 745 L192.9 744.9 L196.8 744.9 L199.5 744.9" stroke="#fff3c4" stroke-width="1.7" opacity="0.7200000000000001"/>
<path d="M199.5 745.4 L201.7 746 L204.9 746.9 L208.6 747.9 L212.4 749.2 L216.2 750.6 L219.5 752.3 L222.4 754.3 L225.2 756.6 L228 759.2 L230.4 761.8 L232.6 764.6 L234.4 767.3 L235.7 770.1 L236.6 773 L237.1 776 L237.5 779 L237.8 782 L238.2 784.7 L238.5 787.6 L238.8 790.5 L239 793.3 L239.2 795.9 L239.3 798.1 L239.4 799.7" stroke="#f4d668" stroke-width="1.3" opacity="0.6400000000000001"/>
<path d="M234.4 767.3 L236.5 767.8 L239.4 768.4 L242.8 769.1 L246.6 770 L250.5 771 L254.4 772.3 L258.5 773.9 L263.2 776 L268.1 778.2 L272.6 780.4 L276.5 782.2 L279.3 783.5" stroke="#f4d668" stroke-width="1.2" opacity="0.6000000000000001"/>
<path d="M214.5 777.3 L215.6 776.7 L217.1 776 L218.8 775.1 L220.8 774.1 L222.7 773.2 L224.4 772.3 L226.1 771.6 L227.8 771.1 L229.4 770.6 L231.1 769.9 L232.8 768.9 L234.4 767.3 L236.1 765.1 L237.8 762.2 L239.6 759 L241.2 755.8 L242.9 752.6 L244.4 749.9 L245.9 747.3 L247.3 744.9 L248.7 742.5 L250 740.4 L251.1 738.7 L251.9 737.4" stroke="#f0cc58" stroke-width="1.1" opacity="0.5599999999999999"/>
<path d="M169.6 803.4 L170.7 803.9 L172.1 804.6 L173.9 805.4 L175.8 806.2 L177.7 807 L179.6 807.7 L181.5 808.2 L183.6 808.7 L185.8 809.2 L187.8 809.6 L189.6 809.9 L190.8 810.2" stroke="#f6dc78" stroke-width="1.3" opacity="0.6400000000000001"/>
<path d="M187.1 833.3 L188.7 832.8 L190.8 831.9 L193.4 830.9 L196.3 829.9 L199.2 829 L202 828.4 L204.9 827.8 L208.1 827.3 L211.3 826.9 L214.4 826.7 L217.2 826.7 L219.5 827.1 L221.1 828 L222.4 829.4 L223.3 831 L224 832.7 L224.8 834.4 L225.7 835.8 L226.8 837.1 L228 838.3 L229.2 839.5 L230.3 840.6 L231.2 841.4 L231.9 842.1" stroke="#f2d060" stroke-width="1.2" opacity="0.6400000000000001"/>
<path d="M220.7 832.1 L221.3 832.5 L222.1 833.1 L223.1 833.7 L224.1 834.4 L225 835.1 L225.7 835.8 L226.2 836.6 L226.6 837.4 L226.9 838.2 L227.1 839 L227.3 839.6 L227.4 840.1" stroke="#fff0b8" stroke-width="1.7" opacity="0.76"/>
<path d="M144.7 839.6 L145.3 840.4 L146.3 841.5 L147.3 842.9 L148.4 844.3 L149.2 845.7 L149.7 847.1 L149.7 848.4 L149.3 849.8 L148.7 851.3 L148.1 852.6 L147.5 853.7 L147.2 854.5" stroke="#f0cc58" stroke-width="1.1" opacity="0.5599999999999999"/>
<path d="M122.3 859.5 L122.3 861.2 L122.3 863.6 L122.3 866.5 L122.4 869.4 L122.5 872.2 L122.8 874.5 L123.1 876.3 L123.5 877.9 L124 879.4 L124.6 880.7 L125.2 882 L126 883.2 L126.9 884.5 L128.1 885.7 L129.3 886.9 L130.5 887.9 L131.5 888.8 L132.2 889.4" stroke="#f2d468" stroke-width="1.2" opacity="0.6400000000000001"/>
<path d="M169.6 920.6 L172.4 920.2 L176.3 919.7 L180.8 919 L185.7 918.4 L190.4 917.8 L194.5 917.3 L198.1 917.1 L201.4 917.1 L204.5 917.1 L207.6 917 L210.9 916.8 L214.5 916.4 L218.3 915.6 L222.4 914.6 L226.6 913.4 L230.9 912.1 L235.2 910.8 L239.4 909.4 L243.8 907.8 L248.6 905.9 L253.4 904 L257.9 902.1 L261.6 900.5 L264.3 899.4" stroke="#f8e08a" stroke-width="1.6" opacity="0.68"/>
<path d="M47.5 711.2 L48.6 710.8 L50.1 710.2 L51.8 709.5 L53.8 708.7 L55.7 708 L57.4 707.5 L59.2 707 L61.1 706.6 L63.1 706.2 L64.8 705.9 L66.3 705.7 L67.4 705.5" stroke="#f8e290" stroke-width="1.5" opacity="0.68"/>
<path d="M55 729.9 L56.5 729.3 L58.6 728.3 L61.2 727.3 L64 726.2 L67 725.4 L69.9 724.9 L73 724.8 L76.4 724.8 L79.9 725.1 L83.4 725.6 L86.8 726.3 L89.9 727.4 L92.8 729.1 L95.8 731.3 L98.6 733.8 L101.1 736.3 L103.2 738.4 L104.8 739.9" stroke="#f0cc58" stroke-width="1.1" opacity="0.52"/>
<path d="M104.8 739.9 L105.9 741 L107.3 742.6 L109 744.6 L110.9 746.5 L112.9 748.4 L114.8 749.9 L116.8 750.9 L119.1 751.7 L121.5 752.3 L123.7 753 L125.7 753.7 L127.2 754.8 L128.3 756.4 L128.9 758.3 L129.3 760.4 L129.5 762.4 L129.6 764.1 L129.7 765.3" stroke="#f0cc58" stroke-width="1.0" opacity="0.48"/>
<path d="M114.8 744.9 L115.6 744.4 L116.7 743.6 L118 742.7 L119.5 741.9 L120.9 741.3 L122.3 741.1 L123.6 741.4 L125.1 742 L126.6 742.8 L128 743.8 L129.1 745 L129.7 746.1 L129.9 747.5 L129.5 749.1 L129 750.8 L128.3 752.4 L127.6 753.8 L127.2 754.8" stroke="#eec858" stroke-width="0.9" opacity="0.48"/>
<path d="M47.5 864.5 L49.9 863.8 L53.1 862.8 L57 861.7 L61.2 860.6 L65.6 859.8 L69.9 859.5 L74.2 859.7 L78.8 860.3 L83.5 861.1 L88.2 862.1 L92.8 863.3 L97.3 864.5 L101.9 866 L106.7 867.8 L111.5 869.8 L115.9 871.7 L119.6 873.3 L122.3 874.5" stroke="#eec858" stroke-width="1.1" opacity="0.48"/>
<path d="M50 924.3 L52 923.7 L54.8 922.7 L58.1 921.5 L61.8 920.4 L65.8 919.7 L69.9 919.3 L74.2 919.5 L78.8 920.1 L83.6 920.9 L88.7 921.9 L94.1 923.1 L99.8 924.3 L106.4 925.8 L113.9 927.7 L121.6 929.6 L129 931.5 L135.2 933.2 L139.7 934.3" stroke="#f2d468" stroke-width="1.3" opacity="0.5599999999999999"/>
<path d="M50 896.9 L52.6 897.3 L56.2 897.8 L60.6 898.5 L65.3 899 L70.2 899.4 L74.9 899.4 L79.7 899.1 L84.8 898.5 L90.1 897.8 L95.3 896.8 L100.3 895.7 L104.8 894.4 L109.1 892.8 L113.3 890.7 L117.3 888.5 L120.8 886.3 L123.8 884.5 L126 883.2" stroke="#eec858" stroke-width="1.0" opacity="0.44000000000000006"/>
<path d="M259.3 849.6 L260.4 851.9 L261.9 855.3 L263.7 859.2 L265.6 863.2 L267.5 866.8 L269.3 869.5 L271.1 871.2 L273 872.4 L274.9 873.2 L276.7 873.7 L278.2 874.1 L279.3 874.5" stroke="#eec858" stroke-width="1.0" opacity="0.48"/>
<path d="M147.2 889.4 L149.8 888.9 L153.5 888.3 L157.8 887.6 L162.2 886.7 L166.3 885.6 L169.6 884.4 L172.2 883.2 L174.4 881.9 L176.3 880.4 L177.8 878.7 L178.9 876.8 L179.6 874.5 L179.6 871.5 L178.8 867.8 L177.7 863.9 L176.4 860.1 L175.3 856.8 L174.6 854.5" stroke="#eac050" stroke-width="1.0" opacity="0.44000000000000006"/>
<path d="M229.4 710 L231 711.2 L233.1 713.1 L235.7 715.3 L238.5 717.4 L241.4 719 L244.4 719.9 L247.5 719.8 L250.8 718.8 L254.4 717.4 L257.9 716.1 L261.2 715.1 L264.3 715 L267.3 715.9 L270.2 717.5 L273.1 719.6 L275.6 721.8 L277.7 723.7 L279.3 724.9" stroke="#f0cc58" stroke-width="1.1" opacity="0.52"/>
<path d="M179.6 710 L180.7 711 L182.4 712.5 L184.3 714.2 L186.2 716.1 L188.1 718 L189.6 719.9 L190.7 722 L191.8 724.4 L192.7 726.8 L193.4 729.1 L194.1 731 L194.5 732.4" stroke="#eec858" stroke-width="1.0" opacity="0.44000000000000006"/>
<path d="M264.3 924.3 L265.5 923.4 L267.1 922 L268.9 920.4 L270.9 918.9 L272.7 917.6 L274.3 916.8 L275.6 916.7 L276.9 917 L278 917.6 L279.1 918.3 L279.9 919 L280.5 919.3" stroke="#fbe9a0" stroke-width="1.5" opacity="0.68"/>
<path d="M251.9 807.2 L253.2 808.3 L255 810 L257.2 812 L259.5 814 L262 815.8 L264.3 817.1 L266.8 818 L269.7 818.6 L272.6 819 L275.3 819.3 L277.6 819.5 L279.3 819.6" stroke="#eac050" stroke-width="1.0" opacity="0.4"/>
</g>
<rect x="120" y="863.7" width="4.6" height="9" fill="#fffbe6" filter="url(#b05)"/>
</g>
<text x="163" y="735.4" font-size="18.8" fill="#fffdf2" text-anchor="middle" font-weight="bold" >7 GPa</text>
<path d="M223.4 925 H270.9" stroke="#fffdf2" stroke-width="3"/>
<text x="246.4" y="917" font-size="18" fill="#fffdf2" text-anchor="middle" font-weight="bold" >2 µm</text>
<rect x="45.6" y="946.8" width="235.8" height="24" fill="#fbe19a"/>
<text x="163.5" y="965.6" font-size="19.4" fill="#000" text-anchor="middle" font-weight="bold" >MS-Cu Li</text>
<rect x="315.8" y="733.2" width="24.6" height="181.2" fill="url(#cbar)" stroke="#161008" stroke-width="1.2"/>
<text x="325.5" y="723.4" font-size="17.5" fill="#000" text-anchor="middle" font-weight="bold" >13.0 GPa</text>
<text x="333.4" y="936.3" font-size="17.5" fill="#000" text-anchor="middle" font-weight="bold" >0.4 GPa</text>
<text x="377.2" y="720.7" font-size="25.2" fill="#000" text-anchor="start" font-weight="bold" >h</text>
<rect x="499.3" y="766.3" width="19.2" height="171" fill="#f9f98e"/>
<path d="M403 917.6 L403.6 918.2 L404.2 917.1 L404.8 918 L405.4 917.4 L406 917.3 L406.6 918.4 L407.2 917.5 L407.8 917.4 L408.4 917.8 L409 918 L409.6 917.4 L410.2 917.7 L410.8 916.9 L411.4 917.2 L412 917.1 L412.6 916.6 L413.2 916.5 L413.8 916.5 L414.4 917.1 L415 917.2 L415.6 917.1 L416.2 917.3 L416.8 916.5 L417.4 917.2 L418 917.3 L418.6 917.5 L419.2 916.7 L419.8 916.9 L420.4 916.1 L421 916.9 L421.6 916 L422.2 916.4 L422.8 917.6 L423.4 916 L424 917.5 L424.6 917.2 L425.2 916.9 L425.8 917.3 L426.4 917.3 L427 917.5 L427.6 916.9 L428.2 916.7 L428.8 916.7 L429.4 916.5 L430 917 L430.6 916.6 L431.2 917.5 L431.8 916 L432.4 916.4 L433 916.5 L433.6 915.9 L434.2 917.9 L434.8 915.7 L435.4 916.8 L436 916.7 L436.6 917.8 L437.2 916 L437.8 917.5 L438.4 916.6 L439 916.9 L439.6 916.6 L440.2 917.3 L440.8 916.4 L441.4 916.9 L442 917.1 L442.6 917.9 L443.2 915.7 L443.8 917.5 L444.4 916.8 L445 915.6 L445.6 915.4 L446.2 914.5 L446.8 915.3 L447.4 914.7 L448 915 L448.6 915.6 L449.2 916.2 L449.8 916.6 L450.4 916.5 L451 918.1 L451.6 916.2 L452.2 915.3 L452.8 917.1 L453.4 916.9 L454 916.9 L454.6 916.2 L455.2 915.9 L455.8 915.9 L456.4 916.3 L457 915.9 L457.6 916.4 L458.2 917.9 L458.8 917.5 L459.4 916.9 L460 918.6 L460.6 917.8 L461.2 917.2 L461.8 916.9 L462.4 917.6 L463 917.1 L463.6 917 L464.2 916.9 L464.8 917.3 L465.4 918.1 L466 917.4 L466.6 916.9 L467.2 918 L467.8 917.7 L468.4 918.1 L469 918.3 L469.6 917.6 L470.2 917.6 L470.8 917.6 L471.4 917.1 L472 918 L472.6 918.3 L473.2 917.7 L473.8 917.5 L474.4 917.5 L475 917.2 L475.6 917 L476.2 915.7 L476.8 910.5 L477.4 906.8 L478 910.1 L478.6 916 L479.2 917.2 L479.8 916.8 L480.4 916.1 L481 917.2 L481.6 917.8 L482.2 916.8 L482.8 916.9 L483.4 916.8 L484 917.4 L484.6 916.5 L485.2 917.5 L485.8 916.8 L486.4 917.4 L487 916.9 L487.6 916.8 L488.2 916.1 L488.8 916.5 L489.4 916.7 L490 917.2 L490.6 917 L491.2 916.5 L491.8 917.1 L492.4 917.4 L493 916.9 L493.6 916.7 L494.2 916.8 L494.8 917.4 L495.4 917.2 L496 916.5 L496.6 917.1 L497.2 916.6 L497.8 916.4 L498.4 917.3 L499 917 L499.6 916.1 L500.2 916.4 L500.8 916.4 L501.4 915.7 L502 915.7 L502.6 915.9 L503.2 914.3 L503.8 914.9 L504.4 914.6 L505 913.7 L505.6 911.9 L506.2 911.6 L506.8 909.6 L507.4 906.7 L508 892.2 L508.6 880.5 L509.2 898.1 L509.8 908.2 L510.4 911.2 L511 911.7 L511.6 913.5 L512.2 914.4 L512.8 914.8 L513.4 916.7 L514 916.1 L514.6 917.5 L515.2 915.7 L515.8 915.9 L516.4 917.8 L517 917.9 L517.6 917.6 L518.2 917.9 L518.8 917.2 L519.4 918 L520 917.9 L520.6 918.5 L521.2 919.1 L521.8 918.8 L522.4 919 L523 918.6 L523.6 918.8 L524.2 919.1 L524.8 918.9 L525.4 919.7 L526 918.7 L526.6 920.1 L527.2 918.7 L527.8 919.7 L528.4 918.8 L529 920 L529.6 919.3 L530.2 919.4 L530.8 919.6 L531.4 918.9 L532 918.7 L532.6 918.2 L533.2 919.9 L533.8 918.9 L534.4 919 L535 919.3 L535.6 920.3 L536.2 918.4 L536.8 919.4 L537.4 919.1 L538 919.6 L538.6 918.4 L539.2 919.1 L539.8 919.8 L540.4 920.1 L541 920.2 L541.6 918.9 L542.2 919.4 L542.8 919.3 L543.4 918.7 L544 918.7 L544.6 919.8 L545.2 919.5 L545.8 919.3 L546.4 920 L547 918.9 L547.6 919.7 L548.2 919.4 L548.8 919.4 L549.4 919.7 L550 919.6 L550.6 919.6 L551.2 919.6 L551.8 920.5 L552.4 919.3 L553 920 L553.6 919.8 L554.2 919.3 L554.8 919.9 L555.4 919.1 L556 920.1 L556.6 919.2 L557.2 919.3 L557.8 919.7 L558.4 920 L559 920 L559.6 920 L560.2 919.5 L560.8 919.1 L561.4 919.9 L562 919.8 L562.6 919.2 L563.2 920.1 L563.8 919.8 L564.4 919.2 L565 919.9 L565.6 919 L566.2 919.3 L566.8 919.9 L567.4 918.9 L568 919.7 L568.6 919.1 L569.2 920.1 L569.8 919.4 L570.4 919.9 L571 919 L571.6 919.6 L572.2 920.3 L572.8 920 L573.4 918.9 L574 920.3 L574.6 920.3 L575.2 919.7 L575.8 920.6 L576.4 919.3 L577 919.8 L577.6 920.4 L578.2 920.5 L578.8 920.5 L579.4 919.4 L580 919 L580.6 920.1 L581.2 919.2 L581.8 919.9 L582.4 919.3 L583 920.5 L583.6 920.4 L584.2 920.3 L584.8 920 L585.4 920 L586 919.9 L586.6 920.2 L587.2 920.2 L587.8 920.3 L588.4 919.8 L589 921 L589.6 920.2 L590.2 920.8 L590.8 920.8 L591.4 919.7 L592 919.3 L592.6 920.7 L593.2 919.9 L593.8 919.6 L594.4 916.1 L595 911.2 L595.6 912 L596.2 917.8 L596.8 919.7 L597.4 920.2 L598 919 L598.6 920.6 L599.2 920.4 L599.8 919.4 L600.4 919.9 L601 920.3 L601.6 920.6 L602.2 920.3 L602.8 921 L603.4 920.3 L604 919.8 L604.6 919.9 L605.2 920.7 L605.8 920 L606.4 920.7 L607 920.8 L607.6 920.6 L608.2 920.8 L608.8 920.2 L609.4 920.3 L610 920.1 L610.6 920 L611.2 919.6 L611.8 920.1 L612.4 919.8 L613 919.7 L613.6 920.5 L614.2 920.6 L614.8 920.2 L615.4 921.1 L616 920.9 L616.6 920.9 L617.2 920.1 L617.8 919.7 L618.4 920.7 L619 920.6 L619.6 920.8 L620.2 920.6 L620.8 921.1 L621.4 920.3 L622 920.8 L622.6 920 L623.2 919.3 L623.8 920.2 L624.4 921.2 L625 919.6 L625.6 921 L626.2 920.1 L626.8 920.3 L627.4 920.5 L628 920.6 L628.6 920 L629.2 920.5 L629.8 920.7 L630.4 920.9 L631 920.1 L631.6 921.3 L632.2 921.4 L632.8 921.7 L633.4 919.8 L634 920.6 L634.6 919.6 L635.2 920.7 L635.8 920.8 L636.4 919.9 L637 919.7 L637.6 920.6 L638.2 920.8 L638.8 920.1 L639.4 920.4 L640 919.2 L640.6 920.2 L641.2 920.6 L641.8 920.6 L642.4 921.3 L643 919.9 L643.6 919.4 L644.2 920.7 L644.8 920.2 L645.4 920.7 L646 920.9 L646.6 920.8 L647.2 921.2 L647.8 921.2 L648.4 919.7 L649 920.5 L649.6 921.5 L650.2 920.3 L650.8 921 L651.4 920.5 L652 920.3 L652.6 921.3 L653.2 921 L653.8 920.4 L654.4 920.9 L655 919.8 L655.6 920.1 L656.2 920.9 L656.8 920.5 L657.4 920 L658 920.7 L658.6 920.7 L659.2 921.1 L659.8 921 L660.4 920.3 L661 920.2 L661.6 920.4 L662.2 920.4 L662.8 921.2 L663.4 921.3 L664 921.2 L664.6 920.7 L665.2 920.4 L665.8 920.9 L666.4 920.3 L667 920.6 L667.6 919.6 L668.2 920.3 L668.8 921.2 L669.4 920 L670 919.7 L670.6 920.4 L671.2 921.3 L671.8 921.2 L672.4 920.3 L673 920.2 L673.6 920.4 L674.2 920 L674.8 920.5 L675.4 920.3 L676 919.7 L676.6 920.2 L677.2 920.3 L677.8 920 L678.4 919.9 L679 920.9 L679.6 921.4 L680.2 920.3 L680.8 920.2 L681.4 920.7 L682 920.3 L682.6 920.1 L683.2 921.2 L683.8 919.9 L684.4 920.1 L685 920.1 L685.6 920 L686.2 920.3 L686.8 920.7 L687.4 921.2 L688 920.8 L688.6 920.5 L689.2 919.8 L689.8 920.4 L690.4 920 L691 920.4 L691.6 921 L692.2 920.6 L692.8 920.4 L693.4 920.1 L694 920.5 L694.6 920.5 L695.2 920 L695.8 920.2 L696.4 920.9 L697 919.6 L697.6 920.3 L698.2 919.9 L698.8 921.3 L699.4 920.8" fill="none" stroke="#2b8a79" stroke-width="3.0" stroke-linejoin="round"/>
<path d="M508.6 768.5 V914" stroke="#2b8a79" stroke-width="2.9" stroke-linecap="round"/>
<path d="M478.3 928.7 V937 M509.3 925 V937 M595.6 929 V937" stroke="#8a8a8a" stroke-width="2.6"/>
<path d="M509.3 925 V937" stroke="#8a6a50" stroke-width="2.6"/>
<rect x="591.5" y="740.4" width="18.5" height="112.8" fill="url(#ibar)"/>
<text x="599.1" y="869.4" font-size="13.4" fill="#000" text-anchor="middle" font-weight="bold" >Intensity</text>
<rect x="632.6" y="709.2" width="65.4" height="207.6" fill="#1f858b"/>
<circle cx="664.6" cy="740" r="30.2" fill="#2c0d0b"/>
<circle cx="664.6" cy="776.1" r="30.2" fill="#2c0d0b"/>
<circle cx="664.6" cy="812.2" r="30.2" fill="#2c0d0b"/>
<circle cx="664.6" cy="848.3" r="30.2" fill="#2c0d0b"/>
<circle cx="664.6" cy="884.4" r="30.2" fill="#2c0d0b"/>
<circle cx="664.6" cy="884.4" r="28.9" fill="url(#ins1)" stroke="#3a0f0d" stroke-opacity="0.27" stroke-width="0.9"/>
<circle cx="664.6" cy="848.3" r="28.9" fill="url(#ins1)" stroke="#3a0f0d" stroke-opacity="0.27" stroke-width="0.9"/>
<circle cx="664.6" cy="812.2" r="28.9" fill="url(#ins1)" stroke="#3a0f0d" stroke-opacity="0.27" stroke-width="0.9"/>
<circle cx="664.6" cy="776.1" r="28.9" fill="url(#ins1)" stroke="#3a0f0d" stroke-opacity="0.27" stroke-width="0.9"/>
<circle cx="664.6" cy="740" r="28.9" fill="url(#ins1)" stroke="#3a0f0d" stroke-opacity="0.27" stroke-width="0.9"/>
<circle cx="664.6" cy="746" r="27" fill="url(#ins1h)"/>
<path d="M638.6 767.1 Q664.6 774.1 690.6 766.1" stroke="#ee7a5c" stroke-width="1.2" fill="none" opacity="0.5"/>
<g filter="url(#b05)">
<ellipse cx="665.9" cy="815.4" rx="2.6" ry="1.4" fill="#ffe2a0"/>
<ellipse cx="656" cy="815.4" rx="2.2" ry="1" fill="#ffb070"/>
<ellipse cx="681" cy="814.5" rx="2" ry="1.5" fill="#ffd090"/>
<ellipse cx="674" cy="815" rx="3.5" ry="0.7" fill="#ff9060"/>
<ellipse cx="668" cy="822.5" rx="1.3" ry="1.8" fill="#ffb070"/>
<ellipse cx="639.5" cy="844" rx="2.6" ry="1.2" fill="#ffe2a0"/>
<ellipse cx="651" cy="844.5" rx="3" ry="0.6" fill="#e87050"/>
<ellipse cx="640.6" cy="755" rx="1" ry="2.2" fill="#ffd090"/>
<ellipse cx="636.5" cy="777" rx="0.9" ry="1.3" fill="#ff9a70"/>
<ellipse cx="645.5" cy="874.5" rx="1.6" ry="1.6" fill="#ffd6a0"/>
<ellipse cx="666" cy="899.5" rx="3.2" ry="1.1" fill="#ffc080"/>
<ellipse cx="654" cy="900" rx="2.6" ry="0.8" fill="#e87050"/>
<ellipse cx="665" cy="781" rx="4" ry="1.6" fill="#e8584a"/>
</g>
<text x="664.6" y="739.8" font-size="13.6" fill="#fff1ea" text-anchor="middle" font-weight="bold" >Li (110)</text>
<rect x="401.3" y="704.9" width="299.4" height="232.8" fill="none" stroke="#000" stroke-width="3"/>
<path d="M433.9 937.7 v-3.6 M500.7 937.7 v-3.6 M567.4 937.7 v-3.6 M634.2 937.7 v-3.6 M467.3 937.7 v-2.6 M534 937.7 v-2.6 M600.8 937.7 v-2.6 M667.6 937.7 v-2.6 " stroke="#000" stroke-width="1.8"/>
<text x="433.9" y="955.8" font-size="15" fill="#000" text-anchor="middle" font-weight="bold" >20</text>
<text x="500.7" y="955.8" font-size="15" fill="#000" text-anchor="middle" font-weight="bold" >40</text>
<text x="567.4" y="955.8" font-size="15" fill="#000" text-anchor="middle" font-weight="bold" >60</text>
<text x="634.2" y="955.8" font-size="15" fill="#000" text-anchor="middle" font-weight="bold" >80</text>
<text x="700.9" y="955.8" font-size="15" fill="#000" text-anchor="middle" font-weight="bold" >100</text>
<text x="545.5" y="973.2" font-size="16" fill="#000" text-anchor="middle" font-weight="bold" >2 theta (degree)</text>
<text x="387.6" y="820" font-size="15.3" fill="#000" text-anchor="middle" font-weight="bold" transform="rotate(-90 387.6 820)">Intensity (a.u.)</text>
<text x="407" y="725" font-size="15.9" fill="#2f9a8b" text-anchor="start" font-weight="bold" >Li after deposition on MS-Li</text>
<text x="407" y="751.5" font-size="15.6" fill="#000" text-anchor="start" font-weight="bold" >1<tspan dy="-5.5" font-size="68%">st</tspan><tspan dy="5.5">&#8203;</tspan> cycle</text>
<text x="481.1" y="751.5" font-size="15.6" fill="#2f9a8b" text-anchor="start" font-weight="bold" >Li (110)</text>
<text x="509.3" y="765" font-size="11.5" fill="#2f9090" text-anchor="middle" font-weight="bold" >#</text>
<text x="477.4" y="902.5" font-size="11.5" fill="#000" text-anchor="middle" font-weight="bold" >#</text>
<text x="595.2" y="906.8" font-size="11.5" fill="#000" text-anchor="middle" font-weight="bold" >#</text>
<text x="740" y="720.9" font-size="25.2" fill="#000" text-anchor="start" font-weight="bold" >i</text>
<rect x="915.2" y="784.8" width="19.6" height="152.5" fill="#f9f592"/>
<path d="M758 922.4 L758.6 922.4 L759.2 923.1 L759.8 921.9 L760.4 922.8 L761 921.9 L761.6 923.3 L762.2 922.9 L762.8 923.3 L763.4 922.5 L764 922.9 L764.6 922.6 L765.2 922.4 L765.8 922.8 L766.4 922.2 L767 922.5 L767.6 922.9 L768.2 922.7 L768.8 922.4 L769.4 923.5 L770 922.6 L770.6 922.3 L771.2 922.6 L771.8 922.3 L772.4 922.3 L773 922.3 L773.6 923.3 L774.2 922.5 L774.8 922.5 L775.4 922.7 L776 923.2 L776.6 922.3 L777.2 922.1 L777.8 923.4 L778.4 921.7 L779 922.1 L779.6 922.5 L780.2 923.2 L780.8 921.8 L781.4 921.2 L782 922.4 L782.6 921.9 L783.2 921.9 L783.8 922.3 L784.4 922.1 L785 922.1 L785.6 921.8 L786.2 922.5 L786.8 922.6 L787.4 921.9 L788 921.7 L788.6 922.1 L789.2 922 L789.8 921.3 L790.4 921.6 L791 922.2 L791.6 921.6 L792.2 921.5 L792.8 921.7 L793.4 921.6 L794 921.6 L794.6 920.7 L795.2 922.2 L795.8 921.6 L796.4 921.1 L797 921.8 L797.6 921.4 L798.2 921.1 L798.8 921.3 L799.4 921.4 L800 920.5 L800.6 921 L801.2 921.6 L801.8 920.5 L802.4 920.8 L803 921.4 L803.6 920.3 L804.2 920.9 L804.8 921.5 L805.4 921.4 L806 921.2 L806.6 920.1 L807.2 921.8 L807.8 921.1 L808.4 921.1 L809 921 L809.6 920 L810.2 920.1 L810.8 920.2 L811.4 921.4 L812 920.3 L812.6 920.5 L813.2 920.5 L813.8 920.8 L814.4 920.7 L815 920.6 L815.6 919.9 L816.2 919.1 L816.8 920.5 L817.4 920.5 L818 920.9 L818.6 920.3 L819.2 920.1 L819.8 920.5 L820.4 919.6 L821 919.8 L821.6 919.8 L822.2 920.3 L822.8 921.1 L823.4 920.5 L824 920.7 L824.6 920.3 L825.2 920.2 L825.8 919.4 L826.4 916.8 L827 909.7 L827.6 905.2 L828.2 907.9 L828.8 915.5 L829.4 919.2 L830 920.4 L830.6 920.7 L831.2 919.9 L831.8 920.5 L832.4 920.9 L833 920 L833.6 920.5 L834.2 920 L834.8 919.4 L835.4 920.1 L836 919.7 L836.6 920.1 L837.2 919.9 L837.8 920.2 L838.4 919.2 L839 920.9 L839.6 920.7 L840.2 919.9 L840.8 919.7 L841.4 920.1 L842 920.4 L842.6 920.3 L843.2 920.3 L843.8 919.3 L844.4 919.5 L845 920.4 L845.6 919.5 L846.2 918.2 L846.8 917.8 L847.4 916.9 L848 916.7 L848.6 917.6 L849.2 917.5 L849.8 918.7 L850.4 919 L851 918.9 L851.6 919.7 L852.2 921.2 L852.8 920 L853.4 919.9 L854 920.9 L854.6 920.5 L855.2 920.5 L855.8 921.1 L856.4 919.7 L857 920.7 L857.6 920 L858.2 919.8 L858.8 919.9 L859.4 920.6 L860 919.7 L860.6 918.6 L861.2 918.5 L861.8 919.3 L862.4 918.8 L863 917.7 L863.6 919.2 L864.2 918.2 L864.8 918.2 L865.4 919.1 L866 920 L866.6 920.7 L867.2 920.8 L867.8 920.4 L868.4 920.5 L869 920.2 L869.6 920.9 L870.2 920.7 L870.8 921.1 L871.4 920.5 L872 920.8 L872.6 920.7 L873.2 920.5 L873.8 920.6 L874.4 920.6 L875 920.6 L875.6 921.4 L876.2 921.2 L876.8 920.6 L877.4 921.4 L878 921.3 L878.6 921.8 L879.2 921.1 L879.8 921.1 L880.4 920.9 L881 921.3 L881.6 921.5 L882.2 921.3 L882.8 921.2 L883.4 921.5 L884 921.3 L884.6 921.4 L885.2 920.9 L885.8 921.4 L886.4 920.9 L887 921 L887.6 921.4 L888.2 922.2 L888.8 921.8 L889.4 921.4 L890 921.3 L890.6 921.8 L891.2 922 L891.8 921.9 L892.4 921.3 L893 921.5 L893.6 921.2 L894.2 921.3 L894.8 921 L895.4 921.3 L896 920.5 L896.6 920.9 L897.2 921.6 L897.8 921 L898.4 921.6 L899 920.9 L899.6 921.2 L900.2 921.6 L900.8 921 L901.4 921.1 L902 922.5 L902.6 921.1 L903.2 921.1 L903.8 921.2 L904.4 921.4 L905 921.4 L905.6 921.8 L906.2 921.7 L906.8 921.2 L907.4 921.2 L908 920.8 L908.6 920.7 L909.2 921.1 L909.8 921.7 L910.4 921.4 L911 921.7 L911.6 921.7 L912.2 921.2 L912.8 922.2 L913.4 921 L914 920.9 L914.6 920.9 L915.2 921.5 L915.8 920.9 L916.4 920.6 L917 920.9 L917.6 921.1 L918.2 920.4 L918.8 920.2 L919.4 920.6 L920 920.3 L920.6 920 L921.2 918.9 L921.8 918.8 L922.4 918.2 L923 916.4 L923.6 916.6 L924.2 914.5 L924.8 908.2 L925.4 891.1 L926 890.2 L926.6 908 L927.2 914.4 L927.8 916.3 L928.4 917.4 L929 917.9 L929.6 918.2 L930.2 918.8 L930.8 919.1 L931.4 919.3 L932 920 L932.6 920 L933.2 920.3 L933.8 920.1 L934.4 920.1 L935 920.4 L935.6 920.3 L936.2 920.8 L936.8 919.7 L937.4 919.9 L938 919.6 L938.6 918.9 L939.2 919.8 L939.8 919.7 L940.4 918.9 L941 920.4 L941.6 920.8 L942.2 920.3 L942.8 921.6 L943.4 921 L944 920.5 L944.6 921.3 L945.2 920.9 L945.8 920.5 L946.4 920.2 L947 921.2 L947.6 920.8 L948.2 921.3 L948.8 921.2 L949.4 920.8 L950 920.8 L950.6 921.8 L951.2 921.8 L951.8 921.3 L952.4 920.9 L953 920.6 L953.6 920.8 L954.2 921.7 L954.8 921.2 L955.4 920.9 L956 920.5 L956.6 921.1 L957.2 920.6 L957.8 921 L958.4 921.3 L959 921.4 L959.6 921 L960.2 920.8 L960.8 921 L961.4 921.7 L962 921.1 L962.6 920.3 L963.2 921.6 L963.8 921 L964.4 922.4 L965 920.7 L965.6 920.8 L966.2 920.8 L966.8 921 L967.4 920.6 L968 920.2 L968.6 920 L969.2 920.8 L969.8 920.6 L970.4 920.6 L971 921.7 L971.6 921.2 L972.2 921.3 L972.8 920.6 L973.4 920.9 L974 920.7 L974.6 920.7 L975.2 921.1 L975.8 921 L976.4 920.9 L977 920.7 L977.6 919.2 L978.2 915.8 L978.8 909.3 L979.4 905.9 L980 911.2 L980.6 918 L981.2 919.9 L981.8 920.4 L982.4 921.1 L983 920.6 L983.6 921.3 L984.2 920.9 L984.8 921 L985.4 921.2 L986 919.8 L986.6 920.6 L987.2 920.1 L987.8 920.5 L988.4 920.6 L989 921.2 L989.6 920.6 L990.2 921.3 L990.8 920.4 L991.4 920.6 L992 920.7 L992.6 921 L993.2 920.6 L993.8 920.3 L994.4 920.5 L995 920 L995.6 921.1 L996.2 920.9 L996.8 920.8 L997.4 920.7 L998 920.3 L998.6 920.4 L999.2 920.9 L999.8 920.2 L1000.4 920.2 L1001 921.2 L1001.6 921.2 L1002.2 920.6 L1002.8 920.7 L1003.4 920.6 L1004 921.1 L1004.6 920.3 L1005.2 920.5 L1005.8 920.7 L1006.4 921.1 L1007 920.4 L1007.6 920.6 L1008.2 920.2 L1008.8 920.2 L1009.4 920.2 L1010 920.5 L1010.6 920.8 L1011.2 920.1 L1011.8 920.2 L1012.4 920.2 L1013 920.6 L1013.6 920.7 L1014.2 919.9 L1014.8 920.5 L1015.4 920 L1016 920.7 L1016.6 920 L1017.2 919.9 L1017.8 920.1 L1018.4 920.3 L1019 919.9 L1019.6 920.4 L1020.2 920.4 L1020.8 920.4 L1021.4 920.4 L1022 920.7 L1022.6 920 L1023.2 920.3 L1023.8 920.3 L1024.4 919.4 L1025 920.5 L1025.6 920 L1026.2 920 L1026.8 920.1 L1027.4 920.3 L1028 920.4 L1028.6 920.5 L1029.2 920 L1029.8 920.5 L1030.4 920.4 L1031 920.1 L1031.6 920.2 L1032.2 920.6 L1032.8 920.4 L1033.4 920.5 L1034 920.2 L1034.6 920.7 L1035.2 921.1 L1035.8 920.4 L1036.4 919.5 L1037 920.9 L1037.6 919.9 L1038.2 919.6 L1038.8 919.2 L1039.4 920.3 L1040 920.6 L1040.6 920.6 L1041.2 920 L1041.8 920.7 L1042.4 920.1 L1043 919.9 L1043.6 920.1 L1044.2 920.2 L1044.8 920.1 L1045.4 920.2 L1046 919.2 L1046.6 920.7 L1047.2 919.8 L1047.8 920.3 L1048.4 919.7 L1049 920.1 L1049.6 920 L1050.2 919.4 L1050.8 920.2 L1051.4 920.3 L1052 919.5 L1052.6 919.1 L1053.2 919.7" fill="none" stroke="#e2922e" stroke-width="3.0" stroke-linejoin="round"/>
<path d="M925.8 787 V917" stroke="#e2922e" stroke-width="2.9" stroke-linecap="round"/>
<path d="M828.3 930.7 V937 M925.7 925.4 V937 M980 929.3 V937" stroke="#8a8a8a" stroke-width="2.6"/>
<rect x="986" y="709.2" width="66.2" height="208" fill="#1f858b"/>
<circle cx="1019.3" cy="740" r="30.2" fill="#2c0d0b"/>
<circle cx="1019.3" cy="776.1" r="30.2" fill="#2c0d0b"/>
<circle cx="1019.3" cy="812.2" r="30.2" fill="#2c0d0b"/>
<circle cx="1019.3" cy="848.3" r="30.2" fill="#2c0d0b"/>
<circle cx="1019.3" cy="884.4" r="30.2" fill="#2c0d0b"/>
<circle cx="1019.3" cy="884.4" r="28.9" fill="url(#ins2)" stroke="#3a0f0d" stroke-opacity="0.27" stroke-width="0.9"/>
<circle cx="1019.3" cy="848.3" r="28.9" fill="url(#ins2)" stroke="#3a0f0d" stroke-opacity="0.27" stroke-width="0.9"/>
<circle cx="1019.3" cy="812.2" r="28.9" fill="url(#ins2)" stroke="#3a0f0d" stroke-opacity="0.27" stroke-width="0.9"/>
<circle cx="1019.3" cy="776.1" r="28.9" fill="url(#ins2)" stroke="#3a0f0d" stroke-opacity="0.27" stroke-width="0.9"/>
<circle cx="1019.3" cy="740" r="28.9" fill="url(#ins2)" stroke="#3a0f0d" stroke-opacity="0.27" stroke-width="0.9"/>
<circle cx="1019.3" cy="746" r="27" fill="url(#ins2h)"/>
<path d="M993.3 767.1 Q1019.3 774.1 1045.3 766.1" stroke="#ee7a5c" stroke-width="1.2" fill="none" opacity="0.5"/>
<g filter="url(#b05)">
<ellipse cx="1004" cy="782" rx="1.4" ry="1.4" fill="#ffd0a0"/>
<ellipse cx="996" cy="813" rx="2.6" ry="0.9" fill="#ff9068"/>
<ellipse cx="1002" cy="816" rx="1.2" ry="1.2" fill="#ffc090"/>
<ellipse cx="1009" cy="809" rx="1" ry="2.2" fill="#ff9a70"/>
<ellipse cx="1013.5" cy="815.5" rx="3.6" ry="0.9" fill="#ffa878"/>
<ellipse cx="1012" cy="812" rx="1.2" ry="3" fill="#ff8a60"/>
<ellipse cx="1020" cy="818" rx="1.2" ry="1.2" fill="#ff9a70"/>
<ellipse cx="1024.5" cy="826.5" rx="1.4" ry="1.4" fill="#ffb080"/>
<ellipse cx="1030" cy="814" rx="0.9" ry="1.6" fill="#f07858"/>
<ellipse cx="1042" cy="809" rx="1" ry="2" fill="#f07858"/>
<ellipse cx="993" cy="808" rx="0.8" ry="0.8" fill="#ff9a70"/>
<ellipse cx="1017" cy="806" rx="0.8" ry="0.8" fill="#ff9a70"/>
<ellipse cx="1006" cy="822" rx="0.8" ry="0.8" fill="#ff9a70"/>
<ellipse cx="995" cy="842.6" rx="2.4" ry="0.6" fill="#f08060"/>
<ellipse cx="1036" cy="842.6" rx="1.2" ry="0.6" fill="#e06850"/>
<ellipse cx="1030" cy="781" rx="0.8" ry="0.8" fill="#f07858"/>
</g>
<text x="1019.3" y="739.8" font-size="13.6" fill="#fff1ea" text-anchor="middle" font-weight="bold" >Li (200)</text>
<rect x="756.4" y="705.9" width="298.3" height="232" fill="none" stroke="#000" stroke-width="3"/>
<path d="M789 937.9 v-3.6 M855.3 937.9 v-3.6 M921.7 937.9 v-3.6 M988 937.9 v-3.6 M822.2 937.9 v-2.6 M888.5 937.9 v-2.6 M954.9 937.9 v-2.6 M1021.2 937.9 v-2.6 " stroke="#000" stroke-width="1.8"/>
<text x="789" y="955.4" font-size="15" fill="#000" text-anchor="middle" font-weight="bold" >20</text>
<text x="855.3" y="955.4" font-size="15" fill="#000" text-anchor="middle" font-weight="bold" >40</text>
<text x="921.7" y="955.4" font-size="15" fill="#000" text-anchor="middle" font-weight="bold" >60</text>
<text x="988" y="955.4" font-size="15" fill="#000" text-anchor="middle" font-weight="bold" >80</text>
<text x="1054.4" y="955.4" font-size="15" fill="#000" text-anchor="middle" font-weight="bold" >100</text>
<text x="899.5" y="972.8" font-size="16" fill="#000" text-anchor="middle" font-weight="bold" >2 theta (degree)</text>
<text x="741.3" y="820" font-size="15.3" fill="#000" text-anchor="middle" font-weight="bold" transform="rotate(-90 741.3 820)">Intensity (a.u.)</text>
<text x="761.1" y="726.1" font-size="15.9" fill="#e09a3c" text-anchor="start" font-weight="bold" >Li after deposition on bare Li</text>
<text x="762.2" y="752.8" font-size="15.6" fill="#000" text-anchor="start" font-weight="bold" >1<tspan dy="-5.5" font-size="68%">st</tspan><tspan dy="5.5">&#8203;</tspan> cycle</text>
<text x="899.4" y="771.3" font-size="15.6" fill="#e09a3c" text-anchor="start" font-weight="bold" >Li (200)</text>
<text x="927.2" y="784.2" font-size="11.5" fill="#e0903a" text-anchor="middle" font-weight="bold" >#</text>
<text x="827.7" y="903" font-size="11.5" fill="#000" text-anchor="middle" font-weight="bold" >#</text>
<text x="979.3" y="903" font-size="11.5" fill="#000" text-anchor="middle" font-weight="bold" >#</text>
</svg>
</body></html>
